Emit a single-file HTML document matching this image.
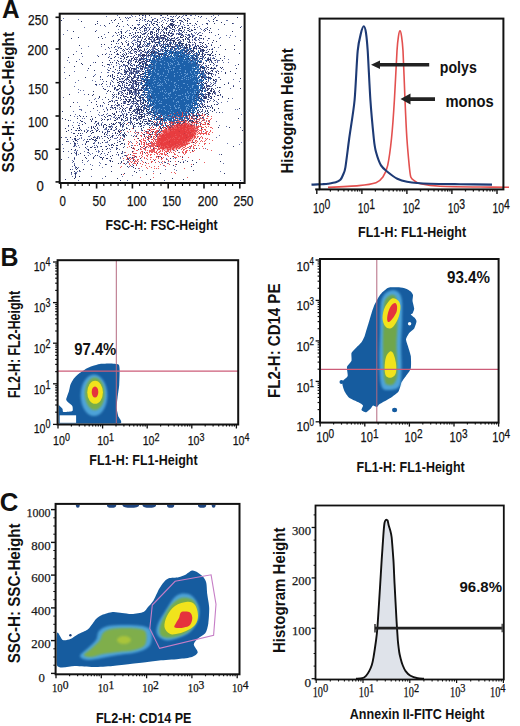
<!DOCTYPE html><html><head><meta charset="utf-8"><style>html,body{margin:0;padding:0;background:#fff;overflow:hidden;}svg{display:block;}</style></head><body><svg width="520" height="726" viewBox="0 0 520 726"><defs><filter id="bl" x="-10%" y="-10%" width="120%" height="120%"><feGaussianBlur stdDeviation="0.6"/></filter><filter id="bl2" x="-20%" y="-20%" width="140%" height="140%"><feGaussianBlur stdDeviation="1.2"/></filter><filter id="bl05" x="0" y="0" width="100%" height="100%"><feGaussianBlur stdDeviation="0.45"/></filter><clipPath id="cpBL"><rect x="58.6" y="261.2" width="178.6" height="162.3"/></clipPath><clipPath id="cpBR"><rect x="321" y="260" width="176.6" height="161.6"/></clipPath><clipPath id="cpCL"><rect x="56.6" y="504.9" width="181.9" height="168.4"/></clipPath><filter id="bl3" x="-30%" y="-30%" width="160%" height="160%"><feGaussianBlur stdDeviation="2.5"/></filter></defs><rect width="520" height="726" fill="#fff"/><text x="2" y="18.3" font-size="25.5" font-weight="bold" font-family='"Liberation Sans", sans-serif' fill="#111" textLength="17.6" lengthAdjust="spacingAndGlyphs">A</text><text x="0.5" y="266" font-size="25.5" font-weight="bold" font-family='"Liberation Sans", sans-serif' fill="#111" textLength="18.0" lengthAdjust="spacingAndGlyphs">B</text><text x="-0.3" y="511.3" font-size="26" font-weight="bold" font-family='"Liberation Sans", sans-serif' fill="#111" textLength="18.6" lengthAdjust="spacingAndGlyphs">C</text><g><g filter="url(#bl05)"><path d="M114 124h1v1h-1zM163 88h1v1h-1zM174 133h1v1h-1zM165 102h1v1h-1zM207 88h1v1h-1zM162 84h1v1h-1zM113 41h1v1h-1zM122 138h1v1h-1zM143 148h1v1h-1zM153 52h1v1h-1zM134 118h1v1h-1zM192 125h1v1h-1zM138 84h1v1h-1zM216 65h1v1h-1zM118 32h1v1h-1zM199 91h1v1h-1zM96 84h1v1h-1zM183 57h1v1h-1zM154 71h1v1h-1zM208 92h1v1h-1zM137 62h1v1h-1zM213 63h1v1h-1zM126 99h1v1h-1zM118 82h1v1h-1zM176 71h1v1h-1zM185 69h1v1h-1zM193 164h1v1h-1zM175 43h1v1h-1zM186 45h1v1h-1zM146 28h1v1h-1zM134 69h1v1h-1zM198 83h1v1h-1zM115 133h1v1h-1zM115 109h1v1h-1zM192 67h1v1h-1zM125 116h1v1h-1zM153 110h1v1h-1zM135 89h1v1h-1zM161 72h1v1h-1zM141 58h1v1h-1zM183 64h1v1h-1zM220 67h1v1h-1zM180 28h1v1h-1zM203 46h1v1h-1zM159 67h1v1h-1zM179 32h1v1h-1zM159 109h1v1h-1zM140 32h1v1h-1zM190 120h1v1h-1zM165 109h1v1h-1zM75 177h1v1h-1zM136 165h1v1h-1zM196 56h1v1h-1zM118 89h1v1h-1zM120 133h1v1h-1zM138 71h1v1h-1zM203 82h1v1h-1zM122 119h1v1h-1zM173 34h1v1h-1zM158 53h1v1h-1zM208 123h1v1h-1zM142 66h1v1h-1zM95 31h1v1h-1zM135 49h1v1h-1zM138 41h1v1h-1zM182 79h1v1h-1zM181 102h1v1h-1zM143 41h1v1h-1zM196 121h1v1h-1zM91 127h1v1h-1zM146 62h1v1h-1zM118 98h1v1h-1zM141 109h1v1h-1zM97 138h1v1h-1zM178 56h1v1h-1zM170 77h1v1h-1zM168 65h1v1h-1zM164 90h1v1h-1zM128 63h1v1h-1zM165 54h1v1h-1zM200 68h1v1h-1zM138 108h1v1h-1zM177 18h1v1h-1zM175 66h1v1h-1zM171 62h1v1h-1zM152 90h1v1h-1zM94 140h1v1h-1zM190 76h1v1h-1zM214 93h1v1h-1zM170 112h1v1h-1zM145 162h1v1h-1zM159 59h1v1h-1zM209 124h1v1h-1zM206 60h1v1h-1zM123 35h1v1h-1zM119 85h1v1h-1zM204 77h1v1h-1zM206 81h1v1h-1zM75 174h1v1h-1zM133 68h1v1h-1zM151 41h1v1h-1zM115 123h1v1h-1zM142 71h1v1h-1zM194 48h1v1h-1zM152 72h1v1h-1zM165 96h1v1h-1zM117 152h1v1h-1zM191 48h1v1h-1zM148 20h1v1h-1zM206 97h1v1h-1zM203 88h1v1h-1zM133 127h1v1h-1zM88 149h1v1h-1zM109 140h1v1h-1zM173 106h1v1h-1zM179 79h1v1h-1zM128 61h1v1h-1zM168 45h1v1h-1zM157 86h1v1h-1zM135 27h1v1h-1zM182 157h1v1h-1zM96 101h1v1h-1zM121 35h1v1h-1zM224 56h1v1h-1zM152 51h1v1h-1zM150 70h1v1h-1zM106 125h1v1h-1zM133 125h1v1h-1zM174 78h1v1h-1zM160 121h1v1h-1zM91 126h1v1h-1zM178 85h1v1h-1zM140 42h1v1h-1zM183 112h1v1h-1zM196 72h1v1h-1zM158 119h1v1h-1zM187 28h1v1h-1zM134 111h1v1h-1zM158 103h1v1h-1zM123 49h1v1h-1zM144 142h1v1h-1zM137 84h1v1h-1zM107 116h1v1h-1zM97 137h1v1h-1zM130 114h1v1h-1zM183 54h1v1h-1zM134 28h1v1h-1zM166 106h1v1h-1zM147 76h1v1h-1zM211 91h1v1h-1zM158 28h1v1h-1zM172 94h1v1h-1zM131 82h1v1h-1zM107 119h1v1h-1zM197 83h1v1h-1zM165 137h1v1h-1zM98 56h1v1h-1zM116 149h1v1h-1zM131 86h1v1h-1zM170 97h1v1h-1zM163 134h1v1h-1zM185 100h1v1h-1zM137 57h1v1h-1zM184 133h1v1h-1zM178 17h1v1h-1zM186 92h1v1h-1zM154 123h1v1h-1zM175 83h1v1h-1zM127 83h1v1h-1zM202 74h1v1h-1zM189 114h1v1h-1zM182 71h1v1h-1zM173 42h1v1h-1zM197 100h1v1h-1zM184 27h1v1h-1zM139 63h1v1h-1zM199 62h1v1h-1zM154 60h1v1h-1zM165 49h1v1h-1zM234 49h1v1h-1zM126 117h1v1h-1zM111 145h1v1h-1zM183 122h1v1h-1zM214 96h1v1h-1zM132 68h1v1h-1zM214 80h1v1h-1zM134 58h1v1h-1zM101 124h1v1h-1zM216 20h1v1h-1zM189 109h1v1h-1zM155 46h1v1h-1zM79 115h1v1h-1zM166 61h1v1h-1zM119 79h1v1h-1zM119 134h1v1h-1zM194 94h1v1h-1zM162 27h1v1h-1zM216 41h1v1h-1zM199 138h1v1h-1zM161 47h1v1h-1zM116 51h1v1h-1zM199 47h1v1h-1zM168 108h1v1h-1zM203 42h1v1h-1zM201 82h1v1h-1zM180 103h1v1h-1zM192 74h1v1h-1zM157 33h1v1h-1zM148 120h1v1h-1zM168 18h1v1h-1zM164 92h1v1h-1zM133 128h1v1h-1zM183 49h1v1h-1zM146 65h1v1h-1zM147 23h1v1h-1zM158 54h1v1h-1zM144 108h1v1h-1zM216 72h1v1h-1zM151 31h1v1h-1zM85 144h1v1h-1zM148 43h1v1h-1zM118 154h1v1h-1zM128 62h1v1h-1zM140 19h1v1h-1zM152 53h1v1h-1zM132 87h1v1h-1zM107 148h1v1h-1zM154 27h1v1h-1zM120 144h1v1h-1zM129 73h1v1h-1zM116 100h1v1h-1zM184 90h1v1h-1zM106 158h1v1h-1zM163 73h1v1h-1zM125 108h1v1h-1zM150 87h1v1h-1zM167 37h1v1h-1zM146 88h1v1h-1zM169 78h1v1h-1zM191 122h1v1h-1zM151 119h1v1h-1zM164 36h1v1h-1zM80 135h1v1h-1zM111 166h1v1h-1zM111 44h1v1h-1zM169 142h1v1h-1zM97 21h1v1h-1zM192 57h1v1h-1zM76 154h1v1h-1zM151 63h1v1h-1zM104 111h1v1h-1zM104 119h1v1h-1zM146 80h1v1h-1zM134 68h1v1h-1zM167 51h1v1h-1zM134 55h1v1h-1zM192 107h1v1h-1zM131 108h1v1h-1zM124 103h1v1h-1zM185 90h1v1h-1zM195 43h1v1h-1zM135 80h1v1h-1zM173 75h1v1h-1zM170 87h1v1h-1zM138 90h1v1h-1zM92 130h1v1h-1zM146 82h1v1h-1zM172 96h1v1h-1zM137 28h1v1h-1zM129 35h1v1h-1zM133 29h1v1h-1zM192 91h1v1h-1zM115 115h1v1h-1zM158 30h1v1h-1zM150 90h1v1h-1zM176 63h1v1h-1zM128 159h1v1h-1zM144 105h1v1h-1zM85 77h1v1h-1zM153 29h1v1h-1zM125 110h1v1h-1zM111 20h1v1h-1zM156 34h1v1h-1zM188 59h1v1h-1zM119 88h1v1h-1zM117 102h1v1h-1zM115 69h1v1h-1zM156 31h1v1h-1zM146 54h1v1h-1zM192 86h1v1h-1zM142 105h1v1h-1zM167 79h1v1h-1zM186 85h1v1h-1zM128 90h1v1h-1zM143 59h1v1h-1zM174 61h1v1h-1zM96 124h1v1h-1zM90 147h1v1h-1zM160 96h1v1h-1zM166 105h1v1h-1zM147 21h1v1h-1zM127 77h1v1h-1zM186 47h1v1h-1zM108 90h1v1h-1zM193 121h1v1h-1zM156 57h1v1h-1zM185 62h1v1h-1zM125 120h1v1h-1zM210 77h1v1h-1zM173 73h1v1h-1zM178 79h1v1h-1zM124 58h1v1h-1zM206 94h1v1h-1zM181 54h1v1h-1zM98 37h1v1h-1zM147 72h1v1h-1zM206 87h1v1h-1zM172 38h1v1h-1zM201 111h1v1h-1zM149 25h1v1h-1zM174 27h1v1h-1zM200 66h1v1h-1zM166 80h1v1h-1zM158 108h1v1h-1zM191 60h1v1h-1zM191 33h1v1h-1zM239 108h1v1h-1zM167 57h1v1h-1zM170 130h1v1h-1zM135 97h1v1h-1zM121 87h1v1h-1zM86 142h1v1h-1zM156 30h1v1h-1zM118 131h1v1h-1zM132 25h1v1h-1zM159 71h1v1h-1zM160 126h1v1h-1zM179 58h1v1h-1zM197 92h1v1h-1zM208 93h1v1h-1zM121 99h1v1h-1zM142 63h1v1h-1zM207 23h1v1h-1zM88 141h1v1h-1zM162 30h1v1h-1zM74 66h1v1h-1zM184 83h1v1h-1zM149 59h1v1h-1zM91 102h1v1h-1zM192 37h1v1h-1zM134 139h1v1h-1zM166 107h1v1h-1zM212 93h1v1h-1zM191 125h1v1h-1zM178 113h1v1h-1zM158 60h1v1h-1zM159 138h1v1h-1zM154 51h1v1h-1zM162 101h1v1h-1zM182 106h1v1h-1zM131 63h1v1h-1zM73 31h1v1h-1zM199 105h1v1h-1zM105 97h1v1h-1zM164 53h1v1h-1zM208 65h1v1h-1zM187 23h1v1h-1zM178 65h1v1h-1zM128 43h1v1h-1zM165 64h1v1h-1zM139 96h1v1h-1zM148 38h1v1h-1zM177 67h1v1h-1zM187 161h1v1h-1zM127 157h1v1h-1zM202 54h1v1h-1zM214 68h1v1h-1zM139 73h1v1h-1zM157 61h1v1h-1zM142 90h1v1h-1zM169 38h1v1h-1zM176 78h1v1h-1zM202 91h1v1h-1zM131 92h1v1h-1zM174 58h1v1h-1zM166 44h1v1h-1zM171 52h1v1h-1zM148 80h1v1h-1zM86 132h1v1h-1zM137 109h1v1h-1zM180 75h1v1h-1zM211 90h1v1h-1zM124 54h1v1h-1zM162 91h1v1h-1zM142 130h1v1h-1zM160 78h1v1h-1zM188 50h1v1h-1zM211 78h1v1h-1zM177 93h1v1h-1zM169 70h1v1h-1zM162 86h1v1h-1zM111 128h1v1h-1zM145 63h1v1h-1zM114 57h1v1h-1zM130 27h1v1h-1zM110 137h1v1h-1zM142 116h1v1h-1zM210 98h1v1h-1zM147 80h1v1h-1zM171 38h1v1h-1zM176 92h1v1h-1zM154 124h1v1h-1zM183 58h1v1h-1zM148 82h1v1h-1zM179 64h1v1h-1zM127 97h1v1h-1zM136 65h1v1h-1zM177 44h1v1h-1zM141 40h1v1h-1zM104 134h1v1h-1zM144 94h1v1h-1zM183 111h1v1h-1zM147 70h1v1h-1zM185 92h1v1h-1zM105 117h1v1h-1zM169 122h1v1h-1zM116 126h1v1h-1zM183 40h1v1h-1zM93 127h1v1h-1zM202 67h1v1h-1zM189 85h1v1h-1zM187 120h1v1h-1zM161 15h1v1h-1zM213 92h1v1h-1zM174 55h1v1h-1zM149 41h1v1h-1zM202 45h1v1h-1zM120 46h1v1h-1zM79 128h1v1h-1zM193 142h1v1h-1zM146 110h1v1h-1zM145 64h1v1h-1zM130 81h1v1h-1zM124 72h1v1h-1zM202 88h1v1h-1zM140 36h1v1h-1zM201 90h1v1h-1zM174 126h1v1h-1zM144 143h1v1h-1zM142 61h1v1h-1zM162 56h1v1h-1zM169 152h1v1h-1zM136 136h1v1h-1zM189 106h1v1h-1zM149 55h1v1h-1zM196 58h1v1h-1zM180 79h1v1h-1zM159 62h1v1h-1zM180 60h1v1h-1zM149 134h1v1h-1zM165 114h1v1h-1zM61 20h1v1h-1zM188 55h1v1h-1zM198 33h1v1h-1zM189 79h1v1h-1zM131 73h1v1h-1zM157 63h1v1h-1zM147 74h1v1h-1zM160 89h1v1h-1zM71 153h1v1h-1zM185 83h1v1h-1zM217 95h1v1h-1zM168 75h1v1h-1zM131 72h1v1h-1zM170 102h1v1h-1zM176 97h1v1h-1zM180 90h1v1h-1zM137 111h1v1h-1zM162 105h1v1h-1zM77 135h1v1h-1zM162 53h1v1h-1zM97 146h1v1h-1zM176 94h1v1h-1zM169 46h1v1h-1zM121 32h1v1h-1zM153 63h1v1h-1zM165 53h1v1h-1zM156 116h1v1h-1zM93 91h1v1h-1zM165 58h1v1h-1zM75 140h1v1h-1zM208 77h1v1h-1zM228 98h1v1h-1zM117 148h1v1h-1zM142 121h1v1h-1zM202 77h1v1h-1zM140 121h1v1h-1zM204 87h1v1h-1zM182 83h1v1h-1zM186 51h1v1h-1zM200 56h1v1h-1zM140 41h1v1h-1zM174 88h1v1h-1zM121 119h1v1h-1zM209 88h1v1h-1zM177 96h1v1h-1zM144 134h1v1h-1zM117 118h1v1h-1zM128 85h1v1h-1zM110 62h1v1h-1zM187 47h1v1h-1zM155 104h1v1h-1zM178 51h1v1h-1zM75 139h1v1h-1zM171 23h1v1h-1zM115 32h1v1h-1zM155 37h1v1h-1zM196 67h1v1h-1zM207 106h1v1h-1zM127 158h1v1h-1zM141 55h1v1h-1zM212 55h1v1h-1zM102 83h1v1h-1zM150 103h1v1h-1zM144 115h1v1h-1zM192 99h1v1h-1zM184 80h1v1h-1zM161 116h1v1h-1zM170 24h1v1h-1zM95 121h1v1h-1zM195 55h1v1h-1zM171 24h1v1h-1zM94 128h1v1h-1zM220 94h1v1h-1zM167 109h1v1h-1zM138 72h1v1h-1zM181 30h1v1h-1zM133 60h1v1h-1zM130 120h1v1h-1zM208 78h1v1h-1zM134 77h1v1h-1zM207 111h1v1h-1zM172 109h1v1h-1zM133 126h1v1h-1zM150 54h1v1h-1zM134 65h1v1h-1zM188 34h1v1h-1zM90 119h1v1h-1zM100 76h1v1h-1zM168 69h1v1h-1zM209 92h1v1h-1zM167 112h1v1h-1zM153 148h1v1h-1zM149 141h1v1h-1zM157 39h1v1h-1zM135 156h1v1h-1zM199 42h1v1h-1zM107 154h1v1h-1zM168 117h1v1h-1zM138 107h1v1h-1zM186 32h1v1h-1zM162 24h1v1h-1zM170 78h1v1h-1zM205 57h1v1h-1zM87 131h1v1h-1zM66 141h1v1h-1zM114 47h1v1h-1zM161 64h1v1h-1zM188 82h1v1h-1zM143 102h1v1h-1zM101 157h1v1h-1zM163 91h1v1h-1zM141 90h1v1h-1zM114 113h1v1h-1zM125 99h1v1h-1zM137 112h1v1h-1zM172 83h1v1h-1zM152 24h1v1h-1zM121 82h1v1h-1zM186 106h1v1h-1zM188 39h1v1h-1zM148 55h1v1h-1zM163 41h1v1h-1zM213 79h1v1h-1zM177 85h1v1h-1zM151 88h1v1h-1zM202 106h1v1h-1zM186 66h1v1h-1zM157 134h1v1h-1zM137 88h1v1h-1zM171 46h1v1h-1zM217 87h1v1h-1zM177 139h1v1h-1zM91 138h1v1h-1zM109 60h1v1h-1zM202 117h1v1h-1zM134 49h1v1h-1zM152 32h1v1h-1zM182 37h1v1h-1zM123 81h1v1h-1zM163 87h1v1h-1zM157 82h1v1h-1zM158 42h1v1h-1zM133 78h1v1h-1zM105 54h1v1h-1zM200 90h1v1h-1zM135 81h1v1h-1zM125 36h1v1h-1zM157 29h1v1h-1zM131 94h1v1h-1zM180 81h1v1h-1zM129 69h1v1h-1zM191 77h1v1h-1zM99 97h1v1h-1zM166 39h1v1h-1zM163 69h1v1h-1zM95 24h1v1h-1zM154 46h1v1h-1zM201 16h1v1h-1zM177 53h1v1h-1zM133 88h1v1h-1zM151 112h1v1h-1zM74 158h1v1h-1zM234 45h1v1h-1zM159 84h1v1h-1zM138 138h1v1h-1zM155 90h1v1h-1zM142 151h1v1h-1zM200 48h1v1h-1zM76 153h1v1h-1zM143 55h1v1h-1zM73 161h1v1h-1zM215 79h1v1h-1zM178 115h1v1h-1zM150 39h1v1h-1zM171 19h1v1h-1zM121 130h1v1h-1zM207 86h1v1h-1zM118 104h1v1h-1zM139 37h1v1h-1zM122 151h1v1h-1zM189 95h1v1h-1zM176 111h1v1h-1zM178 62h1v1h-1zM152 68h1v1h-1zM163 37h1v1h-1zM194 115h1v1h-1zM124 129h1v1h-1zM215 81h1v1h-1zM144 69h1v1h-1zM218 71h1v1h-1zM169 143h1v1h-1zM173 98h1v1h-1zM118 122h1v1h-1zM121 48h1v1h-1zM133 73h1v1h-1zM177 65h1v1h-1zM143 100h1v1h-1zM146 59h1v1h-1zM225 73h1v1h-1zM125 66h1v1h-1zM170 53h1v1h-1zM159 55h1v1h-1zM195 60h1v1h-1zM151 103h1v1h-1zM156 94h1v1h-1zM210 90h1v1h-1zM153 104h1v1h-1zM240 40h1v1h-1zM184 19h1v1h-1zM197 63h1v1h-1zM86 141h1v1h-1zM185 58h1v1h-1zM190 96h1v1h-1zM181 52h1v1h-1zM188 66h1v1h-1zM110 161h1v1h-1zM188 77h1v1h-1zM152 123h1v1h-1zM181 92h1v1h-1zM125 96h1v1h-1zM144 39h1v1h-1zM120 122h1v1h-1zM169 42h1v1h-1zM124 135h1v1h-1zM218 95h1v1h-1zM164 77h1v1h-1zM122 143h1v1h-1zM205 54h1v1h-1zM141 68h1v1h-1zM211 89h1v1h-1zM176 64h1v1h-1zM123 64h1v1h-1zM201 83h1v1h-1zM181 101h1v1h-1zM174 100h1v1h-1zM173 24h1v1h-1zM158 117h1v1h-1zM134 36h1v1h-1zM166 30h1v1h-1zM158 71h1v1h-1zM195 29h1v1h-1zM170 45h1v1h-1zM159 104h1v1h-1zM166 41h1v1h-1zM145 24h1v1h-1zM178 68h1v1h-1zM154 107h1v1h-1zM168 90h1v1h-1zM170 43h1v1h-1zM183 134h1v1h-1zM144 116h1v1h-1zM117 178h1v1h-1zM191 69h1v1h-1zM135 69h1v1h-1zM120 125h1v1h-1zM75 173h1v1h-1zM180 42h1v1h-1zM203 100h1v1h-1zM144 136h1v1h-1zM150 134h1v1h-1zM131 97h1v1h-1zM165 86h1v1h-1zM102 159h1v1h-1zM151 37h1v1h-1zM143 79h1v1h-1zM219 112h1v1h-1zM113 40h1v1h-1zM225 49h1v1h-1zM184 53h1v1h-1zM208 96h1v1h-1zM166 103h1v1h-1zM174 91h1v1h-1zM154 55h1v1h-1zM170 50h1v1h-1zM119 68h1v1h-1zM117 133h1v1h-1zM156 78h1v1h-1zM166 46h1v1h-1zM155 74h1v1h-1zM208 51h1v1h-1zM148 102h1v1h-1zM153 127h1v1h-1zM153 122h1v1h-1zM157 55h1v1h-1zM104 116h1v1h-1zM149 123h1v1h-1zM192 51h1v1h-1zM125 32h1v1h-1zM215 17h1v1h-1zM116 122h1v1h-1zM148 81h1v1h-1zM191 70h1v1h-1zM122 43h1v1h-1zM196 75h1v1h-1zM131 74h1v1h-1zM166 36h1v1h-1zM133 82h1v1h-1zM125 71h1v1h-1zM197 88h1v1h-1zM201 97h1v1h-1zM179 43h1v1h-1zM132 49h1v1h-1zM157 100h1v1h-1zM121 88h1v1h-1zM133 34h1v1h-1zM107 64h1v1h-1zM150 33h1v1h-1zM104 44h1v1h-1zM219 87h1v1h-1zM148 65h1v1h-1zM173 100h1v1h-1zM203 56h1v1h-1zM161 55h1v1h-1zM108 152h1v1h-1zM188 30h1v1h-1zM154 32h1v1h-1zM110 75h1v1h-1zM215 60h1v1h-1zM163 96h1v1h-1zM165 46h1v1h-1zM140 126h1v1h-1zM157 88h1v1h-1zM126 83h1v1h-1zM195 88h1v1h-1zM149 113h1v1h-1zM177 27h1v1h-1zM208 54h1v1h-1zM182 53h1v1h-1zM189 31h1v1h-1zM218 127h1v1h-1zM85 147h1v1h-1zM130 96h1v1h-1zM209 86h1v1h-1zM177 76h1v1h-1zM174 41h1v1h-1zM153 78h1v1h-1zM125 134h1v1h-1zM110 126h1v1h-1zM189 72h1v1h-1zM164 112h1v1h-1zM174 129h1v1h-1zM175 81h1v1h-1zM191 101h1v1h-1zM149 15h1v1h-1zM167 56h1v1h-1zM202 43h1v1h-1zM182 120h1v1h-1zM140 109h1v1h-1zM118 92h1v1h-1zM191 50h1v1h-1zM118 93h1v1h-1zM121 120h1v1h-1zM164 86h1v1h-1zM169 65h1v1h-1zM145 101h1v1h-1zM119 83h1v1h-1zM205 106h1v1h-1zM114 72h1v1h-1zM131 77h1v1h-1zM151 131h1v1h-1zM157 113h1v1h-1zM162 61h1v1h-1zM159 117h1v1h-1zM172 26h1v1h-1zM170 79h1v1h-1zM182 84h1v1h-1zM167 104h1v1h-1zM175 89h1v1h-1zM135 28h1v1h-1zM127 92h1v1h-1zM206 108h1v1h-1zM139 106h1v1h-1zM120 108h1v1h-1zM162 70h1v1h-1zM140 43h1v1h-1zM118 130h1v1h-1zM120 37h1v1h-1zM114 20h1v1h-1zM143 73h1v1h-1zM151 87h1v1h-1zM117 54h1v1h-1zM209 77h1v1h-1zM102 65h1v1h-1zM180 64h1v1h-1zM140 123h1v1h-1zM170 127h1v1h-1zM166 100h1v1h-1zM166 126h1v1h-1zM183 36h1v1h-1zM176 79h1v1h-1zM212 52h1v1h-1zM139 110h1v1h-1zM154 90h1v1h-1zM204 97h1v1h-1zM146 67h1v1h-1zM151 95h1v1h-1zM172 31h1v1h-1zM131 48h1v1h-1zM210 64h1v1h-1zM188 52h1v1h-1zM116 62h1v1h-1zM141 27h1v1h-1zM114 89h1v1h-1zM131 147h1v1h-1zM173 66h1v1h-1zM102 62h1v1h-1zM156 79h1v1h-1zM213 21h1v1h-1zM154 59h1v1h-1zM179 20h1v1h-1zM153 117h1v1h-1zM137 123h1v1h-1zM176 73h1v1h-1zM137 67h1v1h-1zM173 99h1v1h-1zM196 123h1v1h-1zM161 118h1v1h-1zM186 77h1v1h-1zM197 93h1v1h-1zM147 115h1v1h-1zM132 43h1v1h-1zM139 47h1v1h-1zM142 106h1v1h-1zM160 81h1v1h-1zM201 73h1v1h-1zM156 105h1v1h-1zM65 128h1v1h-1zM154 39h1v1h-1zM149 105h1v1h-1zM122 21h1v1h-1zM188 119h1v1h-1zM220 79h1v1h-1zM185 97h1v1h-1zM124 144h1v1h-1zM142 56h1v1h-1zM149 87h1v1h-1zM143 111h1v1h-1zM134 89h1v1h-1zM138 110h1v1h-1zM132 157h1v1h-1zM184 70h1v1h-1zM123 95h1v1h-1zM169 26h1v1h-1zM189 105h1v1h-1zM196 46h1v1h-1zM161 130h1v1h-1zM126 135h1v1h-1zM142 55h1v1h-1zM191 116h1v1h-1zM242 130h1v1h-1zM158 124h1v1h-1zM108 99h1v1h-1zM143 64h1v1h-1zM190 115h1v1h-1zM82 160h1v1h-1zM112 144h1v1h-1zM127 24h1v1h-1zM116 111h1v1h-1zM183 114h1v1h-1zM140 47h1v1h-1zM174 40h1v1h-1zM135 92h1v1h-1zM193 114h1v1h-1zM139 98h1v1h-1zM167 60h1v1h-1zM177 78h1v1h-1zM142 83h1v1h-1zM205 71h1v1h-1zM181 124h1v1h-1zM132 46h1v1h-1zM119 131h1v1h-1zM206 77h1v1h-1zM178 60h1v1h-1zM125 17h1v1h-1zM155 71h1v1h-1zM140 28h1v1h-1zM137 46h1v1h-1zM147 95h1v1h-1zM159 29h1v1h-1zM93 143h1v1h-1zM131 162h1v1h-1zM155 81h1v1h-1zM148 73h1v1h-1zM113 145h1v1h-1zM154 23h1v1h-1zM130 117h1v1h-1zM158 65h1v1h-1zM189 81h1v1h-1zM122 83h1v1h-1zM196 97h1v1h-1zM153 56h1v1h-1zM188 109h1v1h-1zM163 58h1v1h-1zM169 80h1v1h-1zM181 91h1v1h-1zM202 53h1v1h-1zM187 53h1v1h-1zM183 120h1v1h-1zM138 100h1v1h-1zM136 172h1v1h-1zM93 157h1v1h-1zM183 31h1v1h-1zM141 106h1v1h-1zM194 59h1v1h-1zM163 105h1v1h-1zM175 96h1v1h-1zM143 91h1v1h-1zM172 49h1v1h-1zM148 137h1v1h-1zM156 112h1v1h-1zM81 130h1v1h-1zM116 43h1v1h-1zM154 66h1v1h-1zM181 43h1v1h-1zM148 143h1v1h-1zM164 87h1v1h-1zM140 68h1v1h-1zM165 39h1v1h-1zM201 76h1v1h-1zM151 51h1v1h-1zM185 59h1v1h-1zM141 104h1v1h-1zM140 124h1v1h-1zM130 154h1v1h-1zM117 25h1v1h-1zM138 54h1v1h-1zM139 75h1v1h-1zM157 108h1v1h-1zM171 100h1v1h-1zM154 62h1v1h-1zM130 110h1v1h-1zM144 113h1v1h-1zM144 50h1v1h-1zM199 71h1v1h-1zM93 94h1v1h-1zM173 165h1v1h-1zM201 38h1v1h-1zM167 46h1v1h-1zM155 42h1v1h-1zM117 75h1v1h-1zM157 42h1v1h-1zM112 135h1v1h-1zM193 72h1v1h-1zM159 43h1v1h-1zM145 52h1v1h-1zM112 136h1v1h-1zM176 74h1v1h-1zM188 79h1v1h-1zM184 131h1v1h-1zM172 89h1v1h-1zM79 127h1v1h-1zM148 138h1v1h-1zM115 56h1v1h-1zM164 75h1v1h-1zM134 27h1v1h-1zM189 63h1v1h-1zM214 91h1v1h-1zM149 37h1v1h-1zM196 52h1v1h-1zM81 53h1v1h-1zM183 105h1v1h-1zM171 129h1v1h-1zM152 139h1v1h-1zM193 86h1v1h-1zM149 72h1v1h-1zM183 94h1v1h-1zM170 56h1v1h-1zM133 57h1v1h-1zM111 129h1v1h-1zM135 168h1v1h-1zM188 100h1v1h-1zM196 71h1v1h-1zM240 78h1v1h-1zM146 111h1v1h-1zM136 49h1v1h-1zM142 58h1v1h-1zM76 140h1v1h-1zM145 38h1v1h-1zM132 113h1v1h-1zM177 75h1v1h-1zM166 108h1v1h-1zM208 43h1v1h-1zM173 47h1v1h-1zM107 109h1v1h-1zM137 78h1v1h-1zM95 149h1v1h-1zM139 62h1v1h-1zM208 58h1v1h-1zM187 109h1v1h-1zM157 75h1v1h-1zM126 54h1v1h-1zM104 140h1v1h-1zM68 120h1v1h-1zM120 137h1v1h-1zM172 25h1v1h-1zM147 137h1v1h-1zM117 82h1v1h-1zM135 98h1v1h-1zM160 62h1v1h-1zM94 147h1v1h-1zM137 41h1v1h-1zM197 74h1v1h-1zM189 74h1v1h-1zM187 117h1v1h-1zM203 107h1v1h-1zM83 116h1v1h-1zM189 69h1v1h-1zM150 84h1v1h-1zM174 70h1v1h-1zM105 124h1v1h-1zM146 101h1v1h-1zM103 157h1v1h-1zM185 107h1v1h-1zM200 46h1v1h-1zM192 89h1v1h-1zM189 37h1v1h-1zM120 58h1v1h-1zM179 45h1v1h-1zM108 138h1v1h-1zM212 85h1v1h-1zM186 15h1v1h-1zM73 141h1v1h-1zM181 37h1v1h-1zM185 126h1v1h-1zM190 82h1v1h-1zM169 94h1v1h-1zM174 50h1v1h-1zM191 30h1v1h-1zM202 47h1v1h-1zM62 111h1v1h-1zM145 55h1v1h-1zM218 34h1v1h-1zM205 98h1v1h-1zM136 102h1v1h-1zM208 85h1v1h-1zM180 20h1v1h-1zM198 54h1v1h-1zM73 127h1v1h-1zM146 106h1v1h-1zM165 38h1v1h-1zM162 37h1v1h-1zM176 85h1v1h-1zM154 89h1v1h-1zM185 60h1v1h-1zM96 140h1v1h-1zM167 28h1v1h-1zM188 65h1v1h-1zM166 78h1v1h-1zM134 76h1v1h-1zM163 81h1v1h-1zM142 54h1v1h-1zM108 47h1v1h-1zM144 77h1v1h-1zM152 88h1v1h-1zM152 58h1v1h-1zM139 140h1v1h-1zM184 65h1v1h-1zM164 104h1v1h-1zM214 110h1v1h-1zM191 166h1v1h-1zM193 66h1v1h-1zM139 144h1v1h-1zM159 51h1v1h-1zM170 110h1v1h-1zM133 117h1v1h-1zM214 100h1v1h-1zM74 171h1v1h-1zM187 95h1v1h-1zM159 94h1v1h-1zM115 127h1v1h-1zM77 118h1v1h-1zM213 89h1v1h-1zM151 127h1v1h-1zM161 74h1v1h-1zM118 163h1v1h-1zM131 58h1v1h-1zM188 58h1v1h-1zM131 122h1v1h-1zM206 47h1v1h-1zM158 110h1v1h-1zM121 33h1v1h-1zM175 49h1v1h-1zM152 132h1v1h-1zM167 90h1v1h-1zM192 62h1v1h-1zM155 73h1v1h-1zM165 69h1v1h-1zM193 109h1v1h-1zM128 51h1v1h-1zM210 93h1v1h-1zM198 100h1v1h-1zM137 75h1v1h-1zM177 101h1v1h-1zM185 85h1v1h-1zM144 33h1v1h-1zM162 135h1v1h-1zM124 136h1v1h-1zM146 64h1v1h-1zM159 40h1v1h-1zM203 63h1v1h-1zM142 26h1v1h-1zM177 80h1v1h-1zM121 36h1v1h-1zM193 85h1v1h-1zM177 55h1v1h-1zM173 128h1v1h-1zM123 76h1v1h-1zM91 147h1v1h-1zM172 47h1v1h-1zM142 73h1v1h-1zM199 75h1v1h-1zM163 94h1v1h-1zM159 39h1v1h-1zM174 89h1v1h-1zM180 119h1v1h-1zM192 160h1v1h-1zM111 105h1v1h-1zM183 115h1v1h-1zM174 80h1v1h-1zM105 89h1v1h-1zM94 70h1v1h-1zM170 106h1v1h-1zM160 173h1v1h-1zM176 61h1v1h-1zM203 94h1v1h-1zM112 62h1v1h-1zM211 88h1v1h-1zM202 49h1v1h-1zM154 48h1v1h-1zM122 85h1v1h-1zM203 51h1v1h-1zM66 131h1v1h-1zM148 54h1v1h-1zM189 58h1v1h-1zM129 129h1v1h-1zM194 68h1v1h-1zM162 79h1v1h-1zM167 15h1v1h-1zM164 83h1v1h-1zM130 64h1v1h-1zM109 126h1v1h-1zM136 81h1v1h-1zM193 47h1v1h-1zM168 61h1v1h-1zM199 52h1v1h-1zM130 118h1v1h-1zM175 84h1v1h-1zM174 104h1v1h-1zM165 88h1v1h-1zM207 67h1v1h-1zM151 136h1v1h-1zM145 27h1v1h-1zM201 46h1v1h-1zM146 58h1v1h-1zM129 68h1v1h-1zM127 66h1v1h-1zM188 28h1v1h-1zM95 117h1v1h-1zM204 68h1v1h-1zM133 136h1v1h-1zM116 96h1v1h-1zM163 79h1v1h-1zM178 87h1v1h-1zM200 35h1v1h-1zM110 91h1v1h-1zM118 40h1v1h-1zM153 23h1v1h-1zM183 93h1v1h-1zM161 108h1v1h-1zM192 106h1v1h-1zM140 158h1v1h-1zM164 28h1v1h-1zM168 86h1v1h-1zM213 91h1v1h-1zM124 163h1v1h-1zM144 55h1v1h-1zM144 54h1v1h-1zM176 113h1v1h-1zM211 105h1v1h-1zM153 68h1v1h-1zM167 115h1v1h-1zM93 139h1v1h-1zM228 83h1v1h-1zM157 102h1v1h-1zM161 83h1v1h-1zM159 74h1v1h-1zM163 71h1v1h-1zM131 53h1v1h-1zM159 123h1v1h-1zM163 64h1v1h-1zM192 140h1v1h-1zM117 35h1v1h-1zM204 98h1v1h-1zM137 96h1v1h-1zM138 75h1v1h-1zM143 99h1v1h-1zM154 56h1v1h-1zM207 77h1v1h-1zM124 173h1v1h-1zM169 101h1v1h-1zM215 68h1v1h-1zM187 107h1v1h-1zM196 113h1v1h-1zM183 55h1v1h-1zM162 97h1v1h-1zM126 71h1v1h-1zM174 56h1v1h-1zM171 105h1v1h-1zM210 96h1v1h-1zM76 167h1v1h-1zM139 90h1v1h-1zM179 44h1v1h-1zM131 50h1v1h-1zM165 70h1v1h-1zM157 77h1v1h-1zM74 145h1v1h-1zM172 104h1v1h-1zM178 78h1v1h-1zM73 54h1v1h-1zM152 41h1v1h-1zM126 57h1v1h-1zM121 124h1v1h-1zM143 61h1v1h-1zM158 82h1v1h-1zM138 94h1v1h-1zM173 25h1v1h-1zM180 62h1v1h-1zM141 110h1v1h-1zM167 153h1v1h-1zM143 134h1v1h-1zM118 117h1v1h-1zM186 73h1v1h-1zM192 92h1v1h-1zM109 23h1v1h-1zM128 68h1v1h-1zM174 37h1v1h-1zM74 138h1v1h-1zM189 89h1v1h-1zM212 71h1v1h-1zM113 78h1v1h-1zM126 53h1v1h-1zM131 91h1v1h-1zM163 43h1v1h-1zM205 83h1v1h-1zM135 57h1v1h-1zM167 142h1v1h-1zM181 76h1v1h-1zM176 102h1v1h-1zM70 169h1v1h-1zM122 54h1v1h-1zM171 84h1v1h-1zM183 142h1v1h-1zM204 86h1v1h-1zM177 126h1v1h-1zM111 123h1v1h-1zM193 49h1v1h-1zM121 103h1v1h-1zM146 131h1v1h-1zM91 133h1v1h-1zM204 47h1v1h-1zM166 93h1v1h-1zM147 109h1v1h-1zM187 106h1v1h-1zM133 71h1v1h-1zM184 93h1v1h-1zM143 74h1v1h-1zM117 60h1v1h-1zM149 120h1v1h-1zM200 70h1v1h-1zM90 131h1v1h-1zM112 161h1v1h-1zM102 79h1v1h-1zM127 119h1v1h-1zM156 124h1v1h-1zM159 63h1v1h-1zM104 25h1v1h-1zM199 94h1v1h-1zM232 23h1v1h-1zM118 23h1v1h-1zM101 36h1v1h-1zM181 69h1v1h-1zM133 99h1v1h-1zM146 121h1v1h-1zM149 66h1v1h-1zM113 124h1v1h-1zM168 98h1v1h-1zM142 153h1v1h-1zM176 62h1v1h-1zM154 160h1v1h-1zM205 72h1v1h-1zM131 65h1v1h-1zM196 148h1v1h-1zM93 108h1v1h-1zM123 61h1v1h-1zM182 44h1v1h-1zM161 54h1v1h-1zM102 142h1v1h-1zM114 88h1v1h-1zM185 68h1v1h-1zM141 117h1v1h-1zM203 96h1v1h-1zM164 118h1v1h-1zM101 146h1v1h-1zM204 96h1v1h-1zM115 107h1v1h-1zM117 80h1v1h-1zM153 84h1v1h-1zM210 107h1v1h-1zM220 58h1v1h-1zM178 103h1v1h-1zM158 55h1v1h-1zM212 51h1v1h-1zM136 95h1v1h-1zM171 35h1v1h-1zM119 39h1v1h-1zM144 26h1v1h-1zM161 91h1v1h-1zM182 34h1v1h-1zM147 113h1v1h-1zM92 95h1v1h-1zM204 91h1v1h-1zM170 158h1v1h-1zM173 16h1v1h-1zM75 143h1v1h-1zM199 82h1v1h-1zM124 123h1v1h-1zM158 75h1v1h-1zM144 100h1v1h-1zM174 102h1v1h-1zM195 23h1v1h-1zM221 22h1v1h-1zM122 94h1v1h-1zM209 55h1v1h-1zM97 130h1v1h-1zM186 69h1v1h-1zM104 136h1v1h-1zM174 65h1v1h-1zM188 25h1v1h-1zM169 32h1v1h-1zM123 108h1v1h-1zM186 98h1v1h-1zM157 119h1v1h-1zM167 44h1v1h-1zM93 132h1v1h-1zM123 56h1v1h-1zM172 19h1v1h-1zM173 21h1v1h-1zM155 86h1v1h-1zM79 130h1v1h-1zM198 65h1v1h-1zM192 121h1v1h-1zM186 75h1v1h-1zM187 20h1v1h-1zM186 93h1v1h-1zM130 90h1v1h-1zM76 152h1v1h-1zM134 75h1v1h-1zM135 51h1v1h-1zM197 87h1v1h-1zM140 65h1v1h-1zM130 93h1v1h-1zM181 45h1v1h-1zM136 66h1v1h-1zM183 59h1v1h-1zM150 80h1v1h-1zM185 51h1v1h-1zM179 28h1v1h-1zM200 67h1v1h-1zM212 42h1v1h-1zM93 76h1v1h-1zM185 116h1v1h-1zM122 110h1v1h-1zM138 149h1v1h-1zM133 167h1v1h-1zM173 156h1v1h-1zM188 95h1v1h-1zM164 101h1v1h-1zM143 107h1v1h-1zM184 48h1v1h-1zM139 45h1v1h-1zM150 179h1v1h-1zM119 141h1v1h-1zM158 58h1v1h-1zM117 103h1v1h-1zM127 49h1v1h-1zM156 136h1v1h-1zM198 46h1v1h-1zM156 89h1v1h-1zM198 87h1v1h-1zM200 51h1v1h-1zM156 80h1v1h-1zM202 109h1v1h-1zM119 17h1v1h-1zM159 146h1v1h-1zM179 42h1v1h-1zM135 88h1v1h-1zM198 55h1v1h-1zM110 51h1v1h-1zM180 30h1v1h-1zM130 33h1v1h-1zM170 20h1v1h-1zM162 121h1v1h-1zM195 56h1v1h-1zM163 75h1v1h-1zM202 71h1v1h-1zM120 180h1v1h-1zM142 87h1v1h-1zM74 143h1v1h-1zM124 46h1v1h-1zM135 83h1v1h-1zM168 106h1v1h-1zM132 103h1v1h-1zM184 124h1v1h-1zM167 68h1v1h-1zM81 121h1v1h-1zM189 86h1v1h-1zM145 102h1v1h-1zM178 98h1v1h-1zM146 92h1v1h-1zM191 72h1v1h-1zM141 114h1v1h-1zM181 112h1v1h-1zM185 79h1v1h-1zM93 158h1v1h-1zM210 73h1v1h-1zM160 92h1v1h-1zM176 116h1v1h-1zM157 37h1v1h-1zM182 81h1v1h-1zM217 104h1v1h-1zM170 115h1v1h-1zM189 82h1v1h-1zM183 43h1v1h-1zM189 40h1v1h-1zM150 79h1v1h-1zM164 64h1v1h-1zM169 109h1v1h-1zM184 50h1v1h-1zM157 83h1v1h-1zM220 45h1v1h-1zM115 19h1v1h-1zM211 61h1v1h-1zM133 101h1v1h-1zM164 54h1v1h-1zM116 112h1v1h-1zM131 90h1v1h-1zM86 116h1v1h-1zM192 36h1v1h-1zM213 40h1v1h-1zM78 130h1v1h-1zM127 101h1v1h-1zM121 61h1v1h-1zM154 81h1v1h-1zM163 42h1v1h-1zM175 77h1v1h-1zM221 68h1v1h-1zM166 128h1v1h-1zM185 135h1v1h-1zM159 69h1v1h-1zM151 34h1v1h-1zM141 87h1v1h-1zM109 124h1v1h-1zM96 104h1v1h-1zM202 55h1v1h-1zM71 129h1v1h-1zM190 102h1v1h-1zM184 112h1v1h-1zM174 53h1v1h-1zM129 70h1v1h-1zM143 51h1v1h-1zM144 36h1v1h-1zM206 61h1v1h-1zM68 57h1v1h-1zM156 35h1v1h-1zM133 98h1v1h-1zM165 106h1v1h-1zM195 100h1v1h-1zM100 105h1v1h-1zM167 88h1v1h-1zM171 78h1v1h-1zM133 115h1v1h-1zM203 49h1v1h-1zM164 95h1v1h-1zM69 75h1v1h-1zM167 49h1v1h-1zM175 56h1v1h-1zM182 98h1v1h-1zM157 124h1v1h-1zM230 71h1v1h-1zM132 151h1v1h-1zM114 114h1v1h-1zM172 52h1v1h-1zM112 75h1v1h-1zM128 77h1v1h-1zM156 71h1v1h-1zM83 169h1v1h-1zM147 97h1v1h-1zM164 81h1v1h-1zM165 105h1v1h-1zM191 71h1v1h-1zM140 101h1v1h-1zM133 100h1v1h-1zM71 172h1v1h-1zM203 71h1v1h-1zM141 80h1v1h-1zM124 38h1v1h-1zM141 111h1v1h-1zM80 153h1v1h-1zM75 136h1v1h-1zM232 31h1v1h-1zM95 62h1v1h-1zM132 101h1v1h-1zM200 58h1v1h-1zM179 39h1v1h-1zM133 44h1v1h-1zM182 73h1v1h-1zM201 86h1v1h-1zM131 68h1v1h-1zM158 48h1v1h-1zM114 120h1v1h-1zM159 107h1v1h-1zM111 41h1v1h-1zM210 28h1v1h-1zM101 136h1v1h-1zM207 54h1v1h-1zM198 98h1v1h-1zM146 81h1v1h-1zM132 80h1v1h-1zM158 109h1v1h-1zM164 115h1v1h-1zM150 69h1v1h-1zM185 82h1v1h-1zM124 80h1v1h-1zM189 46h1v1h-1zM187 76h1v1h-1zM195 75h1v1h-1zM180 106h1v1h-1zM180 101h1v1h-1zM150 81h1v1h-1zM171 25h1v1h-1zM183 89h1v1h-1zM164 106h1v1h-1zM178 76h1v1h-1zM189 47h1v1h-1zM218 73h1v1h-1zM126 128h1v1h-1zM185 39h1v1h-1zM150 114h1v1h-1zM206 79h1v1h-1zM154 70h1v1h-1zM174 105h1v1h-1zM179 59h1v1h-1zM156 82h1v1h-1zM158 80h1v1h-1zM162 119h1v1h-1zM180 46h1v1h-1zM170 49h1v1h-1zM166 65h1v1h-1zM198 92h1v1h-1zM126 85h1v1h-1zM182 28h1v1h-1zM202 113h1v1h-1zM204 106h1v1h-1zM197 75h1v1h-1zM158 83h1v1h-1zM173 111h1v1h-1zM170 116h1v1h-1zM68 130h1v1h-1zM205 97h1v1h-1zM157 117h1v1h-1zM151 97h1v1h-1zM196 118h1v1h-1zM198 82h1v1h-1zM138 91h1v1h-1zM211 73h1v1h-1zM80 120h1v1h-1zM146 97h1v1h-1zM185 36h1v1h-1zM194 71h1v1h-1zM138 77h1v1h-1zM189 56h1v1h-1zM178 106h1v1h-1zM166 73h1v1h-1zM207 101h1v1h-1zM195 83h1v1h-1zM198 103h1v1h-1zM108 64h1v1h-1zM174 95h1v1h-1zM211 98h1v1h-1zM81 21h1v1h-1zM168 32h1v1h-1zM123 90h1v1h-1zM103 127h1v1h-1zM159 58h1v1h-1zM163 89h1v1h-1zM163 84h1v1h-1zM123 135h1v1h-1zM183 79h1v1h-1zM194 105h1v1h-1zM107 137h1v1h-1zM186 109h1v1h-1zM205 114h1v1h-1zM175 69h1v1h-1zM214 104h1v1h-1zM141 47h1v1h-1zM136 89h1v1h-1zM122 109h1v1h-1zM180 122h1v1h-1zM132 78h1v1h-1zM190 36h1v1h-1zM176 120h1v1h-1zM120 97h1v1h-1zM77 168h1v1h-1zM160 59h1v1h-1zM206 66h1v1h-1zM113 123h1v1h-1zM171 80h1v1h-1zM65 119h1v1h-1zM162 127h1v1h-1zM155 70h1v1h-1zM196 63h1v1h-1zM96 131h1v1h-1zM140 98h1v1h-1zM143 57h1v1h-1zM160 41h1v1h-1zM137 80h1v1h-1zM157 24h1v1h-1zM221 154h1v1h-1zM172 40h1v1h-1zM178 80h1v1h-1zM210 60h1v1h-1zM174 31h1v1h-1zM160 58h1v1h-1zM156 74h1v1h-1zM136 123h1v1h-1zM156 37h1v1h-1zM199 77h1v1h-1zM198 16h1v1h-1zM158 50h1v1h-1zM91 128h1v1h-1zM153 25h1v1h-1zM154 110h1v1h-1zM128 56h1v1h-1zM145 19h1v1h-1zM155 97h1v1h-1zM130 108h1v1h-1zM161 86h1v1h-1zM168 59h1v1h-1zM154 84h1v1h-1zM212 70h1v1h-1zM219 90h1v1h-1zM153 129h1v1h-1zM178 122h1v1h-1zM137 101h1v1h-1zM156 97h1v1h-1zM201 115h1v1h-1zM128 102h1v1h-1zM132 98h1v1h-1zM161 53h1v1h-1zM177 94h1v1h-1zM138 48h1v1h-1zM91 116h1v1h-1zM212 76h1v1h-1zM209 49h1v1h-1zM173 51h1v1h-1zM165 48h1v1h-1zM71 38h1v1h-1zM113 66h1v1h-1zM136 72h1v1h-1zM121 174h1v1h-1zM154 115h1v1h-1zM139 112h1v1h-1zM214 23h1v1h-1zM179 112h1v1h-1zM125 118h1v1h-1zM130 97h1v1h-1zM196 94h1v1h-1zM130 46h1v1h-1zM138 132h1v1h-1zM161 37h1v1h-1zM152 42h1v1h-1zM162 26h1v1h-1zM168 58h1v1h-1zM111 58h1v1h-1zM174 79h1v1h-1zM172 62h1v1h-1zM161 157h1v1h-1zM194 101h1v1h-1zM200 88h1v1h-1zM131 35h1v1h-1zM168 93h1v1h-1zM123 140h1v1h-1zM133 89h1v1h-1zM115 46h1v1h-1zM138 122h1v1h-1zM224 84h1v1h-1zM143 25h1v1h-1zM95 126h1v1h-1zM196 102h1v1h-1zM152 102h1v1h-1zM156 98h1v1h-1zM184 47h1v1h-1zM102 151h1v1h-1zM169 111h1v1h-1zM193 105h1v1h-1zM167 65h1v1h-1zM114 78h1v1h-1zM178 71h1v1h-1zM128 79h1v1h-1zM142 51h1v1h-1zM152 134h1v1h-1zM152 60h1v1h-1zM187 118h1v1h-1zM108 57h1v1h-1zM80 133h1v1h-1zM187 21h1v1h-1zM177 86h1v1h-1zM114 94h1v1h-1zM150 52h1v1h-1zM162 77h1v1h-1zM196 24h1v1h-1zM135 62h1v1h-1zM67 139h1v1h-1zM173 65h1v1h-1zM186 137h1v1h-1zM163 111h1v1h-1zM181 120h1v1h-1zM121 65h1v1h-1zM144 84h1v1h-1zM152 80h1v1h-1zM166 69h1v1h-1zM177 22h1v1h-1zM110 68h1v1h-1zM88 152h1v1h-1zM140 146h1v1h-1zM108 104h1v1h-1zM130 123h1v1h-1zM209 32h1v1h-1zM139 64h1v1h-1zM137 103h1v1h-1zM120 115h1v1h-1zM101 44h1v1h-1zM185 48h1v1h-1zM172 46h1v1h-1zM149 43h1v1h-1zM145 108h1v1h-1zM175 42h1v1h-1zM141 125h1v1h-1zM131 114h1v1h-1zM82 124h1v1h-1zM195 45h1v1h-1zM108 32h1v1h-1zM183 61h1v1h-1zM74 178h1v1h-1zM212 107h1v1h-1zM196 114h1v1h-1zM110 115h1v1h-1zM158 156h1v1h-1zM175 117h1v1h-1zM210 68h1v1h-1zM189 78h1v1h-1zM119 117h1v1h-1zM140 100h1v1h-1zM127 62h1v1h-1zM181 99h1v1h-1zM196 83h1v1h-1zM177 125h1v1h-1zM192 105h1v1h-1zM163 29h1v1h-1zM163 90h1v1h-1zM166 33h1v1h-1zM170 23h1v1h-1zM101 84h1v1h-1zM178 49h1v1h-1zM156 49h1v1h-1zM185 38h1v1h-1zM153 58h1v1h-1zM143 127h1v1h-1zM205 44h1v1h-1zM197 34h1v1h-1zM205 30h1v1h-1zM166 111h1v1h-1zM75 176h1v1h-1zM147 64h1v1h-1zM172 53h1v1h-1zM160 124h1v1h-1zM141 74h1v1h-1zM195 72h1v1h-1zM165 117h1v1h-1zM123 134h1v1h-1zM239 53h1v1h-1zM240 88h1v1h-1zM159 108h1v1h-1zM145 119h1v1h-1zM135 82h1v1h-1zM135 32h1v1h-1zM141 107h1v1h-1zM204 69h1v1h-1zM168 25h1v1h-1zM145 121h1v1h-1zM190 132h1v1h-1zM131 59h1v1h-1zM184 101h1v1h-1zM190 65h1v1h-1zM181 50h1v1h-1zM162 100h1v1h-1zM117 89h1v1h-1zM154 38h1v1h-1zM117 142h1v1h-1zM124 90h1v1h-1zM120 52h1v1h-1zM182 43h1v1h-1zM143 85h1v1h-1zM95 139h1v1h-1zM184 85h1v1h-1zM161 45h1v1h-1zM153 131h1v1h-1zM192 122h1v1h-1zM156 91h1v1h-1zM102 149h1v1h-1zM143 94h1v1h-1zM154 40h1v1h-1zM192 117h1v1h-1zM108 75h1v1h-1zM149 69h1v1h-1zM157 36h1v1h-1zM211 68h1v1h-1zM138 83h1v1h-1zM161 25h1v1h-1zM154 52h1v1h-1zM159 27h1v1h-1zM194 108h1v1h-1zM123 96h1v1h-1zM199 85h1v1h-1zM111 158h1v1h-1zM173 109h1v1h-1zM171 33h1v1h-1zM183 107h1v1h-1zM164 32h1v1h-1zM106 149h1v1h-1zM160 128h1v1h-1zM128 75h1v1h-1zM211 32h1v1h-1zM207 27h1v1h-1zM162 65h1v1h-1zM202 120h1v1h-1zM135 118h1v1h-1zM193 103h1v1h-1zM149 130h1v1h-1zM85 157h1v1h-1zM143 63h1v1h-1zM153 75h1v1h-1zM153 88h1v1h-1zM136 20h1v1h-1zM88 68h1v1h-1zM179 53h1v1h-1zM102 54h1v1h-1zM200 80h1v1h-1zM224 173h1v1h-1zM114 143h1v1h-1zM137 119h1v1h-1zM140 116h1v1h-1zM168 87h1v1h-1zM187 86h1v1h-1zM139 59h1v1h-1zM180 48h1v1h-1zM148 36h1v1h-1zM174 93h1v1h-1zM116 26h1v1h-1zM208 73h1v1h-1zM202 84h1v1h-1zM204 55h1v1h-1zM194 27h1v1h-1zM200 42h1v1h-1zM150 96h1v1h-1zM189 71h1v1h-1zM182 21h1v1h-1zM168 74h1v1h-1zM117 86h1v1h-1zM182 54h1v1h-1zM136 107h1v1h-1zM110 156h1v1h-1zM80 116h1v1h-1zM143 71h1v1h-1zM163 38h1v1h-1zM136 84h1v1h-1zM190 104h1v1h-1zM117 77h1v1h-1zM133 86h1v1h-1zM129 93h1v1h-1zM150 83h1v1h-1zM130 99h1v1h-1zM160 54h1v1h-1zM194 80h1v1h-1zM74 165h1v1h-1zM75 138h1v1h-1zM196 122h1v1h-1zM187 64h1v1h-1zM135 59h1v1h-1zM137 100h1v1h-1zM156 104h1v1h-1zM177 117h1v1h-1zM152 98h1v1h-1zM211 70h1v1h-1zM150 64h1v1h-1zM201 65h1v1h-1zM222 67h1v1h-1zM166 75h1v1h-1zM180 162h1v1h-1zM128 104h1v1h-1zM182 27h1v1h-1zM174 77h1v1h-1zM149 99h1v1h-1zM78 133h1v1h-1zM197 112h1v1h-1zM123 111h1v1h-1zM194 47h1v1h-1zM182 68h1v1h-1zM132 94h1v1h-1zM166 85h1v1h-1zM123 55h1v1h-1zM151 123h1v1h-1zM130 56h1v1h-1zM214 58h1v1h-1zM178 111h1v1h-1zM145 33h1v1h-1zM160 70h1v1h-1zM145 15h1v1h-1zM184 105h1v1h-1zM150 128h1v1h-1zM176 38h1v1h-1zM123 117h1v1h-1zM145 100h1v1h-1zM97 155h1v1h-1zM97 128h1v1h-1zM163 35h1v1h-1zM126 96h1v1h-1zM142 64h1v1h-1zM117 145h1v1h-1zM143 119h1v1h-1zM180 84h1v1h-1zM201 81h1v1h-1zM68 125h1v1h-1zM178 42h1v1h-1zM159 61h1v1h-1zM210 54h1v1h-1zM154 91h1v1h-1zM131 47h1v1h-1zM155 115h1v1h-1zM196 48h1v1h-1zM136 86h1v1h-1zM103 125h1v1h-1zM176 118h1v1h-1zM235 73h1v1h-1zM157 20h1v1h-1zM102 158h1v1h-1zM131 79h1v1h-1zM167 26h1v1h-1zM194 42h1v1h-1zM162 46h1v1h-1zM208 112h1v1h-1zM175 25h1v1h-1zM178 124h1v1h-1zM123 130h1v1h-1zM184 64h1v1h-1zM119 132h1v1h-1zM208 114h1v1h-1zM169 141h1v1h-1zM73 133h1v1h-1zM212 108h1v1h-1zM143 110h1v1h-1zM134 74h1v1h-1zM200 50h1v1h-1zM171 114h1v1h-1zM198 97h1v1h-1zM172 23h1v1h-1zM182 114h1v1h-1zM126 72h1v1h-1zM199 53h1v1h-1zM201 77h1v1h-1zM147 88h1v1h-1zM100 157h1v1h-1zM193 170h1v1h-1zM194 99h1v1h-1zM188 121h1v1h-1zM166 66h1v1h-1zM141 83h1v1h-1zM208 99h1v1h-1zM143 54h1v1h-1zM193 54h1v1h-1zM157 56h1v1h-1zM136 109h1v1h-1zM156 45h1v1h-1zM192 136h1v1h-1zM121 161h1v1h-1zM183 82h1v1h-1zM204 104h1v1h-1zM194 29h1v1h-1zM70 137h1v1h-1zM169 84h1v1h-1zM150 34h1v1h-1zM123 99h1v1h-1zM211 45h1v1h-1zM188 122h1v1h-1zM104 133h1v1h-1zM184 122h1v1h-1zM193 48h1v1h-1zM161 41h1v1h-1zM112 107h1v1h-1zM126 65h1v1h-1zM165 35h1v1h-1zM166 110h1v1h-1zM142 15h1v1h-1zM193 68h1v1h-1zM179 72h1v1h-1zM187 63h1v1h-1zM196 162h1v1h-1zM141 59h1v1h-1zM195 71h1v1h-1zM139 44h1v1h-1zM165 52h1v1h-1zM192 120h1v1h-1zM200 106h1v1h-1zM152 121h1v1h-1zM143 116h1v1h-1zM141 115h1v1h-1zM129 92h1v1h-1zM177 47h1v1h-1zM149 84h1v1h-1zM176 76h1v1h-1zM172 35h1v1h-1zM92 119h1v1h-1zM153 95h1v1h-1zM191 74h1v1h-1zM171 92h1v1h-1zM178 107h1v1h-1zM185 44h1v1h-1zM168 52h1v1h-1zM137 160h1v1h-1zM171 104h1v1h-1zM169 35h1v1h-1zM144 80h1v1h-1zM168 34h1v1h-1zM125 74h1v1h-1zM129 100h1v1h-1zM131 85h1v1h-1zM165 104h1v1h-1zM194 122h1v1h-1zM115 118h1v1h-1zM164 47h1v1h-1zM192 94h1v1h-1zM146 79h1v1h-1zM123 115h1v1h-1zM116 128h1v1h-1zM176 57h1v1h-1zM173 29h1v1h-1zM153 115h1v1h-1zM191 108h1v1h-1zM183 39h1v1h-1zM122 92h1v1h-1zM137 47h1v1h-1zM187 104h1v1h-1zM150 105h1v1h-1zM185 88h1v1h-1zM162 99h1v1h-1zM161 120h1v1h-1zM125 90h1v1h-1zM161 38h1v1h-1zM176 164h1v1h-1zM202 52h1v1h-1zM170 86h1v1h-1zM152 91h1v1h-1zM211 67h1v1h-1zM180 36h1v1h-1zM153 138h1v1h-1zM184 62h1v1h-1zM175 86h1v1h-1zM152 62h1v1h-1zM198 39h1v1h-1zM128 44h1v1h-1zM163 72h1v1h-1zM153 109h1v1h-1zM183 83h1v1h-1zM143 66h1v1h-1zM148 118h1v1h-1zM209 59h1v1h-1zM89 139h1v1h-1zM194 110h1v1h-1zM201 67h1v1h-1zM156 39h1v1h-1zM175 72h1v1h-1zM84 131h1v1h-1zM170 161h1v1h-1zM150 111h1v1h-1zM209 30h1v1h-1zM144 104h1v1h-1zM134 124h1v1h-1zM142 76h1v1h-1zM155 89h1v1h-1zM135 61h1v1h-1zM212 49h1v1h-1zM135 96h1v1h-1zM164 44h1v1h-1zM122 44h1v1h-1zM157 52h1v1h-1zM238 118h1v1h-1zM139 60h1v1h-1zM143 103h1v1h-1zM186 97h1v1h-1zM152 20h1v1h-1zM197 21h1v1h-1zM179 119h1v1h-1zM121 115h1v1h-1zM146 174h1v1h-1zM166 146h1v1h-1zM213 19h1v1h-1zM137 110h1v1h-1zM175 137h1v1h-1zM197 82h1v1h-1zM173 77h1v1h-1zM147 43h1v1h-1zM176 91h1v1h-1zM166 32h1v1h-1zM144 85h1v1h-1zM147 59h1v1h-1zM197 45h1v1h-1zM152 64h1v1h-1zM158 97h1v1h-1zM147 103h1v1h-1zM139 66h1v1h-1zM86 158h1v1h-1zM99 96h1v1h-1zM168 112h1v1h-1zM61 137h1v1h-1zM153 97h1v1h-1zM97 23h1v1h-1zM131 96h1v1h-1zM174 97h1v1h-1zM149 83h1v1h-1zM200 74h1v1h-1zM167 114h1v1h-1zM207 113h1v1h-1zM133 81h1v1h-1zM135 33h1v1h-1zM114 52h1v1h-1zM182 32h1v1h-1zM172 123h1v1h-1zM148 33h1v1h-1zM75 149h1v1h-1zM120 86h1v1h-1zM170 33h1v1h-1zM176 65h1v1h-1zM172 73h1v1h-1zM186 101h1v1h-1zM77 128h1v1h-1zM174 94h1v1h-1zM195 107h1v1h-1zM160 36h1v1h-1zM128 141h1v1h-1zM125 101h1v1h-1zM192 118h1v1h-1zM201 80h1v1h-1zM168 46h1v1h-1zM62 118h1v1h-1zM166 57h1v1h-1zM139 109h1v1h-1zM178 66h1v1h-1zM164 33h1v1h-1zM186 118h1v1h-1zM191 100h1v1h-1zM113 97h1v1h-1zM170 40h1v1h-1zM165 50h1v1h-1zM127 104h1v1h-1zM125 87h1v1h-1zM162 54h1v1h-1zM190 109h1v1h-1zM124 57h1v1h-1zM153 69h1v1h-1zM237 17h1v1h-1zM185 63h1v1h-1zM115 132h1v1h-1zM126 115h1v1h-1zM190 77h1v1h-1zM189 120h1v1h-1zM105 164h1v1h-1zM171 118h1v1h-1zM81 63h1v1h-1zM174 108h1v1h-1zM128 67h1v1h-1zM166 79h1v1h-1zM159 70h1v1h-1zM201 128h1v1h-1zM118 94h1v1h-1zM106 127h1v1h-1zM136 61h1v1h-1zM142 97h1v1h-1zM90 65h1v1h-1zM170 60h1v1h-1zM129 101h1v1h-1zM70 106h1v1h-1zM170 57h1v1h-1zM123 147h1v1h-1zM196 103h1v1h-1zM112 77h1v1h-1zM225 72h1v1h-1zM164 35h1v1h-1zM144 79h1v1h-1zM144 123h1v1h-1zM178 67h1v1h-1zM156 24h1v1h-1zM70 115h1v1h-1zM126 114h1v1h-1zM108 129h1v1h-1zM183 78h1v1h-1zM211 74h1v1h-1zM197 110h1v1h-1zM167 84h1v1h-1zM103 88h1v1h-1zM166 97h1v1h-1zM61 159h1v1h-1zM148 97h1v1h-1zM193 67h1v1h-1zM113 95h1v1h-1zM98 123h1v1h-1zM171 146h1v1h-1zM200 94h1v1h-1zM93 137h1v1h-1zM201 95h1v1h-1zM178 73h1v1h-1zM208 38h1v1h-1zM112 81h1v1h-1zM119 70h1v1h-1zM143 87h1v1h-1zM129 99h1v1h-1zM118 85h1v1h-1zM126 59h1v1h-1zM121 95h1v1h-1zM132 58h1v1h-1zM175 123h1v1h-1zM140 114h1v1h-1zM193 81h1v1h-1zM110 76h1v1h-1zM95 155h1v1h-1zM141 118h1v1h-1zM156 21h1v1h-1zM118 73h1v1h-1zM96 121h1v1h-1zM171 102h1v1h-1zM169 90h1v1h-1zM121 56h1v1h-1zM74 133h1v1h-1zM147 77h1v1h-1zM194 76h1v1h-1zM119 81h1v1h-1zM170 75h1v1h-1zM166 50h1v1h-1zM132 123h1v1h-1zM186 100h1v1h-1zM157 146h1v1h-1zM157 38h1v1h-1zM76 169h1v1h-1zM78 37h1v1h-1zM192 30h1v1h-1zM151 71h1v1h-1zM182 67h1v1h-1zM135 112h1v1h-1zM120 124h1v1h-1zM102 119h1v1h-1zM233 146h1v1h-1zM138 95h1v1h-1zM107 91h1v1h-1zM190 23h1v1h-1zM189 41h1v1h-1zM131 69h1v1h-1zM182 69h1v1h-1zM147 61h1v1h-1zM157 110h1v1h-1zM142 34h1v1h-1zM206 85h1v1h-1zM69 94h1v1h-1zM193 82h1v1h-1zM201 35h1v1h-1zM124 50h1v1h-1zM175 46h1v1h-1zM174 48h1v1h-1zM146 45h1v1h-1zM79 45h1v1h-1zM171 109h1v1h-1zM149 65h1v1h-1zM124 74h1v1h-1zM150 65h1v1h-1zM192 87h1v1h-1zM127 71h1v1h-1zM82 121h1v1h-1zM138 37h1v1h-1zM123 105h1v1h-1zM162 111h1v1h-1zM85 123h1v1h-1zM151 79h1v1h-1zM172 113h1v1h-1zM214 47h1v1h-1zM185 20h1v1h-1zM165 162h1v1h-1zM179 84h1v1h-1zM161 94h1v1h-1zM157 115h1v1h-1zM152 107h1v1h-1zM152 36h1v1h-1zM203 38h1v1h-1zM177 123h1v1h-1zM197 116h1v1h-1zM109 101h1v1h-1zM149 109h1v1h-1zM181 79h1v1h-1zM207 92h1v1h-1zM166 99h1v1h-1zM189 35h1v1h-1zM169 100h1v1h-1zM204 50h1v1h-1zM175 52h1v1h-1zM144 93h1v1h-1zM145 67h1v1h-1zM167 78h1v1h-1zM128 112h1v1h-1zM208 72h1v1h-1zM172 29h1v1h-1zM147 123h1v1h-1zM147 111h1v1h-1zM142 68h1v1h-1zM195 98h1v1h-1zM193 92h1v1h-1zM214 109h1v1h-1zM109 131h1v1h-1zM202 76h1v1h-1zM199 48h1v1h-1zM130 76h1v1h-1zM194 51h1v1h-1zM136 36h1v1h-1zM177 58h1v1h-1zM163 76h1v1h-1zM179 81h1v1h-1zM148 61h1v1h-1zM192 150h1v1h-1zM198 76h1v1h-1zM153 53h1v1h-1zM126 124h1v1h-1zM163 82h1v1h-1zM153 46h1v1h-1zM127 94h1v1h-1zM169 56h1v1h-1zM151 56h1v1h-1zM164 48h1v1h-1zM97 106h1v1h-1zM206 83h1v1h-1zM149 29h1v1h-1zM161 65h1v1h-1zM122 126h1v1h-1zM178 57h1v1h-1zM145 80h1v1h-1zM180 72h1v1h-1zM176 88h1v1h-1zM114 130h1v1h-1zM193 93h1v1h-1zM152 86h1v1h-1zM139 29h1v1h-1zM96 125h1v1h-1zM142 110h1v1h-1zM165 77h1v1h-1zM185 140h1v1h-1zM112 94h1v1h-1zM193 87h1v1h-1zM154 63h1v1h-1zM189 110h1v1h-1zM188 70h1v1h-1zM180 99h1v1h-1zM187 56h1v1h-1zM186 115h1v1h-1zM183 179h1v1h-1zM139 24h1v1h-1zM180 58h1v1h-1zM149 127h1v1h-1zM145 70h1v1h-1zM142 122h1v1h-1zM154 87h1v1h-1zM236 68h1v1h-1zM187 101h1v1h-1zM166 28h1v1h-1zM106 146h1v1h-1zM171 98h1v1h-1zM117 53h1v1h-1zM88 94h1v1h-1zM73 102h1v1h-1zM187 18h1v1h-1zM152 33h1v1h-1zM205 111h1v1h-1zM178 91h1v1h-1zM200 124h1v1h-1zM132 93h1v1h-1zM205 91h1v1h-1zM117 137h1v1h-1zM161 119h1v1h-1zM150 92h1v1h-1zM125 93h1v1h-1zM192 68h1v1h-1zM146 40h1v1h-1zM168 64h1v1h-1zM200 101h1v1h-1zM177 52h1v1h-1zM190 63h1v1h-1zM125 79h1v1h-1zM179 103h1v1h-1zM111 171h1v1h-1zM156 103h1v1h-1zM146 86h1v1h-1zM238 64h1v1h-1zM191 79h1v1h-1zM208 59h1v1h-1zM187 59h1v1h-1zM195 118h1v1h-1zM210 59h1v1h-1zM139 113h1v1h-1zM133 159h1v1h-1zM143 101h1v1h-1zM184 95h1v1h-1zM147 89h1v1h-1zM138 92h1v1h-1zM133 148h1v1h-1zM192 93h1v1h-1zM181 103h1v1h-1zM185 61h1v1h-1zM163 45h1v1h-1zM165 57h1v1h-1zM96 138h1v1h-1zM203 77h1v1h-1zM160 127h1v1h-1zM186 94h1v1h-1zM193 115h1v1h-1zM208 67h1v1h-1zM142 112h1v1h-1zM204 67h1v1h-1zM145 84h1v1h-1zM158 131h1v1h-1zM127 56h1v1h-1zM156 42h1v1h-1zM169 118h1v1h-1zM116 145h1v1h-1zM182 57h1v1h-1zM191 103h1v1h-1zM170 48h1v1h-1zM146 72h1v1h-1zM132 83h1v1h-1zM136 85h1v1h-1zM201 107h1v1h-1zM113 114h1v1h-1zM169 106h1v1h-1zM149 38h1v1h-1zM110 84h1v1h-1zM149 49h1v1h-1zM137 35h1v1h-1zM159 85h1v1h-1zM140 35h1v1h-1zM138 116h1v1h-1zM179 131h1v1h-1zM172 103h1v1h-1zM115 120h1v1h-1zM195 81h1v1h-1zM194 39h1v1h-1zM111 54h1v1h-1zM109 115h1v1h-1zM171 77h1v1h-1zM164 62h1v1h-1zM145 90h1v1h-1zM140 44h1v1h-1zM183 103h1v1h-1zM195 97h1v1h-1zM177 150h1v1h-1zM185 87h1v1h-1zM148 52h1v1h-1zM186 37h1v1h-1zM165 60h1v1h-1zM140 63h1v1h-1zM141 128h1v1h-1zM145 66h1v1h-1zM215 54h1v1h-1zM203 50h1v1h-1zM199 111h1v1h-1zM110 101h1v1h-1zM190 42h1v1h-1zM167 40h1v1h-1zM168 79h1v1h-1zM178 34h1v1h-1zM117 50h1v1h-1zM141 89h1v1h-1zM145 95h1v1h-1zM169 66h1v1h-1zM169 63h1v1h-1zM109 145h1v1h-1zM124 70h1v1h-1zM147 85h1v1h-1zM181 90h1v1h-1zM187 92h1v1h-1zM190 84h1v1h-1zM146 77h1v1h-1zM139 50h1v1h-1zM148 112h1v1h-1zM177 40h1v1h-1zM117 105h1v1h-1zM136 71h1v1h-1zM149 82h1v1h-1zM153 143h1v1h-1zM174 57h1v1h-1zM161 78h1v1h-1zM161 105h1v1h-1zM170 107h1v1h-1zM138 61h1v1h-1zM141 116h1v1h-1zM106 81h1v1h-1zM92 132h1v1h-1zM208 89h1v1h-1zM112 147h1v1h-1zM173 63h1v1h-1zM163 46h1v1h-1zM105 132h1v1h-1zM181 118h1v1h-1zM190 79h1v1h-1zM98 142h1v1h-1zM151 80h1v1h-1zM193 50h1v1h-1zM188 108h1v1h-1zM125 155h1v1h-1zM162 93h1v1h-1zM175 143h1v1h-1zM103 126h1v1h-1zM203 68h1v1h-1zM142 46h1v1h-1zM201 98h1v1h-1zM129 91h1v1h-1zM144 49h1v1h-1zM121 143h1v1h-1zM199 98h1v1h-1zM182 86h1v1h-1zM149 60h1v1h-1zM140 37h1v1h-1zM180 37h1v1h-1zM164 59h1v1h-1zM198 114h1v1h-1zM139 123h1v1h-1zM160 57h1v1h-1zM164 82h1v1h-1zM136 52h1v1h-1zM88 150h1v1h-1zM144 28h1v1h-1zM157 74h1v1h-1zM171 69h1v1h-1zM187 38h1v1h-1zM180 115h1v1h-1zM137 93h1v1h-1zM183 91h1v1h-1zM164 19h1v1h-1zM151 53h1v1h-1zM133 160h1v1h-1zM173 40h1v1h-1zM197 78h1v1h-1zM140 80h1v1h-1zM134 59h1v1h-1zM139 117h1v1h-1zM92 139h1v1h-1zM186 86h1v1h-1zM141 94h1v1h-1zM121 162h1v1h-1zM178 102h1v1h-1zM180 53h1v1h-1zM196 89h1v1h-1zM159 73h1v1h-1zM87 139h1v1h-1zM156 101h1v1h-1zM121 153h1v1h-1zM114 76h1v1h-1zM157 19h1v1h-1zM130 67h1v1h-1zM180 85h1v1h-1zM128 18h1v1h-1zM192 59h1v1h-1zM164 27h1v1h-1zM128 101h1v1h-1zM168 70h1v1h-1zM120 81h1v1h-1zM174 26h1v1h-1zM167 97h1v1h-1zM196 64h1v1h-1zM128 122h1v1h-1zM99 131h1v1h-1zM183 162h1v1h-1zM142 69h1v1h-1zM102 132h1v1h-1zM192 56h1v1h-1zM145 147h1v1h-1zM153 37h1v1h-1zM139 15h1v1h-1zM122 62h1v1h-1zM191 52h1v1h-1zM196 124h1v1h-1zM143 97h1v1h-1zM207 29h1v1h-1zM186 46h1v1h-1zM136 54h1v1h-1zM137 106h1v1h-1zM138 32h1v1h-1zM196 95h1v1h-1zM148 46h1v1h-1zM104 124h1v1h-1zM189 94h1v1h-1zM164 103h1v1h-1zM141 57h1v1h-1zM181 63h1v1h-1zM142 114h1v1h-1zM103 102h1v1h-1zM151 94h1v1h-1zM63 151h1v1h-1zM124 101h1v1h-1zM147 100h1v1h-1zM170 44h1v1h-1zM112 155h1v1h-1zM140 76h1v1h-1zM193 79h1v1h-1zM206 96h1v1h-1zM180 23h1v1h-1zM143 146h1v1h-1zM191 55h1v1h-1zM129 60h1v1h-1zM133 165h1v1h-1zM71 149h1v1h-1zM162 57h1v1h-1zM160 107h1v1h-1zM209 93h1v1h-1zM148 72h1v1h-1zM185 47h1v1h-1zM177 89h1v1h-1zM199 115h1v1h-1zM210 55h1v1h-1zM181 88h1v1h-1zM191 118h1v1h-1zM171 58h1v1h-1zM187 103h1v1h-1zM189 45h1v1h-1zM148 86h1v1h-1zM204 29h1v1h-1zM173 86h1v1h-1zM133 119h1v1h-1zM177 88h1v1h-1zM141 66h1v1h-1zM186 78h1v1h-1zM103 114h1v1h-1zM212 111h1v1h-1zM159 98h1v1h-1zM127 166h1v1h-1zM130 51h1v1h-1zM118 115h1v1h-1zM136 120h1v1h-1zM194 93h1v1h-1zM112 101h1v1h-1zM135 103h1v1h-1zM179 123h1v1h-1zM202 50h1v1h-1zM136 30h1v1h-1zM170 96h1v1h-1zM168 40h1v1h-1zM202 59h1v1h-1zM102 38h1v1h-1zM207 110h1v1h-1zM148 50h1v1h-1zM130 82h1v1h-1zM79 170h1v1h-1zM146 61h1v1h-1zM191 92h1v1h-1zM165 95h1v1h-1zM82 64h1v1h-1zM152 19h1v1h-1zM126 100h1v1h-1zM165 93h1v1h-1zM112 74h1v1h-1zM229 127h1v1h-1zM167 67h1v1h-1zM160 114h1v1h-1zM140 103h1v1h-1zM118 54h1v1h-1zM131 38h1v1h-1zM168 77h1v1h-1zM118 61h1v1h-1zM192 61h1v1h-1zM174 59h1v1h-1zM159 54h1v1h-1zM177 54h1v1h-1zM166 88h1v1h-1zM123 124h1v1h-1zM183 90h1v1h-1zM121 38h1v1h-1zM138 86h1v1h-1zM79 176h1v1h-1zM165 47h1v1h-1zM140 118h1v1h-1zM186 44h1v1h-1zM76 130h1v1h-1zM161 81h1v1h-1zM143 44h1v1h-1zM108 70h1v1h-1zM91 121h1v1h-1zM121 31h1v1h-1zM163 148h1v1h-1zM146 108h1v1h-1zM142 103h1v1h-1zM160 33h1v1h-1zM146 123h1v1h-1zM200 115h1v1h-1zM125 61h1v1h-1zM157 44h1v1h-1zM187 126h1v1h-1zM222 60h1v1h-1zM140 59h1v1h-1zM167 100h1v1h-1zM185 67h1v1h-1zM148 109h1v1h-1zM198 95h1v1h-1zM164 109h1v1h-1zM160 46h1v1h-1zM140 60h1v1h-1zM169 112h1v1h-1zM138 56h1v1h-1zM177 95h1v1h-1zM208 74h1v1h-1zM166 63h1v1h-1zM95 84h1v1h-1zM172 178h1v1h-1zM203 79h1v1h-1zM156 114h1v1h-1zM110 160h1v1h-1zM206 23h1v1h-1zM170 39h1v1h-1zM174 62h1v1h-1zM165 78h1v1h-1zM208 60h1v1h-1zM159 80h1v1h-1zM195 104h1v1h-1zM206 52h1v1h-1zM127 78h1v1h-1zM153 103h1v1h-1zM140 74h1v1h-1zM154 113h1v1h-1zM159 122h1v1h-1zM159 56h1v1h-1zM131 88h1v1h-1zM220 161h1v1h-1zM160 35h1v1h-1zM188 42h1v1h-1zM149 121h1v1h-1zM133 110h1v1h-1zM181 114h1v1h-1zM193 78h1v1h-1zM196 60h1v1h-1zM145 60h1v1h-1zM207 90h1v1h-1zM169 27h1v1h-1zM158 56h1v1h-1zM177 83h1v1h-1zM181 77h1v1h-1zM224 24h1v1h-1zM147 65h1v1h-1zM213 80h1v1h-1zM201 58h1v1h-1zM161 35h1v1h-1zM199 59h1v1h-1zM143 81h1v1h-1zM181 35h1v1h-1zM163 55h1v1h-1zM123 82h1v1h-1zM134 109h1v1h-1zM142 85h1v1h-1zM106 134h1v1h-1zM121 69h1v1h-1zM126 42h1v1h-1zM196 80h1v1h-1zM151 162h1v1h-1zM183 123h1v1h-1zM219 54h1v1h-1zM169 85h1v1h-1zM178 43h1v1h-1zM147 51h1v1h-1zM219 92h1v1h-1zM156 125h1v1h-1zM166 23h1v1h-1zM181 56h1v1h-1zM192 78h1v1h-1zM157 96h1v1h-1zM153 74h1v1h-1zM144 152h1v1h-1zM172 91h1v1h-1zM119 26h1v1h-1zM135 105h1v1h-1zM176 70h1v1h-1zM207 102h1v1h-1zM193 74h1v1h-1zM184 66h1v1h-1zM124 133h1v1h-1zM65 179h1v1h-1zM192 58h1v1h-1zM191 84h1v1h-1zM84 155h1v1h-1zM218 108h1v1h-1zM191 61h1v1h-1zM165 147h1v1h-1zM200 62h1v1h-1zM166 29h1v1h-1zM172 97h1v1h-1zM121 42h1v1h-1zM209 73h1v1h-1zM198 61h1v1h-1zM211 53h1v1h-1zM218 99h1v1h-1zM127 87h1v1h-1zM142 37h1v1h-1zM182 82h1v1h-1zM170 85h1v1h-1zM182 74h1v1h-1zM129 108h1v1h-1zM135 91h1v1h-1zM144 30h1v1h-1zM107 131h1v1h-1zM140 62h1v1h-1zM157 46h1v1h-1zM240 27h1v1h-1zM183 98h1v1h-1zM196 108h1v1h-1zM161 73h1v1h-1zM101 153h1v1h-1zM138 109h1v1h-1zM164 84h1v1h-1zM138 46h1v1h-1zM180 95h1v1h-1zM160 143h1v1h-1zM172 102h1v1h-1zM178 161h1v1h-1zM190 78h1v1h-1zM154 34h1v1h-1zM172 21h1v1h-1zM179 34h1v1h-1zM165 40h1v1h-1zM122 78h1v1h-1zM162 40h1v1h-1zM183 113h1v1h-1zM206 72h1v1h-1zM208 69h1v1h-1zM196 37h1v1h-1zM110 109h1v1h-1zM140 90h1v1h-1zM172 149h1v1h-1zM233 86h1v1h-1zM139 93h1v1h-1zM208 94h1v1h-1zM154 104h1v1h-1zM115 87h1v1h-1zM180 118h1v1h-1zM78 125h1v1h-1zM173 41h1v1h-1zM170 90h1v1h-1zM211 97h1v1h-1zM112 113h1v1h-1zM139 20h1v1h-1zM151 54h1v1h-1zM172 27h1v1h-1zM184 71h1v1h-1zM162 50h1v1h-1zM181 96h1v1h-1zM151 52h1v1h-1zM165 65h1v1h-1zM185 77h1v1h-1zM121 106h1v1h-1zM174 84h1v1h-1zM189 51h1v1h-1zM141 50h1v1h-1zM202 104h1v1h-1zM158 61h1v1h-1zM140 97h1v1h-1zM134 71h1v1h-1zM172 70h1v1h-1zM134 171h1v1h-1zM137 163h1v1h-1zM172 65h1v1h-1zM152 63h1v1h-1zM222 96h1v1h-1zM144 90h1v1h-1zM120 76h1v1h-1zM179 67h1v1h-1zM144 81h1v1h-1zM139 114h1v1h-1zM171 115h1v1h-1zM178 108h1v1h-1zM175 79h1v1h-1zM141 84h1v1h-1zM129 109h1v1h-1zM144 61h1v1h-1zM185 120h1v1h-1zM208 95h1v1h-1zM135 90h1v1h-1zM181 65h1v1h-1zM124 86h1v1h-1zM131 106h1v1h-1zM191 85h1v1h-1zM161 128h1v1h-1zM108 119h1v1h-1zM114 107h1v1h-1zM169 52h1v1h-1zM156 44h1v1h-1zM207 59h1v1h-1zM105 176h1v1h-1zM173 117h1v1h-1zM156 84h1v1h-1zM182 103h1v1h-1zM189 44h1v1h-1zM76 61h1v1h-1zM164 116h1v1h-1zM163 66h1v1h-1zM138 80h1v1h-1zM129 84h1v1h-1zM135 37h1v1h-1zM181 86h1v1h-1zM148 74h1v1h-1zM101 120h1v1h-1zM151 105h1v1h-1zM157 22h1v1h-1zM196 116h1v1h-1zM151 22h1v1h-1zM153 112h1v1h-1zM107 158h1v1h-1zM169 69h1v1h-1zM150 32h1v1h-1zM187 55h1v1h-1zM202 68h1v1h-1zM162 78h1v1h-1zM138 49h1v1h-1zM193 58h1v1h-1zM179 97h1v1h-1zM129 80h1v1h-1zM194 107h1v1h-1zM155 61h1v1h-1zM91 169h1v1h-1zM179 16h1v1h-1zM213 84h1v1h-1z" fill="#2a3468"/><path d="M175 111h1v1h-1zM174 99h1v1h-1zM160 45h1v1h-1zM202 70h1v1h-1zM165 56h1v1h-1zM124 65h1v1h-1zM230 35h1v1h-1zM152 94h1v1h-1zM124 77h1v1h-1zM148 100h1v1h-1zM160 87h1v1h-1zM151 124h1v1h-1zM158 39h1v1h-1zM153 86h1v1h-1zM170 46h1v1h-1zM151 45h1v1h-1zM127 79h1v1h-1zM151 77h1v1h-1zM141 129h1v1h-1zM137 24h1v1h-1zM157 101h1v1h-1zM141 65h1v1h-1zM124 102h1v1h-1zM150 27h1v1h-1zM159 88h1v1h-1zM120 73h1v1h-1zM140 102h1v1h-1zM216 71h1v1h-1zM175 103h1v1h-1zM188 129h1v1h-1zM148 84h1v1h-1zM138 64h1v1h-1zM155 122h1v1h-1zM172 106h1v1h-1zM176 54h1v1h-1zM122 90h1v1h-1zM167 89h1v1h-1zM156 93h1v1h-1zM212 73h1v1h-1zM178 31h1v1h-1zM151 121h1v1h-1zM168 102h1v1h-1zM169 60h1v1h-1zM193 97h1v1h-1zM140 55h1v1h-1zM175 101h1v1h-1zM175 100h1v1h-1zM164 94h1v1h-1zM213 65h1v1h-1zM168 56h1v1h-1zM165 120h1v1h-1zM136 77h1v1h-1zM121 92h1v1h-1zM156 36h1v1h-1zM188 37h1v1h-1zM204 31h1v1h-1zM175 48h1v1h-1zM119 66h1v1h-1zM177 124h1v1h-1zM161 100h1v1h-1zM122 113h1v1h-1zM181 31h1v1h-1zM164 113h1v1h-1zM189 36h1v1h-1zM84 118h1v1h-1zM121 93h1v1h-1zM149 107h1v1h-1zM137 132h1v1h-1zM197 79h1v1h-1zM195 33h1v1h-1zM158 70h1v1h-1zM181 17h1v1h-1zM180 45h1v1h-1zM136 93h1v1h-1zM178 33h1v1h-1zM203 75h1v1h-1zM178 25h1v1h-1zM139 111h1v1h-1zM155 55h1v1h-1zM161 102h1v1h-1zM112 108h1v1h-1zM195 38h1v1h-1zM201 60h1v1h-1zM185 45h1v1h-1zM132 106h1v1h-1zM182 102h1v1h-1zM184 29h1v1h-1zM146 63h1v1h-1zM123 93h1v1h-1zM211 60h1v1h-1zM122 56h1v1h-1zM118 29h1v1h-1zM135 117h1v1h-1zM150 47h1v1h-1zM142 98h1v1h-1zM162 20h1v1h-1zM118 135h1v1h-1zM135 93h1v1h-1zM198 105h1v1h-1zM188 74h1v1h-1zM189 39h1v1h-1zM148 76h1v1h-1zM155 54h1v1h-1zM135 53h1v1h-1zM144 68h1v1h-1zM123 101h1v1h-1zM131 102h1v1h-1zM151 60h1v1h-1zM190 94h1v1h-1zM157 50h1v1h-1zM181 51h1v1h-1zM197 98h1v1h-1zM98 98h1v1h-1zM196 98h1v1h-1zM186 96h1v1h-1zM87 130h1v1h-1zM158 74h1v1h-1zM135 75h1v1h-1zM123 120h1v1h-1zM128 45h1v1h-1zM186 95h1v1h-1zM189 108h1v1h-1zM134 94h1v1h-1zM175 87h1v1h-1zM193 94h1v1h-1zM182 77h1v1h-1zM138 51h1v1h-1zM156 92h1v1h-1zM102 122h1v1h-1zM192 45h1v1h-1zM63 148h1v1h-1zM201 66h1v1h-1zM203 97h1v1h-1zM163 56h1v1h-1zM200 109h1v1h-1zM153 149h1v1h-1zM190 103h1v1h-1zM169 124h1v1h-1zM137 72h1v1h-1zM172 76h1v1h-1zM184 86h1v1h-1zM141 132h1v1h-1zM133 85h1v1h-1zM105 37h1v1h-1zM155 124h1v1h-1zM113 67h1v1h-1zM183 45h1v1h-1zM133 103h1v1h-1zM209 78h1v1h-1zM167 76h1v1h-1zM133 76h1v1h-1zM147 86h1v1h-1zM187 88h1v1h-1zM165 80h1v1h-1zM160 15h1v1h-1zM85 112h1v1h-1zM183 50h1v1h-1zM168 57h1v1h-1zM179 41h1v1h-1zM132 53h1v1h-1zM124 64h1v1h-1zM111 80h1v1h-1zM194 54h1v1h-1zM184 111h1v1h-1zM192 77h1v1h-1zM164 122h1v1h-1zM184 84h1v1h-1zM196 88h1v1h-1zM151 73h1v1h-1zM155 66h1v1h-1zM76 173h1v1h-1zM99 151h1v1h-1zM142 92h1v1h-1zM213 99h1v1h-1zM191 15h1v1h-1zM171 39h1v1h-1zM155 65h1v1h-1zM135 40h1v1h-1zM164 61h1v1h-1zM183 161h1v1h-1zM197 96h1v1h-1zM163 99h1v1h-1zM99 138h1v1h-1zM196 78h1v1h-1zM200 17h1v1h-1zM158 125h1v1h-1zM123 103h1v1h-1zM128 125h1v1h-1zM117 108h1v1h-1zM153 59h1v1h-1zM187 45h1v1h-1zM170 83h1v1h-1zM81 48h1v1h-1zM189 27h1v1h-1zM122 152h1v1h-1zM175 109h1v1h-1zM166 52h1v1h-1zM176 75h1v1h-1zM205 107h1v1h-1zM185 160h1v1h-1zM178 61h1v1h-1zM108 126h1v1h-1zM182 56h1v1h-1zM152 73h1v1h-1zM205 96h1v1h-1zM200 71h1v1h-1zM179 71h1v1h-1zM171 97h1v1h-1zM120 98h1v1h-1zM197 57h1v1h-1zM114 101h1v1h-1zM171 75h1v1h-1zM175 63h1v1h-1zM184 32h1v1h-1zM153 98h1v1h-1zM193 90h1v1h-1zM134 70h1v1h-1zM151 17h1v1h-1zM158 31h1v1h-1zM160 113h1v1h-1zM174 92h1v1h-1zM185 52h1v1h-1zM65 78h1v1h-1zM118 39h1v1h-1zM200 89h1v1h-1zM97 123h1v1h-1zM170 98h1v1h-1zM146 56h1v1h-1zM195 105h1v1h-1zM191 98h1v1h-1zM154 45h1v1h-1zM108 72h1v1h-1zM156 61h1v1h-1zM150 99h1v1h-1zM144 96h1v1h-1zM186 43h1v1h-1zM157 112h1v1h-1zM175 166h1v1h-1zM181 55h1v1h-1zM76 146h1v1h-1zM167 55h1v1h-1zM209 85h1v1h-1zM119 91h1v1h-1zM169 97h1v1h-1zM89 100h1v1h-1zM170 111h1v1h-1zM194 78h1v1h-1zM181 21h1v1h-1zM166 82h1v1h-1zM128 97h1v1h-1zM79 138h1v1h-1zM163 131h1v1h-1zM166 77h1v1h-1zM138 82h1v1h-1zM106 16h1v1h-1zM195 77h1v1h-1zM154 88h1v1h-1zM178 100h1v1h-1zM169 72h1v1h-1zM217 102h1v1h-1zM158 101h1v1h-1zM155 96h1v1h-1zM157 93h1v1h-1zM116 65h1v1h-1zM130 92h1v1h-1zM158 94h1v1h-1zM176 108h1v1h-1zM176 101h1v1h-1zM120 123h1v1h-1zM171 42h1v1h-1zM110 139h1v1h-1zM145 94h1v1h-1zM153 71h1v1h-1zM151 21h1v1h-1zM136 99h1v1h-1zM181 82h1v1h-1zM194 96h1v1h-1zM116 33h1v1h-1zM216 51h1v1h-1zM164 71h1v1h-1zM213 55h1v1h-1zM178 72h1v1h-1zM126 80h1v1h-1zM166 89h1v1h-1zM155 98h1v1h-1zM128 69h1v1h-1zM187 54h1v1h-1zM170 136h1v1h-1zM150 95h1v1h-1zM184 88h1v1h-1zM176 125h1v1h-1zM217 65h1v1h-1zM194 106h1v1h-1zM166 129h1v1h-1zM133 91h1v1h-1zM90 111h1v1h-1zM141 136h1v1h-1zM193 52h1v1h-1zM119 129h1v1h-1zM182 91h1v1h-1zM188 89h1v1h-1zM112 86h1v1h-1zM133 118h1v1h-1zM67 30h1v1h-1zM152 59h1v1h-1zM194 90h1v1h-1zM189 99h1v1h-1zM182 85h1v1h-1zM104 153h1v1h-1zM162 60h1v1h-1zM125 111h1v1h-1zM129 49h1v1h-1zM150 31h1v1h-1zM128 53h1v1h-1zM137 90h1v1h-1zM135 95h1v1h-1zM167 107h1v1h-1zM177 37h1v1h-1zM126 82h1v1h-1zM175 144h1v1h-1zM125 52h1v1h-1zM212 88h1v1h-1zM152 110h1v1h-1zM165 55h1v1h-1zM138 24h1v1h-1zM146 52h1v1h-1zM138 113h1v1h-1zM104 129h1v1h-1zM165 81h1v1h-1zM116 138h1v1h-1zM175 158h1v1h-1zM154 100h1v1h-1zM175 120h1v1h-1zM199 90h1v1h-1zM171 21h1v1h-1zM177 105h1v1h-1zM146 142h1v1h-1zM177 51h1v1h-1zM133 95h1v1h-1zM118 84h1v1h-1zM167 58h1v1h-1zM163 34h1v1h-1zM185 91h1v1h-1zM150 85h1v1h-1zM148 69h1v1h-1zM130 141h1v1h-1zM132 66h1v1h-1zM107 110h1v1h-1zM184 25h1v1h-1zM67 60h1v1h-1zM145 30h1v1h-1zM194 58h1v1h-1zM148 67h1v1h-1zM175 59h1v1h-1zM153 124h1v1h-1zM146 105h1v1h-1zM144 19h1v1h-1zM145 79h1v1h-1zM167 95h1v1h-1zM127 90h1v1h-1zM192 112h1v1h-1zM136 104h1v1h-1zM191 130h1v1h-1zM136 111h1v1h-1zM148 57h1v1h-1zM176 58h1v1h-1zM172 122h1v1h-1zM207 46h1v1h-1zM169 79h1v1h-1zM101 46h1v1h-1zM177 48h1v1h-1zM100 143h1v1h-1zM152 97h1v1h-1zM193 129h1v1h-1zM200 28h1v1h-1zM193 69h1v1h-1zM124 109h1v1h-1zM197 64h1v1h-1zM143 67h1v1h-1zM128 64h1v1h-1zM78 89h1v1h-1zM159 37h1v1h-1zM232 98h1v1h-1zM206 121h1v1h-1zM99 137h1v1h-1zM121 105h1v1h-1zM164 93h1v1h-1zM171 90h1v1h-1zM124 84h1v1h-1zM136 94h1v1h-1zM137 77h1v1h-1zM160 37h1v1h-1zM140 54h1v1h-1zM198 81h1v1h-1zM127 30h1v1h-1zM201 84h1v1h-1zM95 137h1v1h-1zM177 69h1v1h-1zM124 71h1v1h-1zM153 45h1v1h-1zM175 45h1v1h-1zM171 32h1v1h-1zM136 79h1v1h-1zM205 88h1v1h-1zM94 143h1v1h-1zM145 74h1v1h-1zM193 71h1v1h-1zM179 51h1v1h-1zM151 78h1v1h-1zM196 93h1v1h-1zM207 115h1v1h-1zM73 111h1v1h-1zM168 96h1v1h-1zM149 81h1v1h-1zM202 103h1v1h-1zM241 26h1v1h-1zM100 146h1v1h-1zM185 34h1v1h-1zM176 72h1v1h-1zM128 88h1v1h-1zM122 114h1v1h-1zM169 89h1v1h-1zM191 73h1v1h-1zM152 79h1v1h-1zM197 65h1v1h-1zM139 85h1v1h-1zM211 96h1v1h-1zM71 173h1v1h-1zM148 66h1v1h-1zM176 124h1v1h-1zM137 20h1v1h-1zM142 62h1v1h-1zM129 104h1v1h-1zM168 26h1v1h-1zM95 98h1v1h-1zM125 55h1v1h-1zM195 40h1v1h-1zM208 81h1v1h-1zM165 76h1v1h-1zM98 114h1v1h-1zM185 54h1v1h-1zM183 41h1v1h-1zM159 121h1v1h-1zM160 99h1v1h-1zM177 119h1v1h-1zM216 137h1v1h-1zM132 37h1v1h-1zM190 59h1v1h-1zM186 62h1v1h-1zM130 121h1v1h-1zM140 112h1v1h-1zM125 98h1v1h-1zM138 65h1v1h-1zM173 87h1v1h-1zM200 98h1v1h-1zM155 57h1v1h-1zM178 39h1v1h-1zM164 88h1v1h-1zM141 123h1v1h-1zM170 80h1v1h-1zM180 40h1v1h-1zM172 99h1v1h-1zM176 83h1v1h-1zM166 71h1v1h-1zM144 75h1v1h-1zM171 43h1v1h-1zM196 59h1v1h-1zM135 101h1v1h-1zM164 162h1v1h-1zM109 127h1v1h-1zM69 62h1v1h-1zM126 120h1v1h-1zM63 18h1v1h-1zM207 58h1v1h-1zM199 64h1v1h-1zM157 87h1v1h-1zM217 61h1v1h-1zM158 51h1v1h-1zM180 41h1v1h-1zM178 92h1v1h-1zM171 83h1v1h-1zM191 91h1v1h-1zM144 91h1v1h-1zM217 70h1v1h-1zM137 70h1v1h-1zM178 89h1v1h-1zM196 32h1v1h-1zM135 68h1v1h-1zM160 71h1v1h-1zM90 154h1v1h-1zM176 98h1v1h-1zM205 77h1v1h-1zM137 65h1v1h-1zM177 50h1v1h-1zM174 90h1v1h-1zM174 38h1v1h-1zM155 91h1v1h-1zM92 165h1v1h-1zM147 94h1v1h-1zM159 89h1v1h-1zM162 81h1v1h-1zM191 87h1v1h-1zM180 56h1v1h-1zM89 136h1v1h-1zM130 91h1v1h-1zM144 41h1v1h-1zM121 91h1v1h-1zM207 105h1v1h-1zM171 79h1v1h-1zM193 65h1v1h-1zM157 84h1v1h-1zM185 74h1v1h-1zM160 80h1v1h-1zM98 129h1v1h-1zM168 161h1v1h-1zM188 81h1v1h-1zM142 102h1v1h-1zM155 78h1v1h-1zM216 121h1v1h-1zM134 40h1v1h-1zM184 51h1v1h-1zM145 51h1v1h-1zM190 89h1v1h-1zM202 78h1v1h-1zM121 111h1v1h-1zM168 100h1v1h-1zM132 72h1v1h-1zM95 129h1v1h-1zM129 110h1v1h-1zM159 75h1v1h-1zM160 38h1v1h-1zM139 97h1v1h-1zM184 79h1v1h-1zM144 89h1v1h-1zM209 62h1v1h-1zM190 125h1v1h-1zM178 83h1v1h-1zM148 140h1v1h-1zM145 73h1v1h-1zM144 121h1v1h-1zM165 132h1v1h-1zM186 108h1v1h-1zM90 139h1v1h-1zM150 101h1v1h-1zM191 67h1v1h-1zM191 57h1v1h-1zM140 67h1v1h-1zM140 71h1v1h-1zM175 57h1v1h-1zM125 72h1v1h-1zM147 124h1v1h-1zM181 34h1v1h-1zM101 125h1v1h-1zM127 74h1v1h-1zM150 56h1v1h-1zM222 97h1v1h-1zM160 91h1v1h-1zM204 102h1v1h-1zM179 69h1v1h-1zM156 108h1v1h-1zM196 85h1v1h-1zM191 82h1v1h-1zM204 88h1v1h-1zM141 88h1v1h-1zM198 52h1v1h-1zM127 123h1v1h-1zM153 100h1v1h-1zM200 64h1v1h-1zM215 85h1v1h-1zM201 100h1v1h-1zM139 51h1v1h-1zM168 76h1v1h-1zM136 112h1v1h-1zM112 85h1v1h-1zM112 126h1v1h-1zM128 89h1v1h-1zM201 54h1v1h-1zM167 127h1v1h-1zM215 93h1v1h-1zM179 152h1v1h-1zM199 119h1v1h-1zM152 133h1v1h-1zM174 101h1v1h-1zM153 96h1v1h-1zM116 105h1v1h-1zM124 87h1v1h-1zM188 110h1v1h-1zM161 92h1v1h-1zM166 159h1v1h-1zM197 127h1v1h-1zM177 100h1v1h-1zM127 117h1v1h-1zM169 51h1v1h-1zM163 54h1v1h-1zM176 51h1v1h-1zM190 105h1v1h-1zM152 125h1v1h-1zM163 98h1v1h-1zM206 113h1v1h-1zM180 77h1v1h-1zM177 102h1v1h-1zM124 69h1v1h-1zM172 84h1v1h-1zM173 69h1v1h-1zM176 34h1v1h-1zM168 120h1v1h-1zM164 107h1v1h-1zM160 94h1v1h-1zM169 77h1v1h-1zM186 58h1v1h-1zM125 103h1v1h-1zM154 21h1v1h-1zM155 72h1v1h-1zM172 118h1v1h-1zM112 96h1v1h-1zM190 133h1v1h-1zM167 41h1v1h-1zM117 46h1v1h-1zM145 76h1v1h-1zM126 107h1v1h-1zM123 59h1v1h-1zM194 38h1v1h-1zM190 73h1v1h-1zM179 121h1v1h-1zM192 76h1v1h-1zM178 40h1v1h-1zM181 58h1v1h-1zM209 101h1v1h-1zM122 176h1v1h-1zM157 53h1v1h-1zM78 145h1v1h-1zM215 71h1v1h-1zM125 68h1v1h-1zM149 93h1v1h-1zM189 118h1v1h-1zM127 57h1v1h-1zM163 32h1v1h-1zM199 35h1v1h-1zM172 77h1v1h-1zM123 160h1v1h-1zM151 40h1v1h-1zM159 118h1v1h-1zM141 39h1v1h-1zM153 171h1v1h-1zM170 25h1v1h-1zM183 85h1v1h-1zM169 24h1v1h-1zM121 37h1v1h-1zM181 84h1v1h-1zM190 55h1v1h-1zM205 52h1v1h-1zM167 93h1v1h-1zM149 71h1v1h-1zM208 88h1v1h-1zM155 109h1v1h-1zM165 20h1v1h-1zM183 92h1v1h-1zM208 108h1v1h-1zM155 56h1v1h-1zM166 114h1v1h-1zM184 49h1v1h-1zM123 37h1v1h-1zM198 45h1v1h-1zM122 74h1v1h-1zM157 45h1v1h-1zM187 35h1v1h-1zM194 87h1v1h-1zM167 99h1v1h-1zM130 115h1v1h-1zM137 82h1v1h-1zM189 77h1v1h-1zM137 44h1v1h-1zM78 92h1v1h-1zM132 79h1v1h-1zM192 55h1v1h-1zM84 122h1v1h-1zM187 25h1v1h-1zM192 82h1v1h-1zM200 82h1v1h-1zM173 123h1v1h-1zM213 74h1v1h-1zM136 90h1v1h-1zM142 45h1v1h-1zM129 85h1v1h-1zM184 30h1v1h-1zM135 109h1v1h-1zM201 56h1v1h-1zM156 122h1v1h-1zM131 121h1v1h-1zM127 114h1v1h-1zM204 129h1v1h-1zM143 113h1v1h-1zM157 105h1v1h-1zM171 101h1v1h-1zM171 73h1v1h-1zM180 33h1v1h-1zM94 123h1v1h-1zM154 80h1v1h-1zM183 87h1v1h-1zM171 64h1v1h-1zM207 99h1v1h-1zM155 18h1v1h-1zM144 117h1v1h-1zM204 70h1v1h-1zM199 122h1v1h-1zM195 65h1v1h-1zM160 50h1v1h-1zM187 100h1v1h-1zM165 61h1v1h-1zM72 166h1v1h-1zM120 66h1v1h-1zM117 15h1v1h-1zM142 94h1v1h-1zM75 144h1v1h-1zM217 62h1v1h-1zM102 106h1v1h-1zM82 144h1v1h-1zM91 130h1v1h-1zM180 59h1v1h-1zM185 86h1v1h-1zM190 60h1v1h-1zM150 21h1v1h-1zM203 53h1v1h-1zM179 25h1v1h-1zM146 30h1v1h-1zM107 133h1v1h-1zM137 59h1v1h-1zM171 55h1v1h-1zM193 73h1v1h-1zM175 50h1v1h-1zM212 68h1v1h-1zM127 20h1v1h-1zM146 109h1v1h-1zM147 68h1v1h-1zM174 169h1v1h-1zM145 124h1v1h-1zM150 59h1v1h-1zM147 106h1v1h-1zM203 70h1v1h-1zM151 69h1v1h-1zM97 147h1v1h-1zM193 35h1v1h-1zM88 155h1v1h-1zM144 20h1v1h-1zM185 75h1v1h-1zM144 62h1v1h-1zM109 86h1v1h-1zM142 17h1v1h-1zM173 50h1v1h-1zM112 76h1v1h-1zM77 171h1v1h-1zM169 102h1v1h-1zM196 69h1v1h-1zM205 82h1v1h-1zM202 72h1v1h-1zM154 112h1v1h-1zM194 53h1v1h-1zM195 59h1v1h-1zM175 75h1v1h-1zM121 118h1v1h-1zM182 111h1v1h-1zM141 97h1v1h-1zM200 81h1v1h-1zM110 58h1v1h-1zM161 111h1v1h-1zM136 59h1v1h-1zM192 40h1v1h-1zM175 44h1v1h-1zM194 66h1v1h-1zM199 96h1v1h-1zM158 92h1v1h-1zM189 104h1v1h-1zM154 79h1v1h-1zM203 57h1v1h-1zM200 38h1v1h-1zM174 21h1v1h-1zM189 121h1v1h-1zM82 56h1v1h-1zM193 95h1v1h-1zM131 60h1v1h-1zM161 44h1v1h-1zM209 95h1v1h-1zM191 63h1v1h-1zM148 91h1v1h-1zM215 62h1v1h-1zM153 47h1v1h-1zM155 43h1v1h-1zM192 39h1v1h-1zM176 46h1v1h-1zM124 96h1v1h-1zM138 78h1v1h-1zM204 73h1v1h-1zM169 31h1v1h-1zM108 67h1v1h-1zM165 17h1v1h-1zM139 89h1v1h-1zM184 54h1v1h-1zM147 122h1v1h-1zM183 104h1v1h-1zM155 48h1v1h-1zM145 41h1v1h-1zM130 122h1v1h-1zM205 65h1v1h-1zM169 119h1v1h-1zM194 65h1v1h-1zM210 57h1v1h-1zM111 47h1v1h-1zM148 93h1v1h-1zM161 107h1v1h-1zM131 28h1v1h-1zM177 90h1v1h-1zM163 107h1v1h-1zM139 46h1v1h-1zM135 72h1v1h-1zM193 62h1v1h-1zM145 87h1v1h-1zM117 140h1v1h-1zM189 87h1v1h-1zM186 54h1v1h-1zM112 98h1v1h-1zM186 87h1v1h-1zM161 50h1v1h-1zM182 109h1v1h-1zM186 70h1v1h-1zM137 71h1v1h-1zM167 80h1v1h-1zM197 59h1v1h-1zM175 60h1v1h-1zM149 129h1v1h-1zM116 89h1v1h-1zM142 59h1v1h-1zM171 93h1v1h-1zM153 55h1v1h-1zM164 76h1v1h-1zM127 89h1v1h-1zM92 80h1v1h-1zM163 57h1v1h-1zM109 48h1v1h-1zM192 25h1v1h-1zM159 112h1v1h-1zM165 82h1v1h-1zM155 99h1v1h-1zM169 88h1v1h-1zM147 102h1v1h-1zM192 60h1v1h-1zM142 20h1v1h-1zM150 118h1v1h-1zM173 61h1v1h-1zM102 115h1v1h-1zM186 90h1v1h-1zM88 127h1v1h-1zM190 15h1v1h-1zM152 37h1v1h-1zM163 78h1v1h-1zM195 64h1v1h-1zM197 122h1v1h-1zM159 96h1v1h-1zM176 30h1v1h-1zM77 116h1v1h-1zM197 60h1v1h-1zM176 107h1v1h-1zM123 88h1v1h-1zM87 161h1v1h-1zM189 34h1v1h-1zM150 106h1v1h-1zM156 81h1v1h-1zM119 47h1v1h-1zM122 134h1v1h-1zM179 91h1v1h-1zM163 86h1v1h-1zM189 65h1v1h-1zM172 48h1v1h-1zM135 71h1v1h-1zM162 106h1v1h-1zM161 79h1v1h-1zM144 73h1v1h-1zM172 107h1v1h-1zM117 100h1v1h-1zM140 89h1v1h-1zM170 19h1v1h-1zM176 25h1v1h-1zM153 72h1v1h-1zM161 96h1v1h-1zM150 76h1v1h-1zM119 118h1v1h-1zM80 90h1v1h-1zM157 130h1v1h-1zM197 73h1v1h-1zM220 87h1v1h-1zM176 129h1v1h-1zM148 39h1v1h-1zM180 70h1v1h-1zM117 90h1v1h-1zM130 72h1v1h-1zM157 70h1v1h-1zM202 56h1v1h-1zM146 37h1v1h-1zM235 65h1v1h-1zM136 51h1v1h-1zM188 84h1v1h-1zM130 119h1v1h-1zM136 67h1v1h-1zM126 73h1v1h-1zM205 67h1v1h-1zM169 50h1v1h-1zM138 117h1v1h-1zM125 67h1v1h-1zM205 90h1v1h-1zM196 49h1v1h-1zM74 146h1v1h-1zM178 144h1v1h-1zM145 46h1v1h-1zM205 36h1v1h-1zM190 50h1v1h-1zM127 65h1v1h-1zM134 101h1v1h-1zM176 44h1v1h-1zM105 136h1v1h-1zM146 32h1v1h-1zM164 180h1v1h-1zM181 87h1v1h-1zM170 71h1v1h-1zM131 56h1v1h-1zM133 40h1v1h-1zM182 66h1v1h-1zM188 98h1v1h-1zM190 86h1v1h-1zM154 75h1v1h-1zM130 73h1v1h-1zM171 67h1v1h-1zM109 135h1v1h-1zM148 135h1v1h-1zM153 19h1v1h-1zM75 167h1v1h-1zM142 117h1v1h-1zM122 81h1v1h-1zM114 87h1v1h-1zM192 83h1v1h-1zM194 25h1v1h-1zM140 96h1v1h-1zM182 94h1v1h-1zM240 180h1v1h-1zM136 68h1v1h-1zM171 63h1v1h-1zM92 153h1v1h-1zM128 48h1v1h-1zM194 97h1v1h-1zM192 53h1v1h-1zM161 143h1v1h-1zM171 87h1v1h-1zM160 79h1v1h-1zM116 90h1v1h-1zM124 121h1v1h-1zM128 158h1v1h-1zM131 15h1v1h-1zM190 93h1v1h-1zM144 72h1v1h-1zM146 46h1v1h-1zM185 50h1v1h-1zM110 127h1v1h-1zM195 92h1v1h-1zM187 127h1v1h-1zM168 118h1v1h-1zM177 81h1v1h-1zM153 105h1v1h-1zM133 69h1v1h-1zM148 89h1v1h-1zM189 70h1v1h-1zM215 94h1v1h-1zM75 166h1v1h-1zM196 130h1v1h-1zM164 99h1v1h-1zM143 34h1v1h-1zM185 72h1v1h-1zM135 115h1v1h-1zM141 61h1v1h-1zM84 139h1v1h-1zM192 95h1v1h-1zM179 102h1v1h-1zM185 71h1v1h-1zM200 122h1v1h-1zM138 39h1v1h-1zM164 85h1v1h-1zM129 59h1v1h-1zM174 110h1v1h-1zM176 53h1v1h-1zM132 41h1v1h-1zM223 163h1v1h-1zM100 163h1v1h-1zM161 97h1v1h-1zM156 120h1v1h-1zM159 41h1v1h-1zM139 170h1v1h-1zM176 89h1v1h-1zM183 106h1v1h-1zM121 60h1v1h-1zM201 29h1v1h-1zM219 135h1v1h-1zM165 94h1v1h-1zM70 120h1v1h-1zM134 92h1v1h-1zM77 141h1v1h-1zM203 74h1v1h-1zM158 91h1v1h-1zM233 85h1v1h-1zM187 79h1v1h-1zM189 19h1v1h-1zM78 180h1v1h-1zM99 112h1v1h-1zM134 135h1v1h-1zM159 38h1v1h-1zM143 78h1v1h-1zM170 27h1v1h-1zM202 110h1v1h-1zM179 135h1v1h-1zM140 120h1v1h-1zM193 83h1v1h-1zM133 92h1v1h-1zM197 70h1v1h-1zM199 40h1v1h-1zM146 133h1v1h-1zM154 18h1v1h-1zM177 73h1v1h-1zM122 135h1v1h-1zM241 114h1v1h-1zM162 96h1v1h-1zM141 70h1v1h-1zM208 57h1v1h-1zM119 64h1v1h-1zM188 115h1v1h-1zM197 67h1v1h-1zM194 124h1v1h-1zM97 127h1v1h-1zM169 86h1v1h-1zM72 139h1v1h-1zM94 99h1v1h-1zM152 47h1v1h-1zM140 99h1v1h-1zM159 129h1v1h-1zM172 72h1v1h-1zM157 132h1v1h-1zM167 73h1v1h-1zM191 64h1v1h-1zM200 112h1v1h-1zM120 163h1v1h-1zM175 116h1v1h-1zM196 120h1v1h-1zM213 58h1v1h-1zM142 86h1v1h-1zM194 98h1v1h-1zM172 144h1v1h-1zM110 149h1v1h-1zM206 50h1v1h-1zM189 52h1v1h-1zM197 117h1v1h-1zM146 90h1v1h-1zM122 153h1v1h-1zM214 90h1v1h-1zM87 70h1v1h-1zM148 56h1v1h-1zM214 83h1v1h-1zM172 56h1v1h-1zM175 108h1v1h-1zM153 40h1v1h-1zM219 77h1v1h-1zM68 126h1v1h-1zM117 73h1v1h-1zM150 86h1v1h-1zM131 61h1v1h-1zM161 84h1v1h-1zM148 85h1v1h-1zM118 63h1v1h-1zM77 122h1v1h-1zM171 126h1v1h-1zM158 62h1v1h-1zM111 64h1v1h-1zM174 86h1v1h-1zM144 125h1v1h-1zM99 84h1v1h-1zM190 128h1v1h-1zM206 46h1v1h-1zM143 105h1v1h-1zM185 78h1v1h-1zM136 69h1v1h-1zM129 77h1v1h-1zM215 35h1v1h-1zM166 42h1v1h-1zM80 129h1v1h-1zM107 130h1v1h-1zM82 118h1v1h-1zM174 24h1v1h-1zM130 60h1v1h-1zM194 91h1v1h-1zM204 101h1v1h-1zM95 74h1v1h-1zM152 81h1v1h-1zM149 97h1v1h-1zM133 45h1v1h-1zM188 38h1v1h-1zM171 59h1v1h-1zM189 148h1v1h-1zM169 96h1v1h-1zM167 77h1v1h-1zM154 53h1v1h-1zM134 81h1v1h-1zM184 94h1v1h-1zM161 77h1v1h-1zM192 116h1v1h-1zM204 74h1v1h-1zM101 118h1v1h-1zM122 123h1v1h-1zM119 78h1v1h-1zM115 100h1v1h-1zM154 67h1v1h-1zM163 63h1v1h-1zM145 17h1v1h-1zM121 78h1v1h-1zM213 15h1v1h-1zM170 74h1v1h-1zM239 81h1v1h-1zM167 81h1v1h-1zM154 35h1v1h-1zM203 62h1v1h-1zM78 80h1v1h-1zM122 87h1v1h-1zM154 101h1v1h-1zM198 119h1v1h-1zM125 41h1v1h-1zM163 70h1v1h-1zM114 105h1v1h-1zM119 72h1v1h-1zM114 117h1v1h-1zM171 121h1v1h-1zM150 143h1v1h-1zM216 59h1v1h-1zM169 54h1v1h-1zM187 51h1v1h-1zM189 49h1v1h-1zM162 94h1v1h-1zM175 106h1v1h-1zM135 16h1v1h-1zM208 86h1v1h-1zM190 45h1v1h-1zM226 126h1v1h-1zM207 60h1v1h-1zM149 44h1v1h-1zM180 92h1v1h-1zM190 81h1v1h-1zM157 78h1v1h-1zM172 117h1v1h-1zM146 49h1v1h-1zM197 71h1v1h-1zM182 118h1v1h-1zM114 138h1v1h-1zM130 157h1v1h-1zM177 112h1v1h-1zM148 83h1v1h-1zM181 70h1v1h-1zM184 73h1v1h-1zM117 119h1v1h-1zM135 48h1v1h-1zM209 106h1v1h-1zM98 151h1v1h-1zM174 47h1v1h-1zM193 80h1v1h-1zM175 51h1v1h-1zM158 38h1v1h-1zM194 79h1v1h-1zM194 35h1v1h-1zM189 42h1v1h-1zM125 48h1v1h-1zM195 48h1v1h-1zM115 88h1v1h-1zM129 94h1v1h-1zM129 82h1v1h-1zM161 106h1v1h-1zM134 48h1v1h-1zM129 160h1v1h-1zM151 39h1v1h-1zM159 130h1v1h-1zM129 75h1v1h-1zM145 72h1v1h-1zM152 35h1v1h-1zM189 83h1v1h-1zM187 81h1v1h-1zM136 119h1v1h-1zM169 92h1v1h-1zM241 142h1v1h-1zM166 115h1v1h-1zM233 79h1v1h-1zM142 77h1v1h-1zM197 77h1v1h-1zM207 82h1v1h-1zM162 76h1v1h-1zM147 34h1v1h-1zM156 135h1v1h-1zM129 90h1v1h-1zM72 176h1v1h-1zM128 167h1v1h-1zM137 38h1v1h-1zM163 104h1v1h-1zM186 53h1v1h-1zM166 68h1v1h-1zM116 94h1v1h-1zM77 150h1v1h-1zM129 72h1v1h-1zM104 34h1v1h-1zM113 135h1v1h-1zM136 82h1v1h-1zM154 42h1v1h-1zM130 62h1v1h-1zM167 163h1v1h-1zM163 95h1v1h-1zM187 41h1v1h-1zM187 62h1v1h-1zM201 71h1v1h-1zM121 81h1v1h-1zM218 103h1v1h-1zM196 86h1v1h-1zM210 100h1v1h-1zM193 99h1v1h-1zM98 150h1v1h-1zM186 56h1v1h-1zM134 126h1v1h-1zM159 44h1v1h-1zM151 81h1v1h-1zM178 88h1v1h-1zM220 37h1v1h-1zM123 125h1v1h-1zM141 130h1v1h-1zM188 94h1v1h-1zM153 64h1v1h-1zM208 20h1v1h-1zM196 109h1v1h-1zM145 131h1v1h-1zM173 158h1v1h-1zM190 147h1v1h-1zM138 104h1v1h-1zM182 26h1v1h-1zM218 60h1v1h-1zM111 107h1v1h-1zM126 69h1v1h-1zM151 100h1v1h-1zM211 86h1v1h-1zM167 113h1v1h-1zM156 51h1v1h-1zM206 84h1v1h-1zM184 103h1v1h-1zM173 62h1v1h-1zM190 87h1v1h-1zM169 43h1v1h-1zM129 33h1v1h-1zM211 16h1v1h-1zM133 56h1v1h-1zM146 55h1v1h-1zM157 80h1v1h-1zM96 85h1v1h-1zM113 117h1v1h-1zM136 100h1v1h-1zM111 136h1v1h-1zM113 130h1v1h-1zM202 57h1v1h-1zM125 65h1v1h-1zM207 24h1v1h-1zM173 91h1v1h-1zM150 68h1v1h-1zM146 119h1v1h-1zM134 91h1v1h-1zM148 121h1v1h-1zM147 99h1v1h-1zM141 102h1v1h-1zM139 41h1v1h-1zM153 87h1v1h-1zM135 42h1v1h-1zM218 47h1v1h-1zM211 44h1v1h-1zM187 115h1v1h-1zM184 127h1v1h-1zM189 113h1v1h-1zM123 136h1v1h-1zM162 35h1v1h-1zM144 42h1v1h-1zM111 125h1v1h-1zM198 96h1v1h-1zM176 95h1v1h-1zM166 55h1v1h-1zM155 83h1v1h-1zM180 34h1v1h-1zM112 22h1v1h-1zM165 51h1v1h-1zM120 31h1v1h-1zM185 27h1v1h-1zM152 112h1v1h-1zM143 98h1v1h-1zM195 76h1v1h-1zM207 40h1v1h-1zM100 106h1v1h-1zM199 58h1v1h-1zM75 82h1v1h-1zM138 70h1v1h-1zM82 162h1v1h-1zM109 54h1v1h-1zM186 49h1v1h-1zM184 81h1v1h-1zM155 69h1v1h-1zM143 60h1v1h-1zM175 74h1v1h-1zM153 76h1v1h-1zM135 86h1v1h-1zM197 69h1v1h-1zM235 36h1v1h-1zM193 125h1v1h-1zM124 113h1v1h-1zM155 132h1v1h-1zM193 51h1v1h-1zM158 116h1v1h-1zM183 70h1v1h-1zM168 37h1v1h-1zM173 80h1v1h-1zM150 66h1v1h-1zM203 66h1v1h-1zM190 114h1v1h-1zM194 57h1v1h-1zM183 24h1v1h-1zM130 124h1v1h-1zM139 71h1v1h-1zM113 108h1v1h-1zM189 76h1v1h-1zM140 78h1v1h-1zM160 68h1v1h-1zM181 110h1v1h-1zM203 95h1v1h-1zM74 164h1v1h-1zM119 34h1v1h-1zM152 114h1v1h-1zM143 46h1v1h-1zM197 111h1v1h-1zM216 104h1v1h-1zM102 99h1v1h-1zM192 35h1v1h-1zM104 89h1v1h-1zM122 129h1v1h-1zM120 48h1v1h-1zM114 60h1v1h-1zM204 112h1v1h-1zM148 105h1v1h-1zM202 87h1v1h-1zM171 28h1v1h-1zM161 21h1v1h-1zM152 87h1v1h-1zM144 114h1v1h-1zM144 82h1v1h-1zM157 67h1v1h-1zM125 164h1v1h-1zM151 55h1v1h-1zM82 133h1v1h-1zM165 146h1v1h-1zM110 107h1v1h-1zM170 105h1v1h-1zM177 84h1v1h-1zM132 73h1v1h-1zM88 160h1v1h-1zM100 77h1v1h-1zM179 101h1v1h-1zM178 29h1v1h-1zM121 29h1v1h-1zM161 58h1v1h-1zM165 74h1v1h-1zM189 54h1v1h-1zM152 38h1v1h-1zM137 113h1v1h-1zM147 67h1v1h-1zM192 50h1v1h-1zM116 119h1v1h-1zM152 116h1v1h-1zM148 92h1v1h-1zM195 93h1v1h-1zM74 150h1v1h-1zM169 75h1v1h-1zM201 49h1v1h-1zM120 100h1v1h-1zM166 94h1v1h-1zM169 73h1v1h-1zM155 112h1v1h-1zM135 113h1v1h-1zM196 47h1v1h-1zM161 89h1v1h-1zM160 104h1v1h-1zM165 43h1v1h-1zM144 86h1v1h-1zM164 110h1v1h-1zM168 44h1v1h-1zM147 46h1v1h-1zM171 47h1v1h-1zM176 82h1v1h-1zM205 63h1v1h-1zM135 99h1v1h-1zM191 51h1v1h-1zM179 113h1v1h-1zM102 138h1v1h-1zM94 136h1v1h-1zM114 96h1v1h-1zM196 62h1v1h-1zM130 84h1v1h-1zM207 85h1v1h-1zM184 121h1v1h-1zM165 45h1v1h-1zM101 115h1v1h-1zM169 82h1v1h-1zM218 15h1v1h-1zM201 62h1v1h-1zM116 148h1v1h-1zM201 104h1v1h-1zM130 17h1v1h-1zM158 112h1v1h-1zM150 67h1v1h-1zM158 118h1v1h-1zM142 81h1v1h-1zM157 122h1v1h-1zM143 120h1v1h-1zM156 28h1v1h-1zM139 100h1v1h-1zM223 69h1v1h-1zM175 99h1v1h-1zM182 76h1v1h-1zM187 39h1v1h-1zM105 49h1v1h-1zM173 110h1v1h-1zM116 129h1v1h-1zM179 86h1v1h-1zM180 110h1v1h-1zM90 135h1v1h-1zM186 116h1v1h-1zM201 72h1v1h-1zM167 125h1v1h-1zM187 87h1v1h-1zM227 143h1v1h-1zM193 122h1v1h-1zM135 35h1v1h-1zM135 110h1v1h-1zM122 79h1v1h-1zM155 125h1v1h-1zM126 87h1v1h-1zM170 76h1v1h-1zM180 96h1v1h-1zM144 29h1v1h-1zM181 72h1v1h-1zM176 109h1v1h-1zM164 72h1v1h-1zM134 97h1v1h-1zM159 45h1v1h-1zM106 53h1v1h-1zM158 86h1v1h-1zM95 140h1v1h-1zM149 45h1v1h-1zM208 76h1v1h-1zM207 52h1v1h-1zM180 109h1v1h-1zM203 98h1v1h-1zM169 53h1v1h-1zM123 122h1v1h-1zM89 153h1v1h-1zM166 121h1v1h-1zM129 166h1v1h-1zM127 180h1v1h-1zM84 130h1v1h-1zM210 82h1v1h-1zM132 81h1v1h-1zM206 28h1v1h-1zM138 55h1v1h-1zM192 97h1v1h-1zM204 54h1v1h-1zM127 44h1v1h-1zM211 49h1v1h-1zM174 75h1v1h-1zM166 158h1v1h-1zM159 81h1v1h-1zM192 84h1v1h-1zM210 84h1v1h-1zM187 70h1v1h-1zM160 63h1v1h-1zM169 40h1v1h-1zM178 114h1v1h-1zM199 81h1v1h-1zM152 67h1v1h-1zM160 69h1v1h-1zM191 107h1v1h-1zM200 69h1v1h-1zM75 172h1v1h-1zM85 143h1v1h-1zM133 50h1v1h-1zM145 92h1v1h-1zM150 120h1v1h-1zM145 21h1v1h-1zM166 27h1v1h-1zM215 83h1v1h-1zM132 86h1v1h-1zM98 124h1v1h-1zM154 57h1v1h-1zM124 146h1v1h-1zM123 26h1v1h-1zM172 63h1v1h-1zM181 121h1v1h-1zM184 97h1v1h-1zM179 70h1v1h-1zM199 114h1v1h-1zM96 30h1v1h-1zM173 108h1v1h-1zM203 39h1v1h-1zM169 76h1v1h-1zM148 70h1v1h-1zM111 144h1v1h-1zM174 44h1v1h-1zM146 24h1v1h-1zM131 135h1v1h-1zM188 53h1v1h-1zM180 108h1v1h-1zM202 85h1v1h-1zM204 76h1v1h-1zM195 37h1v1h-1zM188 101h1v1h-1zM158 111h1v1h-1zM199 83h1v1h-1zM169 95h1v1h-1zM193 44h1v1h-1zM180 61h1v1h-1zM81 138h1v1h-1zM63 97h1v1h-1zM171 51h1v1h-1zM155 111h1v1h-1zM146 42h1v1h-1zM146 53h1v1h-1zM149 53h1v1h-1zM155 49h1v1h-1zM202 105h1v1h-1zM165 44h1v1h-1zM152 50h1v1h-1zM147 45h1v1h-1zM120 141h1v1h-1zM174 29h1v1h-1zM175 53h1v1h-1zM120 138h1v1h-1zM182 46h1v1h-1zM140 30h1v1h-1zM165 59h1v1h-1zM208 79h1v1h-1zM185 96h1v1h-1zM68 151h1v1h-1zM137 39h1v1h-1zM131 70h1v1h-1zM233 23h1v1h-1zM133 84h1v1h-1zM119 111h1v1h-1zM181 100h1v1h-1zM172 116h1v1h-1zM75 175h1v1h-1zM215 74h1v1h-1zM171 36h1v1h-1zM131 166h1v1h-1zM141 126h1v1h-1zM132 124h1v1h-1zM131 87h1v1h-1zM222 112h1v1h-1zM118 105h1v1h-1zM203 105h1v1h-1zM136 42h1v1h-1zM194 60h1v1h-1zM206 76h1v1h-1zM95 147h1v1h-1zM177 38h1v1h-1zM81 109h1v1h-1zM148 124h1v1h-1zM132 158h1v1h-1zM174 111h1v1h-1zM195 74h1v1h-1zM146 60h1v1h-1zM195 58h1v1h-1zM144 148h1v1h-1zM104 103h1v1h-1zM193 75h1v1h-1zM217 20h1v1h-1zM157 94h1v1h-1zM216 81h1v1h-1zM173 113h1v1h-1zM130 52h1v1h-1zM172 74h1v1h-1zM94 145h1v1h-1zM118 43h1v1h-1zM216 79h1v1h-1zM136 58h1v1h-1zM120 130h1v1h-1zM173 59h1v1h-1zM116 147h1v1h-1zM127 93h1v1h-1zM151 49h1v1h-1zM81 137h1v1h-1zM170 70h1v1h-1zM127 120h1v1h-1zM151 106h1v1h-1zM84 164h1v1h-1zM142 27h1v1h-1zM187 96h1v1h-1zM183 18h1v1h-1zM163 17h1v1h-1zM170 61h1v1h-1zM165 29h1v1h-1zM155 27h1v1h-1zM99 115h1v1h-1zM177 106h1v1h-1zM165 111h1v1h-1zM151 90h1v1h-1zM106 93h1v1h-1zM185 117h1v1h-1zM180 71h1v1h-1zM171 66h1v1h-1zM154 108h1v1h-1zM198 66h1v1h-1zM202 64h1v1h-1zM205 74h1v1h-1zM116 154h1v1h-1zM143 108h1v1h-1zM162 44h1v1h-1zM152 55h1v1h-1zM211 62h1v1h-1zM194 86h1v1h-1zM140 52h1v1h-1zM114 85h1v1h-1zM154 61h1v1h-1zM140 66h1v1h-1zM196 74h1v1h-1zM182 93h1v1h-1zM106 114h1v1h-1zM119 139h1v1h-1zM135 106h1v1h-1zM167 39h1v1h-1zM193 56h1v1h-1zM138 93h1v1h-1zM102 105h1v1h-1zM168 35h1v1h-1zM180 55h1v1h-1zM187 30h1v1h-1zM178 45h1v1h-1zM191 78h1v1h-1zM178 95h1v1h-1zM147 104h1v1h-1zM177 56h1v1h-1zM196 115h1v1h-1zM148 30h1v1h-1zM142 31h1v1h-1zM172 20h1v1h-1zM182 16h1v1h-1zM180 47h1v1h-1zM115 104h1v1h-1zM138 101h1v1h-1zM198 110h1v1h-1zM159 162h1v1h-1zM136 73h1v1h-1zM145 97h1v1h-1zM145 44h1v1h-1zM216 80h1v1h-1zM132 88h1v1h-1zM134 98h1v1h-1zM188 44h1v1h-1zM147 82h1v1h-1zM192 72h1v1h-1zM169 107h1v1h-1zM205 123h1v1h-1zM154 111h1v1h-1zM186 61h1v1h-1zM133 77h1v1h-1zM154 92h1v1h-1zM70 143h1v1h-1zM153 113h1v1h-1zM228 82h1v1h-1zM183 77h1v1h-1zM81 135h1v1h-1zM166 117h1v1h-1zM220 95h1v1h-1zM203 117h1v1h-1zM175 64h1v1h-1zM120 91h1v1h-1zM140 104h1v1h-1zM180 82h1v1h-1zM136 83h1v1h-1zM189 68h1v1h-1zM119 123h1v1h-1zM185 98h1v1h-1zM124 85h1v1h-1zM149 94h1v1h-1zM161 85h1v1h-1zM141 112h1v1h-1zM220 171h1v1h-1zM162 47h1v1h-1zM206 18h1v1h-1zM129 112h1v1h-1zM174 121h1v1h-1zM121 89h1v1h-1zM136 135h1v1h-1zM221 102h1v1h-1zM66 137h1v1h-1zM134 90h1v1h-1zM147 53h1v1h-1zM187 80h1v1h-1zM92 146h1v1h-1zM153 79h1v1h-1zM188 71h1v1h-1zM161 109h1v1h-1zM176 84h1v1h-1zM130 88h1v1h-1zM124 143h1v1h-1zM124 137h1v1h-1zM132 65h1v1h-1zM130 65h1v1h-1zM186 99h1v1h-1zM181 71h1v1h-1zM180 87h1v1h-1zM171 106h1v1h-1zM158 69h1v1h-1zM134 93h1v1h-1zM77 139h1v1h-1zM144 43h1v1h-1zM205 76h1v1h-1zM186 88h1v1h-1zM163 59h1v1h-1zM151 93h1v1h-1zM159 53h1v1h-1zM164 68h1v1h-1zM119 93h1v1h-1zM162 92h1v1h-1zM120 55h1v1h-1zM141 69h1v1h-1zM100 25h1v1h-1zM138 168h1v1h-1zM203 131h1v1h-1zM129 88h1v1h-1zM93 62h1v1h-1zM76 172h1v1h-1zM131 112h1v1h-1zM77 102h1v1h-1zM164 38h1v1h-1zM141 100h1v1h-1zM141 52h1v1h-1zM209 21h1v1h-1zM158 73h1v1h-1zM207 73h1v1h-1zM183 69h1v1h-1zM147 56h1v1h-1zM193 76h1v1h-1zM172 44h1v1h-1zM120 157h1v1h-1zM164 56h1v1h-1zM200 103h1v1h-1zM142 99h1v1h-1zM131 101h1v1h-1zM81 110h1v1h-1zM119 67h1v1h-1zM106 128h1v1h-1zM161 125h1v1h-1zM160 103h1v1h-1zM148 107h1v1h-1zM194 84h1v1h-1zM212 62h1v1h-1zM209 54h1v1h-1zM158 34h1v1h-1zM96 130h1v1h-1zM228 59h1v1h-1zM156 65h1v1h-1zM156 33h1v1h-1zM181 94h1v1h-1zM148 96h1v1h-1zM203 118h1v1h-1zM136 60h1v1h-1zM148 119h1v1h-1zM135 94h1v1h-1zM77 143h1v1h-1zM199 32h1v1h-1zM162 74h1v1h-1zM175 107h1v1h-1zM163 39h1v1h-1zM125 89h1v1h-1zM101 72h1v1h-1zM183 15h1v1h-1zM126 113h1v1h-1zM141 33h1v1h-1zM153 48h1v1h-1zM161 93h1v1h-1zM145 28h1v1h-1zM213 101h1v1h-1zM202 95h1v1h-1zM163 101h1v1h-1zM159 115h1v1h-1zM171 94h1v1h-1zM177 68h1v1h-1zM186 67h1v1h-1zM136 91h1v1h-1zM131 78h1v1h-1zM75 145h1v1h-1zM165 28h1v1h-1zM158 36h1v1h-1zM135 133h1v1h-1zM187 68h1v1h-1zM121 73h1v1h-1zM138 60h1v1h-1zM140 77h1v1h-1zM148 44h1v1h-1zM171 112h1v1h-1zM190 91h1v1h-1zM207 49h1v1h-1zM137 79h1v1h-1zM141 81h1v1h-1zM145 16h1v1h-1zM189 101h1v1h-1zM172 67h1v1h-1zM193 88h1v1h-1zM210 58h1v1h-1zM174 30h1v1h-1zM156 87h1v1h-1zM143 15h1v1h-1zM80 171h1v1h-1zM162 73h1v1h-1zM142 170h1v1h-1zM187 123h1v1h-1zM144 92h1v1h-1zM141 76h1v1h-1zM165 103h1v1h-1zM145 32h1v1h-1zM147 107h1v1h-1zM170 81h1v1h-1zM79 106h1v1h-1zM195 78h1v1h-1zM176 49h1v1h-1zM147 27h1v1h-1zM181 98h1v1h-1zM180 116h1v1h-1zM158 52h1v1h-1zM180 69h1v1h-1zM143 125h1v1h-1zM173 96h1v1h-1zM114 116h1v1h-1zM191 62h1v1h-1zM166 84h1v1h-1zM210 79h1v1h-1zM189 90h1v1h-1zM166 113h1v1h-1zM205 47h1v1h-1zM189 60h1v1h-1zM239 144h1v1h-1zM191 93h1v1h-1zM135 131h1v1h-1zM175 16h1v1h-1zM160 73h1v1h-1zM135 73h1v1h-1zM133 36h1v1h-1zM187 85h1v1h-1zM155 106h1v1h-1zM219 154h1v1h-1zM158 87h1v1h-1zM174 49h1v1h-1zM101 123h1v1h-1zM155 21h1v1h-1zM179 30h1v1h-1zM98 152h1v1h-1zM200 86h1v1h-1zM203 76h1v1h-1zM166 74h1v1h-1zM110 118h1v1h-1zM182 35h1v1h-1zM184 110h1v1h-1zM153 107h1v1h-1zM212 48h1v1h-1zM197 113h1v1h-1zM199 101h1v1h-1zM105 142h1v1h-1zM182 89h1v1h-1zM135 130h1v1h-1zM123 53h1v1h-1zM161 70h1v1h-1zM161 67h1v1h-1zM157 123h1v1h-1zM152 104h1v1h-1zM133 87h1v1h-1zM162 64h1v1h-1zM182 64h1v1h-1zM95 122h1v1h-1zM167 126h1v1h-1zM157 72h1v1h-1zM211 75h1v1h-1zM200 96h1v1h-1zM140 49h1v1h-1zM161 123h1v1h-1zM184 100h1v1h-1zM147 78h1v1h-1zM156 110h1v1h-1zM175 88h1v1h-1zM172 61h1v1h-1zM74 159h1v1h-1zM167 103h1v1h-1zM173 54h1v1h-1zM171 40h1v1h-1zM171 81h1v1h-1zM99 125h1v1h-1zM172 34h1v1h-1zM158 26h1v1h-1zM183 53h1v1h-1zM172 66h1v1h-1zM129 30h1v1h-1zM155 139h1v1h-1zM152 48h1v1h-1zM129 89h1v1h-1zM154 69h1v1h-1zM182 116h1v1h-1zM221 71h1v1h-1zM71 174h1v1h-1zM159 87h1v1h-1zM182 51h1v1h-1zM131 118h1v1h-1zM171 50h1v1h-1zM145 39h1v1h-1zM194 18h1v1h-1zM94 75h1v1h-1zM138 85h1v1h-1zM189 97h1v1h-1zM126 94h1v1h-1zM173 46h1v1h-1zM203 84h1v1h-1zM196 68h1v1h-1zM118 155h1v1h-1zM197 54h1v1h-1zM86 129h1v1h-1zM109 70h1v1h-1zM150 71h1v1h-1zM190 121h1v1h-1zM165 79h1v1h-1zM181 125h1v1h-1zM155 88h1v1h-1zM73 122h1v1h-1zM200 118h1v1h-1zM169 58h1v1h-1zM73 146h1v1h-1zM119 122h1v1h-1zM154 68h1v1h-1zM217 60h1v1h-1zM168 20h1v1h-1zM190 72h1v1h-1zM132 85h1v1h-1zM158 115h1v1h-1zM84 27h1v1h-1zM186 50h1v1h-1zM146 70h1v1h-1zM187 98h1v1h-1zM161 162h1v1h-1zM138 45h1v1h-1zM188 63h1v1h-1zM144 119h1v1h-1zM166 59h1v1h-1zM162 17h1v1h-1zM198 84h1v1h-1zM64 72h1v1h-1zM129 52h1v1h-1zM133 102h1v1h-1zM186 71h1v1h-1zM140 83h1v1h-1zM118 72h1v1h-1zM185 94h1v1h-1zM161 48h1v1h-1zM110 83h1v1h-1zM72 169h1v1h-1zM100 154h1v1h-1zM127 107h1v1h-1zM183 22h1v1h-1zM150 37h1v1h-1zM150 55h1v1h-1zM133 64h1v1h-1zM195 67h1v1h-1zM119 105h1v1h-1zM168 85h1v1h-1zM167 111h1v1h-1zM179 74h1v1h-1zM153 51h1v1h-1zM168 91h1v1h-1zM149 51h1v1h-1zM109 64h1v1h-1zM126 79h1v1h-1zM74 144h1v1h-1zM156 106h1v1h-1zM97 110h1v1h-1zM129 74h1v1h-1zM115 129h1v1h-1zM162 80h1v1h-1zM138 25h1v1h-1zM98 136h1v1h-1zM116 97h1v1h-1zM150 82h1v1h-1zM202 94h1v1h-1zM214 92h1v1h-1zM165 99h1v1h-1zM194 119h1v1h-1zM143 56h1v1h-1zM151 23h1v1h-1zM137 73h1v1h-1zM120 126h1v1h-1zM110 151h1v1h-1zM136 118h1v1h-1zM170 30h1v1h-1zM229 37h1v1h-1zM105 26h1v1h-1zM75 153h1v1h-1zM145 107h1v1h-1zM166 76h1v1h-1zM165 127h1v1h-1zM84 94h1v1h-1zM158 93h1v1h-1zM109 148h1v1h-1zM201 78h1v1h-1zM215 75h1v1h-1zM153 91h1v1h-1zM193 111h1v1h-1zM136 108h1v1h-1zM112 137h1v1h-1zM128 81h1v1h-1zM189 93h1v1h-1zM198 77h1v1h-1zM142 38h1v1h-1zM224 58h1v1h-1zM150 112h1v1h-1zM163 49h1v1h-1zM176 33h1v1h-1zM202 83h1v1h-1zM76 155h1v1h-1zM166 86h1v1h-1zM137 114h1v1h-1zM116 54h1v1h-1zM199 26h1v1h-1zM205 110h1v1h-1zM178 105h1v1h-1zM160 51h1v1h-1zM105 129h1v1h-1zM130 53h1v1h-1zM136 92h1v1h-1zM173 22h1v1h-1zM149 80h1v1h-1zM180 112h1v1h-1zM158 41h1v1h-1zM162 69h1v1h-1zM173 82h1v1h-1zM153 49h1v1h-1zM124 97h1v1h-1zM181 44h1v1h-1zM134 103h1v1h-1zM199 65h1v1h-1zM153 93h1v1h-1zM172 33h1v1h-1zM128 41h1v1h-1zM136 57h1v1h-1zM107 120h1v1h-1zM143 109h1v1h-1zM179 55h1v1h-1zM207 89h1v1h-1zM187 49h1v1h-1zM75 130h1v1h-1zM170 117h1v1h-1zM178 30h1v1h-1zM223 62h1v1h-1zM134 80h1v1h-1zM74 157h1v1h-1zM160 18h1v1h-1zM145 104h1v1h-1zM132 92h1v1h-1zM170 100h1v1h-1zM136 116h1v1h-1zM185 104h1v1h-1zM157 95h1v1h-1zM145 88h1v1h-1zM127 161h1v1h-1zM74 139h1v1h-1zM94 156h1v1h-1zM182 119h1v1h-1zM210 110h1v1h-1zM163 22h1v1h-1zM86 148h1v1h-1zM213 69h1v1h-1zM175 39h1v1h-1zM117 41h1v1h-1zM71 132h1v1h-1zM173 68h1v1h-1zM197 27h1v1h-1zM154 76h1v1h-1zM189 116h1v1h-1zM130 103h1v1h-1zM204 78h1v1h-1zM206 86h1v1h-1zM108 131h1v1h-1zM172 78h1v1h-1zM154 125h1v1h-1zM138 126h1v1h-1zM211 106h1v1h-1zM128 132h1v1h-1zM186 60h1v1h-1zM134 51h1v1h-1zM143 65h1v1h-1zM183 47h1v1h-1zM144 34h1v1h-1zM113 35h1v1h-1zM153 81h1v1h-1zM163 125h1v1h-1zM135 77h1v1h-1zM178 112h1v1h-1zM112 133h1v1h-1zM161 60h1v1h-1zM153 90h1v1h-1zM191 65h1v1h-1zM155 51h1v1h-1zM198 88h1v1h-1zM195 73h1v1h-1zM199 100h1v1h-1zM133 37h1v1h-1zM146 78h1v1h-1zM147 144h1v1h-1zM194 63h1v1h-1zM142 18h1v1h-1zM134 39h1v1h-1zM168 47h1v1h-1zM148 113h1v1h-1zM141 79h1v1h-1zM216 101h1v1h-1zM160 88h1v1h-1zM78 19h1v1h-1zM107 76h1v1h-1zM139 119h1v1h-1zM74 163h1v1h-1zM181 41h1v1h-1zM140 107h1v1h-1zM176 55h1v1h-1zM136 70h1v1h-1zM135 84h1v1h-1zM154 47h1v1h-1zM144 52h1v1h-1zM164 73h1v1h-1zM125 73h1v1h-1zM187 61h1v1h-1zM185 15h1v1h-1zM215 88h1v1h-1zM195 84h1v1h-1zM184 89h1v1h-1zM148 123h1v1h-1zM97 136h1v1h-1zM178 118h1v1h-1zM171 48h1v1h-1zM113 82h1v1h-1zM134 52h1v1h-1zM119 109h1v1h-1zM200 32h1v1h-1zM135 74h1v1h-1zM151 134h1v1h-1zM127 17h1v1h-1zM107 142h1v1h-1zM179 29h1v1h-1zM237 109h1v1h-1zM96 151h1v1h-1zM177 57h1v1h-1zM139 58h1v1h-1zM138 105h1v1h-1zM169 30h1v1h-1zM121 112h1v1h-1zM146 144h1v1h-1zM219 38h1v1h-1zM192 44h1v1h-1zM193 36h1v1h-1zM198 71h1v1h-1zM146 96h1v1h-1zM181 33h1v1h-1zM91 120h1v1h-1zM195 89h1v1h-1zM144 31h1v1h-1zM148 68h1v1h-1zM116 49h1v1h-1zM93 126h1v1h-1zM173 112h1v1h-1zM206 73h1v1h-1zM164 108h1v1h-1zM214 67h1v1h-1zM171 103h1v1h-1zM134 161h1v1h-1zM128 162h1v1h-1zM190 71h1v1h-1zM128 99h1v1h-1zM159 101h1v1h-1zM203 124h1v1h-1zM183 100h1v1h-1zM129 17h1v1h-1zM152 49h1v1h-1zM147 112h1v1h-1zM83 140h1v1h-1zM126 127h1v1h-1zM90 164h1v1h-1zM184 126h1v1h-1zM192 114h1v1h-1zM181 49h1v1h-1zM74 173h1v1h-1zM177 59h1v1h-1zM65 137h1v1h-1zM131 71h1v1h-1zM102 86h1v1h-1zM165 110h1v1h-1zM209 72h1v1h-1zM188 69h1v1h-1zM189 80h1v1h-1zM184 63h1v1h-1zM149 24h1v1h-1zM179 115h1v1h-1zM210 91h1v1h-1zM201 50h1v1h-1zM163 165h1v1h-1zM126 49h1v1h-1zM156 133h1v1h-1zM179 120h1v1h-1zM151 137h1v1h-1zM102 178h1v1h-1zM165 84h1v1h-1zM199 76h1v1h-1zM196 125h1v1h-1zM163 62h1v1h-1zM190 88h1v1h-1zM172 82h1v1h-1zM124 152h1v1h-1zM216 112h1v1h-1zM213 82h1v1h-1zM167 117h1v1h-1zM191 95h1v1h-1zM165 90h1v1h-1zM127 118h1v1h-1zM198 113h1v1h-1zM160 43h1v1h-1zM201 51h1v1h-1zM87 149h1v1h-1zM206 90h1v1h-1zM195 39h1v1h-1zM75 168h1v1h-1zM160 106h1v1h-1zM150 43h1v1h-1zM131 142h1v1h-1zM137 43h1v1h-1zM123 116h1v1h-1zM99 156h1v1h-1zM138 88h1v1h-1zM157 103h1v1h-1zM175 119h1v1h-1zM151 108h1v1h-1zM190 31h1v1h-1zM162 39h1v1h-1zM200 84h1v1h-1zM185 55h1v1h-1zM196 40h1v1h-1zM150 146h1v1h-1zM153 61h1v1h-1zM194 85h1v1h-1zM175 73h1v1h-1zM184 78h1v1h-1zM177 63h1v1h-1zM111 116h1v1h-1zM117 70h1v1h-1zM166 81h1v1h-1zM150 57h1v1h-1zM168 48h1v1h-1zM163 31h1v1h-1zM155 110h1v1h-1zM192 34h1v1h-1zM160 53h1v1h-1zM175 95h1v1h-1zM134 64h1v1h-1zM182 105h1v1h-1zM147 60h1v1h-1zM169 44h1v1h-1zM123 126h1v1h-1zM107 72h1v1h-1zM107 69h1v1h-1zM151 89h1v1h-1zM192 42h1v1h-1zM200 76h1v1h-1zM146 68h1v1h-1zM149 115h1v1h-1zM166 64h1v1h-1zM88 130h1v1h-1zM142 95h1v1h-1zM155 79h1v1h-1zM88 46h1v1h-1zM140 53h1v1h-1zM213 68h1v1h-1zM181 119h1v1h-1zM188 67h1v1h-1zM131 80h1v1h-1zM176 87h1v1h-1zM108 102h1v1h-1zM175 94h1v1h-1zM135 126h1v1h-1zM186 68h1v1h-1zM149 86h1v1h-1zM106 164h1v1h-1zM197 105h1v1h-1zM198 69h1v1h-1zM176 15h1v1h-1zM167 66h1v1h-1zM126 88h1v1h-1zM195 15h1v1h-1zM172 108h1v1h-1zM163 51h1v1h-1zM164 41h1v1h-1zM173 53h1v1h-1zM139 124h1v1h-1zM126 40h1v1h-1zM143 76h1v1h-1zM67 141h1v1h-1zM165 100h1v1h-1zM107 132h1v1h-1zM170 62h1v1h-1zM139 116h1v1h-1zM170 88h1v1h-1zM190 51h1v1h-1zM172 101h1v1h-1zM132 166h1v1h-1zM161 29h1v1h-1zM196 79h1v1h-1zM113 92h1v1h-1zM161 31h1v1h-1zM72 160h1v1h-1zM134 122h1v1h-1zM209 38h1v1h-1zM145 89h1v1h-1zM148 27h1v1h-1zM167 18h1v1h-1zM126 163h1v1h-1zM184 107h1v1h-1zM152 115h1v1h-1zM188 49h1v1h-1zM193 59h1v1h-1zM185 81h1v1h-1zM138 36h1v1h-1zM180 102h1v1h-1zM125 76h1v1h-1zM179 61h1v1h-1zM112 105h1v1h-1zM201 42h1v1h-1zM180 139h1v1h-1zM107 141h1v1h-1zM152 100h1v1h-1zM206 69h1v1h-1zM199 106h1v1h-1zM114 102h1v1h-1zM186 135h1v1h-1zM133 43h1v1h-1zM122 84h1v1h-1zM132 175h1v1h-1zM133 104h1v1h-1zM197 97h1v1h-1zM181 89h1v1h-1zM139 27h1v1h-1zM130 70h1v1h-1zM164 96h1v1h-1zM98 143h1v1h-1zM155 119h1v1h-1zM199 54h1v1h-1zM137 89h1v1h-1zM201 93h1v1h-1zM87 141h1v1h-1zM188 57h1v1h-1zM134 157h1v1h-1zM193 116h1v1h-1zM155 80h1v1h-1zM157 85h1v1h-1zM162 58h1v1h-1zM198 48h1v1h-1zM140 82h1v1h-1zM170 108h1v1h-1zM191 86h1v1h-1zM218 29h1v1h-1zM156 53h1v1h-1zM169 87h1v1h-1zM183 86h1v1h-1zM176 106h1v1h-1zM175 114h1v1h-1zM137 40h1v1h-1zM151 36h1v1h-1zM105 146h1v1h-1zM132 145h1v1h-1zM206 65h1v1h-1zM68 157h1v1h-1zM145 114h1v1h-1zM151 91h1v1h-1zM155 162h1v1h-1zM140 75h1v1h-1zM156 60h1v1h-1zM176 42h1v1h-1zM129 76h1v1h-1zM183 141h1v1h-1zM126 18h1v1h-1zM215 56h1v1h-1zM219 125h1v1h-1zM153 102h1v1h-1zM163 112h1v1h-1zM178 82h1v1h-1zM173 95h1v1h-1zM227 101h1v1h-1zM186 110h1v1h-1zM174 63h1v1h-1zM147 55h1v1h-1zM190 75h1v1h-1zM206 98h1v1h-1zM190 92h1v1h-1zM179 125h1v1h-1zM173 116h1v1h-1zM195 111h1v1h-1zM182 87h1v1h-1zM188 72h1v1h-1zM204 58h1v1h-1zM159 92h1v1h-1zM170 36h1v1h-1zM201 92h1v1h-1zM83 90h1v1h-1zM143 80h1v1h-1zM174 67h1v1h-1zM79 147h1v1h-1zM162 38h1v1h-1zM160 84h1v1h-1zM189 29h1v1h-1zM133 83h1v1h-1zM159 65h1v1h-1zM113 71h1v1h-1zM112 36h1v1h-1zM187 116h1v1h-1zM157 25h1v1h-1zM121 74h1v1h-1zM111 147h1v1h-1zM162 87h1v1h-1zM123 139h1v1h-1zM157 35h1v1h-1zM211 83h1v1h-1zM151 46h1v1h-1zM207 71h1v1h-1zM188 35h1v1h-1zM143 33h1v1h-1zM154 50h1v1h-1zM107 113h1v1h-1zM157 92h1v1h-1zM166 112h1v1h-1zM179 76h1v1h-1zM147 79h1v1h-1zM155 114h1v1h-1zM180 111h1v1h-1zM199 61h1v1h-1zM127 37h1v1h-1zM128 71h1v1h-1zM153 39h1v1h-1zM197 103h1v1h-1zM207 94h1v1h-1zM185 101h1v1h-1zM160 67h1v1h-1zM179 57h1v1h-1zM123 114h1v1h-1zM102 131h1v1h-1zM171 70h1v1h-1zM94 142h1v1h-1zM147 35h1v1h-1zM183 52h1v1h-1zM78 167h1v1h-1zM186 76h1v1h-1zM205 148h1v1h-1zM180 86h1v1h-1zM124 91h1v1h-1zM128 25h1v1h-1zM122 125h1v1h-1zM84 151h1v1h-1zM182 78h1v1h-1zM203 80h1v1h-1zM154 117h1v1h-1zM105 155h1v1h-1zM138 97h1v1h-1zM144 56h1v1h-1zM152 142h1v1h-1zM180 76h1v1h-1zM175 62h1v1h-1zM172 90h1v1h-1zM120 61h1v1h-1zM79 171h1v1h-1zM191 97h1v1h-1zM215 82h1v1h-1zM119 107h1v1h-1zM120 135h1v1h-1zM139 55h1v1h-1zM134 87h1v1h-1zM189 64h1v1h-1zM167 34h1v1h-1zM198 115h1v1h-1zM74 71h1v1h-1zM186 34h1v1h-1zM175 54h1v1h-1zM201 103h1v1h-1zM208 106h1v1h-1zM179 46h1v1h-1zM103 81h1v1h-1zM74 152h1v1h-1zM87 152h1v1h-1zM198 94h1v1h-1zM164 117h1v1h-1zM202 90h1v1h-1zM97 55h1v1h-1zM142 67h1v1h-1zM213 57h1v1h-1zM174 107h1v1h-1zM161 145h1v1h-1zM80 109h1v1h-1zM132 32h1v1h-1zM202 33h1v1h-1zM94 137h1v1h-1zM164 91h1v1h-1zM116 117h1v1h-1zM115 138h1v1h-1zM87 105h1v1h-1zM76 151h1v1h-1zM186 103h1v1h-1zM194 55h1v1h-1zM139 22h1v1h-1zM198 68h1v1h-1zM178 46h1v1h-1zM72 125h1v1h-1zM106 84h1v1h-1zM120 158h1v1h-1zM134 83h1v1h-1zM210 86h1v1h-1zM104 66h1v1h-1zM133 72h1v1h-1zM183 68h1v1h-1zM147 93h1v1h-1zM141 62h1v1h-1zM181 26h1v1h-1zM172 105h1v1h-1zM155 82h1v1h-1zM112 71h1v1h-1zM187 110h1v1h-1zM134 115h1v1h-1zM167 102h1v1h-1zM148 59h1v1h-1zM78 139h1v1h-1zM209 94h1v1h-1zM132 111h1v1h-1zM214 18h1v1h-1zM172 88h1v1h-1zM178 26h1v1h-1zM156 77h1v1h-1zM206 45h1v1h-1zM155 92h1v1h-1zM138 106h1v1h-1zM116 63h1v1h-1zM187 119h1v1h-1zM172 98h1v1h-1zM198 73h1v1h-1zM170 67h1v1h-1zM153 28h1v1h-1zM144 106h1v1h-1zM161 49h1v1h-1zM201 101h1v1h-1zM173 84h1v1h-1zM139 70h1v1h-1zM151 98h1v1h-1zM188 80h1v1h-1zM131 105h1v1h-1zM144 58h1v1h-1zM130 165h1v1h-1zM139 80h1v1h-1zM200 73h1v1h-1zM78 154h1v1h-1zM169 114h1v1h-1zM127 45h1v1h-1zM155 60h1v1h-1zM181 73h1v1h-1zM175 76h1v1h-1zM191 102h1v1h-1zM168 55h1v1h-1zM112 100h1v1h-1zM160 102h1v1h-1zM190 67h1v1h-1zM150 104h1v1h-1zM205 95h1v1h-1zM123 65h1v1h-1zM120 19h1v1h-1zM202 51h1v1h-1zM122 156h1v1h-1zM160 132h1v1h-1zM158 96h1v1h-1zM140 69h1v1h-1zM205 94h1v1h-1zM169 134h1v1h-1zM74 86h1v1h-1zM156 113h1v1h-1zM152 95h1v1h-1zM197 55h1v1h-1zM152 103h1v1h-1zM214 60h1v1h-1zM154 116h1v1h-1zM99 165h1v1h-1zM174 106h1v1h-1zM147 31h1v1h-1zM177 120h1v1h-1zM177 33h1v1h-1zM181 20h1v1h-1zM200 49h1v1h-1zM180 98h1v1h-1zM195 44h1v1h-1zM79 123h1v1h-1zM170 28h1v1h-1zM181 74h1v1h-1zM155 67h1v1h-1zM75 150h1v1h-1zM113 79h1v1h-1zM174 103h1v1h-1zM157 114h1v1h-1zM168 39h1v1h-1zM174 54h1v1h-1zM140 95h1v1h-1zM199 38h1v1h-1zM173 38h1v1h-1zM148 88h1v1h-1zM136 115h1v1h-1zM137 120h1v1h-1zM163 44h1v1h-1zM194 32h1v1h-1zM138 87h1v1h-1zM204 94h1v1h-1zM153 106h1v1h-1zM76 51h1v1h-1zM154 44h1v1h-1zM230 88h1v1h-1zM203 30h1v1h-1zM110 82h1v1h-1zM183 48h1v1h-1zM171 60h1v1h-1zM111 106h1v1h-1zM168 105h1v1h-1zM149 95h1v1h-1zM190 70h1v1h-1zM179 96h1v1h-1zM183 66h1v1h-1zM141 95h1v1h-1zM214 64h1v1h-1zM137 50h1v1h-1zM137 108h1v1h-1zM202 24h1v1h-1zM72 162h1v1h-1zM173 150h1v1h-1zM116 135h1v1h-1zM146 36h1v1h-1zM144 48h1v1h-1zM216 66h1v1h-1zM200 100h1v1h-1zM136 103h1v1h-1zM175 20h1v1h-1zM135 76h1v1h-1zM74 142h1v1h-1zM92 118h1v1h-1zM173 58h1v1h-1zM121 58h1v1h-1zM190 58h1v1h-1zM196 104h1v1h-1zM136 113h1v1h-1zM74 116h1v1h-1zM144 63h1v1h-1zM156 90h1v1h-1zM182 65h1v1h-1zM168 89h1v1h-1zM164 55h1v1h-1zM199 37h1v1h-1zM135 44h1v1h-1zM124 82h1v1h-1zM209 61h1v1h-1zM185 99h1v1h-1zM151 84h1v1h-1zM200 60h1v1h-1zM162 71h1v1h-1zM158 29h1v1h-1zM162 115h1v1h-1zM147 44h1v1h-1zM120 95h1v1h-1zM126 31h1v1h-1zM157 107h1v1h-1zM240 127h1v1h-1zM122 107h1v1h-1zM107 135h1v1h-1zM106 108h1v1h-1zM132 16h1v1h-1zM179 87h1v1h-1zM212 58h1v1h-1zM159 22h1v1h-1zM205 28h1v1h-1zM164 52h1v1h-1zM146 115h1v1h-1zM109 65h1v1h-1zM120 79h1v1h-1zM123 51h1v1h-1zM154 73h1v1h-1zM168 33h1v1h-1zM137 32h1v1h-1zM139 118h1v1h-1zM107 86h1v1h-1zM143 88h1v1h-1zM148 51h1v1h-1zM191 145h1v1h-1zM98 122h1v1h-1zM198 109h1v1h-1zM118 48h1v1h-1zM185 57h1v1h-1zM112 124h1v1h-1zM184 46h1v1h-1zM170 122h1v1h-1zM178 86h1v1h-1zM218 91h1v1h-1zM111 126h1v1h-1zM172 24h1v1h-1zM166 62h1v1h-1zM189 66h1v1h-1zM131 107h1v1h-1zM137 104h1v1h-1zM197 68h1v1h-1zM178 94h1v1h-1zM235 109h1v1h-1zM219 60h1v1h-1zM183 65h1v1h-1zM106 107h1v1h-1zM162 107h1v1h-1zM133 111h1v1h-1zM150 88h1v1h-1zM88 136h1v1h-1zM155 52h1v1h-1zM164 37h1v1h-1zM96 145h1v1h-1zM182 97h1v1h-1zM157 91h1v1h-1zM149 42h1v1h-1zM169 110h1v1h-1zM166 48h1v1h-1zM179 49h1v1h-1zM144 109h1v1h-1zM174 46h1v1h-1zM110 129h1v1h-1zM95 141h1v1h-1zM160 93h1v1h-1zM126 155h1v1h-1zM184 115h1v1h-1zM144 67h1v1h-1zM115 49h1v1h-1zM134 110h1v1h-1zM152 83h1v1h-1zM105 128h1v1h-1zM139 18h1v1h-1zM140 58h1v1h-1zM149 112h1v1h-1zM64 67h1v1h-1zM185 80h1v1h-1zM158 43h1v1h-1zM186 63h1v1h-1zM139 82h1v1h-1zM163 102h1v1h-1zM140 84h1v1h-1zM162 72h1v1h-1zM124 155h1v1h-1zM183 73h1v1h-1zM131 145h1v1h-1zM210 71h1v1h-1zM191 29h1v1h-1zM188 83h1v1h-1zM192 115h1v1h-1zM181 105h1v1h-1zM164 100h1v1h-1zM138 133h1v1h-1zM146 25h1v1h-1zM109 56h1v1h-1zM187 140h1v1h-1zM204 83h1v1h-1zM137 45h1v1h-1zM149 21h1v1h-1zM192 98h1v1h-1zM110 119h1v1h-1zM95 81h1v1h-1zM189 111h1v1h-1zM103 109h1v1h-1zM188 114h1v1h-1zM155 101h1v1h-1zM175 28h1v1h-1zM171 16h1v1h-1zM122 127h1v1h-1zM138 67h1v1h-1zM203 85h1v1h-1zM133 70h1v1h-1zM189 53h1v1h-1zM205 93h1v1h-1zM158 37h1v1h-1zM183 35h1v1h-1zM129 63h1v1h-1zM187 48h1v1h-1zM62 144h1v1h-1zM122 66h1v1h-1zM125 102h1v1h-1zM180 24h1v1h-1zM194 46h1v1h-1zM118 57h1v1h-1zM111 100h1v1h-1zM173 19h1v1h-1zM170 41h1v1h-1zM144 59h1v1h-1zM209 120h1v1h-1zM143 58h1v1h-1zM123 102h1v1h-1zM126 78h1v1h-1zM183 63h1v1h-1zM115 108h1v1h-1zM139 54h1v1h-1zM200 44h1v1h-1zM152 117h1v1h-1zM198 57h1v1h-1zM226 35h1v1h-1zM150 60h1v1h-1zM195 53h1v1h-1zM198 90h1v1h-1zM183 99h1v1h-1zM116 79h1v1h-1zM170 16h1v1h-1zM197 53h1v1h-1zM204 100h1v1h-1zM195 61h1v1h-1zM117 106h1v1h-1zM167 87h1v1h-1zM151 101h1v1h-1zM154 118h1v1h-1zM191 104h1v1h-1zM197 86h1v1h-1zM180 67h1v1h-1zM152 29h1v1h-1zM167 101h1v1h-1zM120 85h1v1h-1zM179 33h1v1h-1zM176 52h1v1h-1zM226 20h1v1h-1zM124 132h1v1h-1zM140 50h1v1h-1zM155 95h1v1h-1zM118 97h1v1h-1zM128 60h1v1h-1zM202 89h1v1h-1zM208 97h1v1h-1zM199 68h1v1h-1zM170 55h1v1h-1zM176 170h1v1h-1zM182 70h1v1h-1zM108 144h1v1h-1zM190 95h1v1h-1zM79 59h1v1h-1zM158 68h1v1h-1zM132 105h1v1h-1zM164 98h1v1h-1zM118 77h1v1h-1zM173 33h1v1h-1zM125 70h1v1h-1zM175 70h1v1h-1zM156 67h1v1h-1zM153 60h1v1h-1zM149 101h1v1h-1zM106 129h1v1h-1zM79 125h1v1h-1zM140 46h1v1h-1zM199 104h1v1h-1zM190 46h1v1h-1zM170 51h1v1h-1zM170 64h1v1h-1zM206 68h1v1h-1zM122 50h1v1h-1zM127 76h1v1h-1zM160 90h1v1h-1zM152 76h1v1h-1zM144 45h1v1h-1zM139 42h1v1h-1zM175 58h1v1h-1zM159 57h1v1h-1zM175 80h1v1h-1zM164 114h1v1h-1zM186 48h1v1h-1zM188 18h1v1h-1zM154 103h1v1h-1zM155 40h1v1h-1zM130 106h1v1h-1zM129 47h1v1h-1zM147 117h1v1h-1zM192 111h1v1h-1zM106 142h1v1h-1zM158 95h1v1h-1zM171 111h1v1h-1zM154 99h1v1h-1zM68 141h1v1h-1zM171 71h1v1h-1zM149 28h1v1h-1zM130 71h1v1h-1zM102 167h1v1h-1zM202 111h1v1h-1zM152 31h1v1h-1zM130 100h1v1h-1zM146 29h1v1h-1zM130 107h1v1h-1zM147 105h1v1h-1zM127 128h1v1h-1zM139 143h1v1h-1zM172 17h1v1h-1zM191 99h1v1h-1zM162 90h1v1h-1zM127 70h1v1h-1zM179 68h1v1h-1zM130 87h1v1h-1zM145 105h1v1h-1zM141 53h1v1h-1zM179 48h1v1h-1zM63 34h1v1h-1zM130 61h1v1h-1zM99 162h1v1h-1zM165 36h1v1h-1zM163 93h1v1h-1zM173 103h1v1h-1zM119 149h1v1h-1zM227 20h1v1h-1zM153 57h1v1h-1zM190 53h1v1h-1zM120 116h1v1h-1zM158 84h1v1h-1zM189 23h1v1h-1zM178 37h1v1h-1zM166 91h1v1h-1zM123 78h1v1h-1zM189 62h1v1h-1zM183 71h1v1h-1zM218 77h1v1h-1zM132 164h1v1h-1zM131 116h1v1h-1zM109 160h1v1h-1zM182 47h1v1h-1zM167 43h1v1h-1zM169 120h1v1h-1zM119 104h1v1h-1zM75 114h1v1h-1zM171 65h1v1h-1zM205 70h1v1h-1zM209 97h1v1h-1zM133 80h1v1h-1zM185 105h1v1h-1zM163 83h1v1h-1zM152 52h1v1h-1zM142 74h1v1h-1zM127 162h1v1h-1zM150 125h1v1h-1zM162 75h1v1h-1zM79 109h1v1h-1zM182 45h1v1h-1zM151 32h1v1h-1zM156 151h1v1h-1zM174 98h1v1h-1zM186 79h1v1h-1zM151 116h1v1h-1zM131 42h1v1h-1zM191 34h1v1h-1zM165 169h1v1h-1zM148 131h1v1h-1zM176 56h1v1h-1zM139 92h1v1h-1zM189 92h1v1h-1zM118 47h1v1h-1zM161 88h1v1h-1zM147 48h1v1h-1zM180 22h1v1h-1zM138 118h1v1h-1zM160 32h1v1h-1zM129 122h1v1h-1zM182 39h1v1h-1zM192 104h1v1h-1zM184 74h1v1h-1zM151 114h1v1h-1zM158 32h1v1h-1zM121 132h1v1h-1zM87 146h1v1h-1zM146 74h1v1h-1zM91 176h1v1h-1zM187 60h1v1h-1zM140 108h1v1h-1zM127 88h1v1h-1zM180 114h1v1h-1zM160 49h1v1h-1zM112 127h1v1h-1zM149 39h1v1h-1zM192 113h1v1h-1zM185 103h1v1h-1zM194 127h1v1h-1zM153 41h1v1h-1zM212 94h1v1h-1zM167 21h1v1h-1zM157 73h1v1h-1zM194 92h1v1h-1zM203 120h1v1h-1zM141 160h1v1h-1zM175 129h1v1h-1zM132 84h1v1h-1zM108 115h1v1h-1zM215 92h1v1h-1zM154 41h1v1h-1zM196 126h1v1h-1zM146 113h1v1h-1zM100 79h1v1h-1zM228 62h1v1h-1z" fill="#6470a6"/></g><path d="M197.1,87.5C197.1,88.5 196.8,89.5 196.6,90.5C196.4,91.6 196.3,92.5 196,93.5C195.8,94.5 195.6,95.5 195.3,96.5C195.1,97.6 194.8,98.6 194.5,99.6C194.1,100.6 193.8,101.7 193.4,102.7C192.9,103.8 192.5,104.9 191.9,105.9C191.4,107 190.8,108.1 190.1,109.1C189.4,110.1 188.6,111.2 187.7,112.1C186.8,113.1 185.8,114 184.8,114.7C183.7,115.4 182.5,116.1 181.3,116.5C180.1,117 178.7,117.2 177.4,117.4C176.1,117.6 174.8,117.6 173.5,117.6C172.2,117.6 170.9,117.6 169.6,117.4C168.3,117.2 166.9,117 165.7,116.5C164.5,116.1 163.3,115.4 162.2,114.7C161.2,114 160.2,113.1 159.3,112.1C158.4,111.2 157.6,110.1 156.9,109.1C156.2,108.1 155.6,107 155.1,105.9C154.5,104.9 154.1,103.8 153.6,102.7C153.2,101.7 152.9,100.6 152.5,99.6C152.2,98.6 151.9,97.6 151.7,96.5C151.4,95.5 151.2,94.5 151,93.5C150.7,92.5 150.6,91.6 150.4,90.5C150.2,89.5 149.9,88.5 149.9,87.5C149.8,86.5 149.8,85.4 149.9,84.4C149.9,83.3 149.9,82.3 150,81.2C150.1,80.1 150.2,79 150.3,77.9C150.5,76.8 150.7,75.6 150.9,74.5C151.2,73.3 151.5,72.1 151.9,70.9C152.3,69.8 152.8,68.6 153.4,67.4C154.1,66.3 154.8,65.2 155.6,64.2C156.4,63.2 157.4,62.2 158.4,61.4C159.5,60.6 160.6,59.9 161.8,59.3C163,58.8 164.3,58.4 165.6,58.1C166.9,57.8 168.2,57.6 169.6,57.5C170.9,57.4 172.2,57.4 173.5,57.4C174.8,57.4 176.1,57.4 177.4,57.5C178.8,57.6 180.1,57.8 181.4,58.1C182.7,58.4 184,58.8 185.2,59.3C186.4,59.9 187.5,60.6 188.6,61.4C189.6,62.2 190.6,63.2 191.4,64.2C192.2,65.2 192.9,66.3 193.6,67.4C194.2,68.6 194.7,69.8 195.1,70.9C195.5,72.1 195.8,73.3 196.1,74.5C196.3,75.6 196.5,76.8 196.7,77.9C196.8,79 196.9,80.1 197,81.2C197.1,82.3 197.1,83.3 197.1,84.4C197.2,85.4 197.2,86.5 197.1,87.5Z" fill="#1f61aa" filter="url(#bl)"/><path d="M167 38h1v1h-1zM160 41h1v1h-1zM159 42h1v1h-1zM170 42h1v1h-1zM148 43h1v1h-1zM159 43h1v1h-1zM173 43h1v1h-1zM179 43h1v1h-1zM180 43h1v1h-1zM147 44h1v1h-1zM164 44h1v1h-1zM156 45h1v1h-1zM163 45h1v1h-1zM167 45h1v1h-1zM176 45h1v1h-1zM177 45h1v1h-1zM166 46h1v1h-1zM168 46h1v1h-1zM177 46h1v1h-1zM179 46h1v1h-1zM182 46h1v1h-1zM184 46h1v1h-1zM195 46h1v1h-1zM163 47h1v1h-1zM165 47h1v1h-1zM172 47h1v1h-1zM177 47h1v1h-1zM178 47h1v1h-1zM181 47h1v1h-1zM147 48h1v1h-1zM164 48h1v1h-1zM168 48h1v1h-1zM175 48h1v1h-1zM176 48h1v1h-1zM178 48h1v1h-1zM184 48h1v1h-1zM189 48h1v1h-1zM190 48h1v1h-1zM157 49h1v1h-1zM162 49h1v1h-1zM165 49h1v1h-1zM167 49h1v1h-1zM171 49h1v1h-1zM172 49h1v1h-1zM175 49h1v1h-1zM178 49h1v1h-1zM182 49h1v1h-1zM183 49h1v1h-1zM187 49h1v1h-1zM190 49h1v1h-1zM150 50h1v1h-1zM153 50h1v1h-1zM164 50h1v1h-1zM167 50h1v1h-1zM168 50h1v1h-1zM170 50h1v1h-1zM174 50h1v1h-1zM180 50h1v1h-1zM181 50h1v1h-1zM182 50h1v1h-1zM183 50h1v1h-1zM186 50h1v1h-1zM187 50h1v1h-1zM192 50h1v1h-1zM198 50h1v1h-1zM158 51h1v1h-1zM159 51h1v1h-1zM162 51h1v1h-1zM165 51h1v1h-1zM166 51h1v1h-1zM169 51h1v1h-1zM170 51h1v1h-1zM171 51h1v1h-1zM172 51h1v1h-1zM173 51h1v1h-1zM175 51h1v1h-1zM176 51h1v1h-1zM178 51h1v1h-1zM180 51h1v1h-1zM182 51h1v1h-1zM198 51h1v1h-1zM147 52h1v1h-1zM155 52h1v1h-1zM156 52h1v1h-1zM164 52h1v1h-1zM165 52h1v1h-1zM166 52h1v1h-1zM168 52h1v1h-1zM169 52h1v1h-1zM170 52h1v1h-1zM171 52h1v1h-1zM173 52h1v1h-1zM174 52h1v1h-1zM176 52h1v1h-1zM177 52h1v1h-1zM178 52h1v1h-1zM179 52h1v1h-1zM180 52h1v1h-1zM181 52h1v1h-1zM182 52h1v1h-1zM184 52h1v1h-1zM185 52h1v1h-1zM186 52h1v1h-1zM189 52h1v1h-1zM193 52h1v1h-1zM198 52h1v1h-1zM149 53h1v1h-1zM152 53h1v1h-1zM155 53h1v1h-1zM159 53h1v1h-1zM160 53h1v1h-1zM161 53h1v1h-1zM163 53h1v1h-1zM164 53h1v1h-1zM165 53h1v1h-1zM166 53h1v1h-1zM167 53h1v1h-1zM169 53h1v1h-1zM170 53h1v1h-1zM171 53h1v1h-1zM173 53h1v1h-1zM174 53h1v1h-1zM175 53h1v1h-1zM176 53h1v1h-1zM177 53h1v1h-1zM178 53h1v1h-1zM179 53h1v1h-1zM180 53h1v1h-1zM181 53h1v1h-1zM183 53h1v1h-1zM184 53h1v1h-1zM190 53h1v1h-1zM196 53h1v1h-1zM151 54h1v1h-1zM152 54h1v1h-1zM154 54h1v1h-1zM164 54h1v1h-1zM166 54h1v1h-1zM168 54h1v1h-1zM169 54h1v1h-1zM171 54h1v1h-1zM173 54h1v1h-1zM174 54h1v1h-1zM175 54h1v1h-1zM177 54h1v1h-1zM178 54h1v1h-1zM180 54h1v1h-1zM181 54h1v1h-1zM182 54h1v1h-1zM183 54h1v1h-1zM184 54h1v1h-1zM186 54h1v1h-1zM188 54h1v1h-1zM189 54h1v1h-1zM196 54h1v1h-1zM199 54h1v1h-1zM152 55h1v1h-1zM153 55h1v1h-1zM156 55h1v1h-1zM157 55h1v1h-1zM161 55h1v1h-1zM163 55h1v1h-1zM164 55h1v1h-1zM165 55h1v1h-1zM166 55h1v1h-1zM167 55h1v1h-1zM170 55h1v1h-1zM171 55h1v1h-1zM173 55h1v1h-1zM174 55h1v1h-1zM175 55h1v1h-1zM176 55h1v1h-1zM177 55h1v1h-1zM178 55h1v1h-1zM179 55h1v1h-1zM180 55h1v1h-1zM181 55h1v1h-1zM182 55h1v1h-1zM183 55h1v1h-1zM184 55h1v1h-1zM185 55h1v1h-1zM186 55h1v1h-1zM187 55h1v1h-1zM188 55h1v1h-1zM190 55h1v1h-1zM191 55h1v1h-1zM192 55h1v1h-1zM193 55h1v1h-1zM194 55h1v1h-1zM196 55h1v1h-1zM140 56h1v1h-1zM151 56h1v1h-1zM153 56h1v1h-1zM154 56h1v1h-1zM155 56h1v1h-1zM156 56h1v1h-1zM158 56h1v1h-1zM160 56h1v1h-1zM161 56h1v1h-1zM162 56h1v1h-1zM163 56h1v1h-1zM164 56h1v1h-1zM165 56h1v1h-1zM168 56h1v1h-1zM169 56h1v1h-1zM170 56h1v1h-1zM171 56h1v1h-1zM172 56h1v1h-1zM174 56h1v1h-1zM175 56h1v1h-1zM176 56h1v1h-1zM177 56h1v1h-1zM179 56h1v1h-1zM180 56h1v1h-1zM182 56h1v1h-1zM183 56h1v1h-1zM184 56h1v1h-1zM186 56h1v1h-1zM187 56h1v1h-1zM188 56h1v1h-1zM189 56h1v1h-1zM191 56h1v1h-1zM192 56h1v1h-1zM195 56h1v1h-1zM197 56h1v1h-1zM146 57h1v1h-1zM154 57h1v1h-1zM155 57h1v1h-1zM158 57h1v1h-1zM159 57h1v1h-1zM160 57h1v1h-1zM162 57h1v1h-1zM163 57h1v1h-1zM164 57h1v1h-1zM165 57h1v1h-1zM166 57h1v1h-1zM167 57h1v1h-1zM168 57h1v1h-1zM169 57h1v1h-1zM170 57h1v1h-1zM172 57h1v1h-1zM173 57h1v1h-1zM174 57h1v1h-1zM175 57h1v1h-1zM176 57h1v1h-1zM177 57h1v1h-1zM178 57h1v1h-1zM179 57h1v1h-1zM180 57h1v1h-1zM181 57h1v1h-1zM182 57h1v1h-1zM183 57h1v1h-1zM184 57h1v1h-1zM185 57h1v1h-1zM186 57h1v1h-1zM187 57h1v1h-1zM188 57h1v1h-1zM190 57h1v1h-1zM193 57h1v1h-1zM196 57h1v1h-1zM144 58h1v1h-1zM145 58h1v1h-1zM150 58h1v1h-1zM152 58h1v1h-1zM154 58h1v1h-1zM156 58h1v1h-1zM157 58h1v1h-1zM158 58h1v1h-1zM160 58h1v1h-1zM161 58h1v1h-1zM162 58h1v1h-1zM163 58h1v1h-1zM164 58h1v1h-1zM165 58h1v1h-1zM166 58h1v1h-1zM168 58h1v1h-1zM169 58h1v1h-1zM170 58h1v1h-1zM172 58h1v1h-1zM173 58h1v1h-1zM174 58h1v1h-1zM175 58h1v1h-1zM176 58h1v1h-1zM177 58h1v1h-1zM178 58h1v1h-1zM179 58h1v1h-1zM180 58h1v1h-1zM181 58h1v1h-1zM182 58h1v1h-1zM183 58h1v1h-1zM185 58h1v1h-1zM186 58h1v1h-1zM187 58h1v1h-1zM189 58h1v1h-1zM190 58h1v1h-1zM191 58h1v1h-1zM192 58h1v1h-1zM194 58h1v1h-1zM195 58h1v1h-1zM197 58h1v1h-1zM202 58h1v1h-1zM141 59h1v1h-1zM146 59h1v1h-1zM147 59h1v1h-1zM150 59h1v1h-1zM152 59h1v1h-1zM155 59h1v1h-1zM156 59h1v1h-1zM157 59h1v1h-1zM158 59h1v1h-1zM159 59h1v1h-1zM160 59h1v1h-1zM161 59h1v1h-1zM162 59h1v1h-1zM163 59h1v1h-1zM164 59h1v1h-1zM165 59h1v1h-1zM182 59h1v1h-1zM183 59h1v1h-1zM184 59h1v1h-1zM186 59h1v1h-1zM187 59h1v1h-1zM188 59h1v1h-1zM189 59h1v1h-1zM192 59h1v1h-1zM195 59h1v1h-1zM199 59h1v1h-1zM150 60h1v1h-1zM151 60h1v1h-1zM152 60h1v1h-1zM153 60h1v1h-1zM154 60h1v1h-1zM155 60h1v1h-1zM157 60h1v1h-1zM158 60h1v1h-1zM159 60h1v1h-1zM161 60h1v1h-1zM184 60h1v1h-1zM185 60h1v1h-1zM186 60h1v1h-1zM187 60h1v1h-1zM188 60h1v1h-1zM189 60h1v1h-1zM192 60h1v1h-1zM193 60h1v1h-1zM195 60h1v1h-1zM196 60h1v1h-1zM198 60h1v1h-1zM205 60h1v1h-1zM206 60h1v1h-1zM149 61h1v1h-1zM151 61h1v1h-1zM152 61h1v1h-1zM153 61h1v1h-1zM154 61h1v1h-1zM155 61h1v1h-1zM156 61h1v1h-1zM157 61h1v1h-1zM159 61h1v1h-1zM160 61h1v1h-1zM186 61h1v1h-1zM187 61h1v1h-1zM188 61h1v1h-1zM189 61h1v1h-1zM190 61h1v1h-1zM191 61h1v1h-1zM192 61h1v1h-1zM193 61h1v1h-1zM194 61h1v1h-1zM195 61h1v1h-1zM197 61h1v1h-1zM198 61h1v1h-1zM199 61h1v1h-1zM200 61h1v1h-1zM201 61h1v1h-1zM145 62h1v1h-1zM150 62h1v1h-1zM151 62h1v1h-1zM152 62h1v1h-1zM153 62h1v1h-1zM154 62h1v1h-1zM155 62h1v1h-1zM156 62h1v1h-1zM157 62h1v1h-1zM158 62h1v1h-1zM188 62h1v1h-1zM189 62h1v1h-1zM190 62h1v1h-1zM191 62h1v1h-1zM192 62h1v1h-1zM193 62h1v1h-1zM194 62h1v1h-1zM195 62h1v1h-1zM197 62h1v1h-1zM143 63h1v1h-1zM152 63h1v1h-1zM153 63h1v1h-1zM154 63h1v1h-1zM155 63h1v1h-1zM156 63h1v1h-1zM189 63h1v1h-1zM190 63h1v1h-1zM192 63h1v1h-1zM193 63h1v1h-1zM194 63h1v1h-1zM195 63h1v1h-1zM197 63h1v1h-1zM149 64h1v1h-1zM150 64h1v1h-1zM151 64h1v1h-1zM153 64h1v1h-1zM154 64h1v1h-1zM156 64h1v1h-1zM190 64h1v1h-1zM191 64h1v1h-1zM192 64h1v1h-1zM193 64h1v1h-1zM194 64h1v1h-1zM195 64h1v1h-1zM196 64h1v1h-1zM198 64h1v1h-1zM138 65h1v1h-1zM140 65h1v1h-1zM143 65h1v1h-1zM145 65h1v1h-1zM148 65h1v1h-1zM149 65h1v1h-1zM150 65h1v1h-1zM151 65h1v1h-1zM152 65h1v1h-1zM153 65h1v1h-1zM154 65h1v1h-1zM155 65h1v1h-1zM192 65h1v1h-1zM193 65h1v1h-1zM194 65h1v1h-1zM195 65h1v1h-1zM196 65h1v1h-1zM198 65h1v1h-1zM148 66h1v1h-1zM150 66h1v1h-1zM151 66h1v1h-1zM152 66h1v1h-1zM153 66h1v1h-1zM154 66h1v1h-1zM155 66h1v1h-1zM193 66h1v1h-1zM194 66h1v1h-1zM195 66h1v1h-1zM196 66h1v1h-1zM197 66h1v1h-1zM198 66h1v1h-1zM202 66h1v1h-1zM203 66h1v1h-1zM146 67h1v1h-1zM149 67h1v1h-1zM150 67h1v1h-1zM151 67h1v1h-1zM153 67h1v1h-1zM154 67h1v1h-1zM192 67h1v1h-1zM193 67h1v1h-1zM195 67h1v1h-1zM196 67h1v1h-1zM197 67h1v1h-1zM198 67h1v1h-1zM203 67h1v1h-1zM136 68h1v1h-1zM138 68h1v1h-1zM145 68h1v1h-1zM146 68h1v1h-1zM150 68h1v1h-1zM151 68h1v1h-1zM193 68h1v1h-1zM194 68h1v1h-1zM195 68h1v1h-1zM196 68h1v1h-1zM198 68h1v1h-1zM200 68h1v1h-1zM144 69h1v1h-1zM147 69h1v1h-1zM149 69h1v1h-1zM150 69h1v1h-1zM151 69h1v1h-1zM153 69h1v1h-1zM193 69h1v1h-1zM194 69h1v1h-1zM195 69h1v1h-1zM196 69h1v1h-1zM197 69h1v1h-1zM198 69h1v1h-1zM199 69h1v1h-1zM204 69h1v1h-1zM145 70h1v1h-1zM148 70h1v1h-1zM149 70h1v1h-1zM150 70h1v1h-1zM152 70h1v1h-1zM194 70h1v1h-1zM197 70h1v1h-1zM198 70h1v1h-1zM145 71h1v1h-1zM147 71h1v1h-1zM148 71h1v1h-1zM149 71h1v1h-1zM150 71h1v1h-1zM151 71h1v1h-1zM152 71h1v1h-1zM195 71h1v1h-1zM196 71h1v1h-1zM197 71h1v1h-1zM199 71h1v1h-1zM201 71h1v1h-1zM203 71h1v1h-1zM145 72h1v1h-1zM147 72h1v1h-1zM149 72h1v1h-1zM150 72h1v1h-1zM152 72h1v1h-1zM194 72h1v1h-1zM195 72h1v1h-1zM196 72h1v1h-1zM197 72h1v1h-1zM198 72h1v1h-1zM199 72h1v1h-1zM203 72h1v1h-1zM137 73h1v1h-1zM144 73h1v1h-1zM145 73h1v1h-1zM148 73h1v1h-1zM149 73h1v1h-1zM150 73h1v1h-1zM151 73h1v1h-1zM195 73h1v1h-1zM196 73h1v1h-1zM197 73h1v1h-1zM198 73h1v1h-1zM199 73h1v1h-1zM202 73h1v1h-1zM203 73h1v1h-1zM143 74h1v1h-1zM145 74h1v1h-1zM146 74h1v1h-1zM148 74h1v1h-1zM149 74h1v1h-1zM150 74h1v1h-1zM151 74h1v1h-1zM195 74h1v1h-1zM196 74h1v1h-1zM197 74h1v1h-1zM200 74h1v1h-1zM201 74h1v1h-1zM202 74h1v1h-1zM145 75h1v1h-1zM148 75h1v1h-1zM149 75h1v1h-1zM151 75h1v1h-1zM195 75h1v1h-1zM197 75h1v1h-1zM199 75h1v1h-1zM200 75h1v1h-1zM202 75h1v1h-1zM204 75h1v1h-1zM205 75h1v1h-1zM138 76h1v1h-1zM143 76h1v1h-1zM144 76h1v1h-1zM145 76h1v1h-1zM146 76h1v1h-1zM148 76h1v1h-1zM150 76h1v1h-1zM195 76h1v1h-1zM196 76h1v1h-1zM198 76h1v1h-1zM199 76h1v1h-1zM203 76h1v1h-1zM148 77h1v1h-1zM149 77h1v1h-1zM150 77h1v1h-1zM151 77h1v1h-1zM195 77h1v1h-1zM196 77h1v1h-1zM198 77h1v1h-1zM199 77h1v1h-1zM204 77h1v1h-1zM206 77h1v1h-1zM141 78h1v1h-1zM142 78h1v1h-1zM143 78h1v1h-1zM145 78h1v1h-1zM147 78h1v1h-1zM150 78h1v1h-1zM196 78h1v1h-1zM197 78h1v1h-1zM198 78h1v1h-1zM204 78h1v1h-1zM205 78h1v1h-1zM210 78h1v1h-1zM142 79h1v1h-1zM143 79h1v1h-1zM144 79h1v1h-1zM145 79h1v1h-1zM146 79h1v1h-1zM147 79h1v1h-1zM148 79h1v1h-1zM149 79h1v1h-1zM150 79h1v1h-1zM197 79h1v1h-1zM199 79h1v1h-1zM200 79h1v1h-1zM201 79h1v1h-1zM205 79h1v1h-1zM145 80h1v1h-1zM146 80h1v1h-1zM148 80h1v1h-1zM149 80h1v1h-1zM150 80h1v1h-1zM196 80h1v1h-1zM197 80h1v1h-1zM198 80h1v1h-1zM199 80h1v1h-1zM200 80h1v1h-1zM201 80h1v1h-1zM202 80h1v1h-1zM203 80h1v1h-1zM208 80h1v1h-1zM146 81h1v1h-1zM147 81h1v1h-1zM148 81h1v1h-1zM149 81h1v1h-1zM150 81h1v1h-1zM196 81h1v1h-1zM197 81h1v1h-1zM198 81h1v1h-1zM199 81h1v1h-1zM200 81h1v1h-1zM201 81h1v1h-1zM202 81h1v1h-1zM141 82h1v1h-1zM145 82h1v1h-1zM147 82h1v1h-1zM148 82h1v1h-1zM149 82h1v1h-1zM150 82h1v1h-1zM196 82h1v1h-1zM197 82h1v1h-1zM198 82h1v1h-1zM199 82h1v1h-1zM141 83h1v1h-1zM145 83h1v1h-1zM146 83h1v1h-1zM147 83h1v1h-1zM148 83h1v1h-1zM196 83h1v1h-1zM199 83h1v1h-1zM201 83h1v1h-1zM202 83h1v1h-1zM204 83h1v1h-1zM141 84h1v1h-1zM144 84h1v1h-1zM145 84h1v1h-1zM146 84h1v1h-1zM147 84h1v1h-1zM148 84h1v1h-1zM149 84h1v1h-1zM198 84h1v1h-1zM200 84h1v1h-1zM203 84h1v1h-1zM142 85h1v1h-1zM145 85h1v1h-1zM146 85h1v1h-1zM148 85h1v1h-1zM149 85h1v1h-1zM150 85h1v1h-1zM196 85h1v1h-1zM197 85h1v1h-1zM198 85h1v1h-1zM199 85h1v1h-1zM200 85h1v1h-1zM201 85h1v1h-1zM203 85h1v1h-1zM143 86h1v1h-1zM147 86h1v1h-1zM148 86h1v1h-1zM149 86h1v1h-1zM150 86h1v1h-1zM196 86h1v1h-1zM197 86h1v1h-1zM198 86h1v1h-1zM200 86h1v1h-1zM201 86h1v1h-1zM202 86h1v1h-1zM138 87h1v1h-1zM145 87h1v1h-1zM146 87h1v1h-1zM147 87h1v1h-1zM197 87h1v1h-1zM198 87h1v1h-1zM200 87h1v1h-1zM201 87h1v1h-1zM203 87h1v1h-1zM142 88h1v1h-1zM144 88h1v1h-1zM145 88h1v1h-1zM147 88h1v1h-1zM148 88h1v1h-1zM149 88h1v1h-1zM150 88h1v1h-1zM196 88h1v1h-1zM197 88h1v1h-1zM198 88h1v1h-1zM200 88h1v1h-1zM201 88h1v1h-1zM143 89h1v1h-1zM145 89h1v1h-1zM146 89h1v1h-1zM147 89h1v1h-1zM148 89h1v1h-1zM196 89h1v1h-1zM197 89h1v1h-1zM198 89h1v1h-1zM199 89h1v1h-1zM200 89h1v1h-1zM202 89h1v1h-1zM205 89h1v1h-1zM144 90h1v1h-1zM145 90h1v1h-1zM146 90h1v1h-1zM147 90h1v1h-1zM148 90h1v1h-1zM149 90h1v1h-1zM150 90h1v1h-1zM196 90h1v1h-1zM197 90h1v1h-1zM198 90h1v1h-1zM202 90h1v1h-1zM204 90h1v1h-1zM148 91h1v1h-1zM149 91h1v1h-1zM150 91h1v1h-1zM151 91h1v1h-1zM197 91h1v1h-1zM198 91h1v1h-1zM199 91h1v1h-1zM201 91h1v1h-1zM204 91h1v1h-1zM205 91h1v1h-1zM143 92h1v1h-1zM144 92h1v1h-1zM147 92h1v1h-1zM148 92h1v1h-1zM149 92h1v1h-1zM150 92h1v1h-1zM196 92h1v1h-1zM198 92h1v1h-1zM199 92h1v1h-1zM139 93h1v1h-1zM144 93h1v1h-1zM148 93h1v1h-1zM150 93h1v1h-1zM151 93h1v1h-1zM195 93h1v1h-1zM196 93h1v1h-1zM197 93h1v1h-1zM198 93h1v1h-1zM200 93h1v1h-1zM202 93h1v1h-1zM142 94h1v1h-1zM143 94h1v1h-1zM146 94h1v1h-1zM148 94h1v1h-1zM149 94h1v1h-1zM151 94h1v1h-1zM195 94h1v1h-1zM197 94h1v1h-1zM198 94h1v1h-1zM201 94h1v1h-1zM202 94h1v1h-1zM143 95h1v1h-1zM145 95h1v1h-1zM147 95h1v1h-1zM148 95h1v1h-1zM149 95h1v1h-1zM151 95h1v1h-1zM195 95h1v1h-1zM196 95h1v1h-1zM197 95h1v1h-1zM203 95h1v1h-1zM140 96h1v1h-1zM144 96h1v1h-1zM147 96h1v1h-1zM148 96h1v1h-1zM149 96h1v1h-1zM151 96h1v1h-1zM152 96h1v1h-1zM194 96h1v1h-1zM195 96h1v1h-1zM196 96h1v1h-1zM197 96h1v1h-1zM202 96h1v1h-1zM141 97h1v1h-1zM146 97h1v1h-1zM147 97h1v1h-1zM148 97h1v1h-1zM149 97h1v1h-1zM150 97h1v1h-1zM194 97h1v1h-1zM196 97h1v1h-1zM197 97h1v1h-1zM199 97h1v1h-1zM201 97h1v1h-1zM147 98h1v1h-1zM148 98h1v1h-1zM149 98h1v1h-1zM150 98h1v1h-1zM152 98h1v1h-1zM194 98h1v1h-1zM196 98h1v1h-1zM198 98h1v1h-1zM200 98h1v1h-1zM142 99h1v1h-1zM144 99h1v1h-1zM148 99h1v1h-1zM150 99h1v1h-1zM151 99h1v1h-1zM152 99h1v1h-1zM153 99h1v1h-1zM193 99h1v1h-1zM194 99h1v1h-1zM196 99h1v1h-1zM197 99h1v1h-1zM198 99h1v1h-1zM200 99h1v1h-1zM201 99h1v1h-1zM202 99h1v1h-1zM144 100h1v1h-1zM148 100h1v1h-1zM149 100h1v1h-1zM150 100h1v1h-1zM151 100h1v1h-1zM152 100h1v1h-1zM153 100h1v1h-1zM193 100h1v1h-1zM194 100h1v1h-1zM196 100h1v1h-1zM197 100h1v1h-1zM198 100h1v1h-1zM202 100h1v1h-1zM143 101h1v1h-1zM146 101h1v1h-1zM148 101h1v1h-1zM150 101h1v1h-1zM151 101h1v1h-1zM152 101h1v1h-1zM153 101h1v1h-1zM193 101h1v1h-1zM194 101h1v1h-1zM195 101h1v1h-1zM196 101h1v1h-1zM199 101h1v1h-1zM203 101h1v1h-1zM148 102h1v1h-1zM150 102h1v1h-1zM152 102h1v1h-1zM153 102h1v1h-1zM154 102h1v1h-1zM194 102h1v1h-1zM195 102h1v1h-1zM196 102h1v1h-1zM201 102h1v1h-1zM148 103h1v1h-1zM150 103h1v1h-1zM152 103h1v1h-1zM154 103h1v1h-1zM192 103h1v1h-1zM194 103h1v1h-1zM195 103h1v1h-1zM196 103h1v1h-1zM200 103h1v1h-1zM149 104h1v1h-1zM150 104h1v1h-1zM151 104h1v1h-1zM152 104h1v1h-1zM153 104h1v1h-1zM154 104h1v1h-1zM155 104h1v1h-1zM192 104h1v1h-1zM194 104h1v1h-1zM195 104h1v1h-1zM196 104h1v1h-1zM197 104h1v1h-1zM199 104h1v1h-1zM142 105h1v1h-1zM146 105h1v1h-1zM149 105h1v1h-1zM151 105h1v1h-1zM152 105h1v1h-1zM153 105h1v1h-1zM154 105h1v1h-1zM155 105h1v1h-1zM191 105h1v1h-1zM192 105h1v1h-1zM193 105h1v1h-1zM194 105h1v1h-1zM197 105h1v1h-1zM148 106h1v1h-1zM149 106h1v1h-1zM153 106h1v1h-1zM154 106h1v1h-1zM155 106h1v1h-1zM156 106h1v1h-1zM190 106h1v1h-1zM191 106h1v1h-1zM192 106h1v1h-1zM197 106h1v1h-1zM144 107h1v1h-1zM147 107h1v1h-1zM153 107h1v1h-1zM154 107h1v1h-1zM155 107h1v1h-1zM156 107h1v1h-1zM190 107h1v1h-1zM191 107h1v1h-1zM192 107h1v1h-1zM193 107h1v1h-1zM194 107h1v1h-1zM195 107h1v1h-1zM196 107h1v1h-1zM197 107h1v1h-1zM198 107h1v1h-1zM200 107h1v1h-1zM144 108h1v1h-1zM149 108h1v1h-1zM152 108h1v1h-1zM153 108h1v1h-1zM154 108h1v1h-1zM155 108h1v1h-1zM156 108h1v1h-1zM157 108h1v1h-1zM190 108h1v1h-1zM192 108h1v1h-1zM193 108h1v1h-1zM195 108h1v1h-1zM149 109h1v1h-1zM151 109h1v1h-1zM152 109h1v1h-1zM153 109h1v1h-1zM154 109h1v1h-1zM156 109h1v1h-1zM158 109h1v1h-1zM188 109h1v1h-1zM189 109h1v1h-1zM190 109h1v1h-1zM192 109h1v1h-1zM193 109h1v1h-1zM194 109h1v1h-1zM196 109h1v1h-1zM148 110h1v1h-1zM151 110h1v1h-1zM152 110h1v1h-1zM156 110h1v1h-1zM157 110h1v1h-1zM188 110h1v1h-1zM190 110h1v1h-1zM191 110h1v1h-1zM192 110h1v1h-1zM193 110h1v1h-1zM194 110h1v1h-1zM198 110h1v1h-1zM147 111h1v1h-1zM149 111h1v1h-1zM151 111h1v1h-1zM153 111h1v1h-1zM155 111h1v1h-1zM156 111h1v1h-1zM157 111h1v1h-1zM158 111h1v1h-1zM159 111h1v1h-1zM187 111h1v1h-1zM188 111h1v1h-1zM189 111h1v1h-1zM190 111h1v1h-1zM193 111h1v1h-1zM195 111h1v1h-1zM152 112h1v1h-1zM154 112h1v1h-1zM155 112h1v1h-1zM156 112h1v1h-1zM158 112h1v1h-1zM159 112h1v1h-1zM160 112h1v1h-1zM186 112h1v1h-1zM187 112h1v1h-1zM188 112h1v1h-1zM190 112h1v1h-1zM191 112h1v1h-1zM192 112h1v1h-1zM193 112h1v1h-1zM194 112h1v1h-1zM198 112h1v1h-1zM144 113h1v1h-1zM150 113h1v1h-1zM153 113h1v1h-1zM154 113h1v1h-1zM155 113h1v1h-1zM158 113h1v1h-1zM159 113h1v1h-1zM161 113h1v1h-1zM162 113h1v1h-1zM184 113h1v1h-1zM185 113h1v1h-1zM186 113h1v1h-1zM188 113h1v1h-1zM189 113h1v1h-1zM191 113h1v1h-1zM192 113h1v1h-1zM193 113h1v1h-1zM196 113h1v1h-1zM148 114h1v1h-1zM150 114h1v1h-1zM154 114h1v1h-1zM155 114h1v1h-1zM156 114h1v1h-1zM157 114h1v1h-1zM160 114h1v1h-1zM161 114h1v1h-1zM162 114h1v1h-1zM163 114h1v1h-1zM183 114h1v1h-1zM184 114h1v1h-1zM185 114h1v1h-1zM186 114h1v1h-1zM188 114h1v1h-1zM198 114h1v1h-1zM155 115h1v1h-1zM158 115h1v1h-1zM159 115h1v1h-1zM160 115h1v1h-1zM161 115h1v1h-1zM162 115h1v1h-1zM163 115h1v1h-1zM164 115h1v1h-1zM165 115h1v1h-1zM166 115h1v1h-1zM180 115h1v1h-1zM181 115h1v1h-1zM182 115h1v1h-1zM184 115h1v1h-1zM185 115h1v1h-1zM187 115h1v1h-1zM189 115h1v1h-1zM190 115h1v1h-1zM195 115h1v1h-1zM196 115h1v1h-1zM197 115h1v1h-1zM155 116h1v1h-1zM159 116h1v1h-1zM160 116h1v1h-1zM163 116h1v1h-1zM164 116h1v1h-1zM167 116h1v1h-1zM168 116h1v1h-1zM170 116h1v1h-1zM171 116h1v1h-1zM172 116h1v1h-1zM173 116h1v1h-1zM175 116h1v1h-1zM177 116h1v1h-1zM178 116h1v1h-1zM179 116h1v1h-1zM180 116h1v1h-1zM181 116h1v1h-1zM183 116h1v1h-1zM185 116h1v1h-1zM186 116h1v1h-1zM192 116h1v1h-1zM199 116h1v1h-1zM153 117h1v1h-1zM154 117h1v1h-1zM157 117h1v1h-1zM159 117h1v1h-1zM160 117h1v1h-1zM163 117h1v1h-1zM165 117h1v1h-1zM166 117h1v1h-1zM168 117h1v1h-1zM170 117h1v1h-1zM171 117h1v1h-1zM172 117h1v1h-1zM174 117h1v1h-1zM176 117h1v1h-1zM179 117h1v1h-1zM180 117h1v1h-1zM181 117h1v1h-1zM182 117h1v1h-1zM183 117h1v1h-1zM184 117h1v1h-1zM186 117h1v1h-1zM187 117h1v1h-1zM189 117h1v1h-1zM191 117h1v1h-1zM192 117h1v1h-1zM197 117h1v1h-1zM150 118h1v1h-1zM151 118h1v1h-1zM154 118h1v1h-1zM156 118h1v1h-1zM157 118h1v1h-1zM160 118h1v1h-1zM163 118h1v1h-1zM164 118h1v1h-1zM165 118h1v1h-1zM166 118h1v1h-1zM167 118h1v1h-1zM169 118h1v1h-1zM170 118h1v1h-1zM171 118h1v1h-1zM172 118h1v1h-1zM173 118h1v1h-1zM175 118h1v1h-1zM176 118h1v1h-1zM177 118h1v1h-1zM178 118h1v1h-1zM179 118h1v1h-1zM180 118h1v1h-1zM181 118h1v1h-1zM182 118h1v1h-1zM184 118h1v1h-1zM186 118h1v1h-1zM187 118h1v1h-1zM188 118h1v1h-1zM189 118h1v1h-1zM193 118h1v1h-1zM153 119h1v1h-1zM154 119h1v1h-1zM156 119h1v1h-1zM159 119h1v1h-1zM160 119h1v1h-1zM163 119h1v1h-1zM164 119h1v1h-1zM165 119h1v1h-1zM167 119h1v1h-1zM168 119h1v1h-1zM169 119h1v1h-1zM170 119h1v1h-1zM171 119h1v1h-1zM173 119h1v1h-1zM174 119h1v1h-1zM177 119h1v1h-1zM179 119h1v1h-1zM180 119h1v1h-1zM181 119h1v1h-1zM182 119h1v1h-1zM183 119h1v1h-1zM196 119h1v1h-1zM197 119h1v1h-1zM160 120h1v1h-1zM163 120h1v1h-1zM164 120h1v1h-1zM165 120h1v1h-1zM166 120h1v1h-1zM168 120h1v1h-1zM169 120h1v1h-1zM170 120h1v1h-1zM171 120h1v1h-1zM173 120h1v1h-1zM174 120h1v1h-1zM175 120h1v1h-1zM176 120h1v1h-1zM177 120h1v1h-1zM178 120h1v1h-1zM179 120h1v1h-1zM181 120h1v1h-1zM182 120h1v1h-1zM186 120h1v1h-1zM187 120h1v1h-1zM191 120h1v1h-1zM196 120h1v1h-1zM150 121h1v1h-1zM157 121h1v1h-1zM159 121h1v1h-1zM162 121h1v1h-1zM164 121h1v1h-1zM169 121h1v1h-1zM170 121h1v1h-1zM171 121h1v1h-1zM172 121h1v1h-1zM173 121h1v1h-1zM176 121h1v1h-1zM180 121h1v1h-1zM181 121h1v1h-1zM184 121h1v1h-1zM197 121h1v1h-1zM159 122h1v1h-1zM160 122h1v1h-1zM162 122h1v1h-1zM166 122h1v1h-1zM172 122h1v1h-1zM173 122h1v1h-1zM174 122h1v1h-1zM176 122h1v1h-1zM177 122h1v1h-1zM178 122h1v1h-1zM180 122h1v1h-1zM156 123h1v1h-1zM159 123h1v1h-1zM160 123h1v1h-1zM162 123h1v1h-1zM165 123h1v1h-1zM170 123h1v1h-1zM173 123h1v1h-1zM180 123h1v1h-1zM182 123h1v1h-1zM160 124h1v1h-1zM161 124h1v1h-1zM165 124h1v1h-1zM169 124h1v1h-1zM170 124h1v1h-1zM172 124h1v1h-1zM173 124h1v1h-1zM177 124h1v1h-1zM178 124h1v1h-1zM179 124h1v1h-1zM186 124h1v1h-1zM188 124h1v1h-1zM190 124h1v1h-1zM191 124h1v1h-1zM149 125h1v1h-1zM157 125h1v1h-1zM162 125h1v1h-1zM163 125h1v1h-1zM165 125h1v1h-1zM166 125h1v1h-1zM167 125h1v1h-1zM168 125h1v1h-1zM170 125h1v1h-1zM171 125h1v1h-1zM172 125h1v1h-1zM173 125h1v1h-1zM174 125h1v1h-1zM177 125h1v1h-1zM179 125h1v1h-1zM180 125h1v1h-1zM181 125h1v1h-1zM184 125h1v1h-1zM185 125h1v1h-1zM188 125h1v1h-1zM156 126h1v1h-1zM159 126h1v1h-1zM160 126h1v1h-1zM163 126h1v1h-1zM169 126h1v1h-1zM171 126h1v1h-1zM176 126h1v1h-1zM184 126h1v1h-1zM164 127h1v1h-1zM165 127h1v1h-1zM169 127h1v1h-1zM172 127h1v1h-1zM177 127h1v1h-1zM178 127h1v1h-1zM186 127h1v1h-1zM169 128h1v1h-1zM170 128h1v1h-1zM181 128h1v1h-1zM154 129h1v1h-1zM183 129h1v1h-1zM161 130h1v1h-1zM178 130h1v1h-1zM160 131h1v1h-1zM178 131h1v1h-1zM159 132h1v1h-1zM159 134h1v1h-1z" fill="#1f61aa"/><path d="M165 53h1v1h-1zM173 53h1v1h-1zM181 53h1v1h-1zM173 54h1v1h-1zM182 54h1v1h-1zM158 55h1v1h-1zM187 55h1v1h-1zM160 56h1v1h-1zM162 56h1v1h-1zM163 56h1v1h-1zM175 56h1v1h-1zM185 56h1v1h-1zM169 57h1v1h-1zM174 57h1v1h-1zM178 57h1v1h-1zM186 57h1v1h-1zM160 58h1v1h-1zM170 58h1v1h-1zM190 58h1v1h-1zM155 59h1v1h-1zM162 59h1v1h-1zM172 59h1v1h-1zM175 59h1v1h-1zM159 60h1v1h-1zM160 60h1v1h-1zM173 60h1v1h-1zM183 60h1v1h-1zM185 60h1v1h-1zM188 60h1v1h-1zM193 60h1v1h-1zM164 61h1v1h-1zM177 61h1v1h-1zM189 61h1v1h-1zM194 61h1v1h-1zM156 62h1v1h-1zM167 62h1v1h-1zM170 62h1v1h-1zM174 62h1v1h-1zM178 62h1v1h-1zM182 62h1v1h-1zM188 62h1v1h-1zM191 62h1v1h-1zM192 62h1v1h-1zM152 63h1v1h-1zM155 63h1v1h-1zM160 63h1v1h-1zM161 63h1v1h-1zM168 63h1v1h-1zM171 63h1v1h-1zM172 63h1v1h-1zM178 63h1v1h-1zM161 64h1v1h-1zM164 64h1v1h-1zM168 64h1v1h-1zM170 64h1v1h-1zM172 64h1v1h-1zM177 64h1v1h-1zM178 64h1v1h-1zM179 64h1v1h-1zM151 65h1v1h-1zM152 65h1v1h-1zM168 65h1v1h-1zM175 65h1v1h-1zM184 65h1v1h-1zM155 66h1v1h-1zM169 66h1v1h-1zM196 66h1v1h-1zM155 67h1v1h-1zM160 67h1v1h-1zM164 67h1v1h-1zM173 67h1v1h-1zM174 67h1v1h-1zM180 67h1v1h-1zM192 67h1v1h-1zM193 67h1v1h-1zM150 68h1v1h-1zM155 68h1v1h-1zM169 68h1v1h-1zM170 68h1v1h-1zM197 68h1v1h-1zM198 68h1v1h-1zM165 69h1v1h-1zM167 69h1v1h-1zM173 69h1v1h-1zM179 69h1v1h-1zM180 69h1v1h-1zM192 69h1v1h-1zM196 69h1v1h-1zM154 70h1v1h-1zM158 70h1v1h-1zM168 70h1v1h-1zM171 70h1v1h-1zM173 70h1v1h-1zM185 70h1v1h-1zM192 70h1v1h-1zM147 71h1v1h-1zM154 71h1v1h-1zM168 71h1v1h-1zM185 71h1v1h-1zM190 71h1v1h-1zM155 72h1v1h-1zM163 72h1v1h-1zM168 72h1v1h-1zM177 72h1v1h-1zM180 72h1v1h-1zM190 72h1v1h-1zM194 72h1v1h-1zM198 72h1v1h-1zM157 73h1v1h-1zM158 73h1v1h-1zM163 73h1v1h-1zM174 73h1v1h-1zM184 73h1v1h-1zM185 73h1v1h-1zM187 73h1v1h-1zM191 73h1v1h-1zM194 73h1v1h-1zM151 74h1v1h-1zM157 74h1v1h-1zM158 74h1v1h-1zM167 74h1v1h-1zM181 74h1v1h-1zM186 74h1v1h-1zM187 74h1v1h-1zM195 74h1v1h-1zM196 74h1v1h-1zM160 75h1v1h-1zM162 75h1v1h-1zM174 75h1v1h-1zM179 75h1v1h-1zM185 75h1v1h-1zM192 75h1v1h-1zM197 75h1v1h-1zM148 76h1v1h-1zM154 76h1v1h-1zM159 76h1v1h-1zM165 76h1v1h-1zM166 76h1v1h-1zM174 76h1v1h-1zM184 76h1v1h-1zM190 76h1v1h-1zM193 76h1v1h-1zM195 76h1v1h-1zM199 76h1v1h-1zM182 77h1v1h-1zM186 77h1v1h-1zM188 77h1v1h-1zM192 77h1v1h-1zM153 78h1v1h-1zM155 78h1v1h-1zM164 78h1v1h-1zM184 78h1v1h-1zM190 78h1v1h-1zM159 79h1v1h-1zM166 79h1v1h-1zM168 79h1v1h-1zM181 79h1v1h-1zM182 79h1v1h-1zM186 79h1v1h-1zM188 79h1v1h-1zM154 80h1v1h-1zM155 80h1v1h-1zM160 80h1v1h-1zM164 80h1v1h-1zM168 80h1v1h-1zM178 80h1v1h-1zM194 80h1v1h-1zM198 80h1v1h-1zM153 81h1v1h-1zM165 81h1v1h-1zM171 81h1v1h-1zM193 81h1v1h-1zM195 81h1v1h-1zM198 81h1v1h-1zM200 81h1v1h-1zM158 82h1v1h-1zM165 82h1v1h-1zM174 82h1v1h-1zM175 82h1v1h-1zM198 82h1v1h-1zM199 82h1v1h-1zM154 83h1v1h-1zM157 83h1v1h-1zM160 83h1v1h-1zM162 83h1v1h-1zM166 83h1v1h-1zM174 83h1v1h-1zM183 83h1v1h-1zM184 83h1v1h-1zM152 84h1v1h-1zM159 84h1v1h-1zM161 84h1v1h-1zM176 84h1v1h-1zM187 84h1v1h-1zM196 84h1v1h-1zM157 85h1v1h-1zM158 85h1v1h-1zM159 85h1v1h-1zM160 85h1v1h-1zM162 85h1v1h-1zM169 85h1v1h-1zM174 85h1v1h-1zM178 85h1v1h-1zM192 85h1v1h-1zM193 85h1v1h-1zM198 85h1v1h-1zM148 86h1v1h-1zM153 86h1v1h-1zM175 86h1v1h-1zM188 86h1v1h-1zM192 86h1v1h-1zM200 86h1v1h-1zM147 87h1v1h-1zM150 87h1v1h-1zM155 87h1v1h-1zM175 87h1v1h-1zM178 87h1v1h-1zM181 87h1v1h-1zM192 87h1v1h-1zM159 88h1v1h-1zM164 88h1v1h-1zM185 88h1v1h-1zM190 88h1v1h-1zM148 89h1v1h-1zM151 89h1v1h-1zM173 89h1v1h-1zM174 89h1v1h-1zM179 89h1v1h-1zM194 89h1v1h-1zM195 89h1v1h-1zM198 89h1v1h-1zM149 90h1v1h-1zM151 90h1v1h-1zM152 90h1v1h-1zM162 90h1v1h-1zM165 90h1v1h-1zM173 90h1v1h-1zM174 90h1v1h-1zM176 90h1v1h-1zM150 91h1v1h-1zM160 91h1v1h-1zM162 91h1v1h-1zM173 91h1v1h-1zM187 91h1v1h-1zM194 91h1v1h-1zM151 92h1v1h-1zM164 92h1v1h-1zM166 92h1v1h-1zM170 92h1v1h-1zM187 92h1v1h-1zM190 92h1v1h-1zM194 92h1v1h-1zM147 93h1v1h-1zM150 93h1v1h-1zM154 93h1v1h-1zM158 93h1v1h-1zM165 93h1v1h-1zM168 93h1v1h-1zM169 93h1v1h-1zM170 93h1v1h-1zM185 93h1v1h-1zM188 93h1v1h-1zM192 93h1v1h-1zM194 93h1v1h-1zM195 93h1v1h-1zM148 94h1v1h-1zM168 94h1v1h-1zM175 94h1v1h-1zM182 94h1v1h-1zM185 94h1v1h-1zM163 95h1v1h-1zM169 95h1v1h-1zM178 95h1v1h-1zM179 95h1v1h-1zM180 95h1v1h-1zM189 95h1v1h-1zM193 95h1v1h-1zM155 96h1v1h-1zM185 96h1v1h-1zM186 96h1v1h-1zM188 96h1v1h-1zM192 96h1v1h-1zM148 97h1v1h-1zM165 97h1v1h-1zM168 97h1v1h-1zM171 97h1v1h-1zM176 97h1v1h-1zM186 97h1v1h-1zM188 97h1v1h-1zM192 97h1v1h-1zM195 97h1v1h-1zM156 98h1v1h-1zM163 98h1v1h-1zM165 98h1v1h-1zM166 98h1v1h-1zM175 98h1v1h-1zM183 98h1v1h-1zM186 98h1v1h-1zM192 98h1v1h-1zM197 98h1v1h-1zM151 99h1v1h-1zM152 99h1v1h-1zM153 99h1v1h-1zM156 99h1v1h-1zM181 99h1v1h-1zM187 99h1v1h-1zM188 99h1v1h-1zM195 99h1v1h-1zM152 100h1v1h-1zM159 100h1v1h-1zM173 100h1v1h-1zM192 100h1v1h-1zM149 101h1v1h-1zM155 101h1v1h-1zM158 101h1v1h-1zM161 101h1v1h-1zM173 101h1v1h-1zM177 101h1v1h-1zM178 101h1v1h-1zM184 101h1v1h-1zM192 101h1v1h-1zM195 101h1v1h-1zM176 102h1v1h-1zM178 102h1v1h-1zM151 103h1v1h-1zM154 103h1v1h-1zM159 103h1v1h-1zM160 103h1v1h-1zM161 103h1v1h-1zM191 103h1v1h-1zM155 104h1v1h-1zM166 104h1v1h-1zM176 104h1v1h-1zM186 104h1v1h-1zM188 104h1v1h-1zM191 104h1v1h-1zM153 105h1v1h-1zM154 105h1v1h-1zM169 105h1v1h-1zM174 105h1v1h-1zM179 105h1v1h-1zM185 105h1v1h-1zM187 105h1v1h-1zM188 105h1v1h-1zM151 106h1v1h-1zM163 106h1v1h-1zM164 106h1v1h-1zM170 106h1v1h-1zM174 106h1v1h-1zM189 106h1v1h-1zM175 107h1v1h-1zM178 107h1v1h-1zM179 107h1v1h-1zM186 107h1v1h-1zM187 107h1v1h-1zM154 108h1v1h-1zM159 108h1v1h-1zM170 108h1v1h-1zM175 108h1v1h-1zM176 108h1v1h-1zM178 108h1v1h-1zM186 108h1v1h-1zM188 108h1v1h-1zM192 108h1v1h-1zM194 108h1v1h-1zM153 109h1v1h-1zM155 109h1v1h-1zM158 109h1v1h-1zM161 109h1v1h-1zM164 109h1v1h-1zM180 109h1v1h-1zM186 109h1v1h-1zM193 109h1v1h-1zM154 110h1v1h-1zM155 110h1v1h-1zM157 110h1v1h-1zM165 110h1v1h-1zM171 110h1v1h-1zM180 110h1v1h-1zM185 110h1v1h-1zM187 110h1v1h-1zM191 110h1v1h-1zM157 111h1v1h-1zM168 111h1v1h-1zM181 111h1v1h-1zM170 112h1v1h-1zM173 112h1v1h-1zM184 112h1v1h-1zM155 113h1v1h-1zM187 113h1v1h-1zM165 114h1v1h-1zM169 114h1v1h-1zM171 114h1v1h-1zM183 114h1v1h-1zM190 114h1v1h-1zM157 115h1v1h-1zM163 115h1v1h-1zM164 115h1v1h-1zM171 115h1v1h-1zM173 115h1v1h-1zM182 115h1v1h-1zM187 115h1v1h-1zM177 116h1v1h-1zM168 117h1v1h-1zM170 117h1v1h-1zM176 117h1v1h-1zM177 117h1v1h-1zM183 117h1v1h-1zM164 118h1v1h-1zM178 118h1v1h-1zM174 119h1v1h-1zM177 119h1v1h-1zM178 119h1v1h-1zM183 119h1v1h-1zM168 120h1v1h-1zM172 120h1v1h-1zM179 120h1v1h-1zM166 121h1v1h-1zM169 121h1v1h-1zM180 121h1v1h-1z" fill="#74a6dc" fill-opacity="0.8"/><path d="M177 112h1v1h-1zM182 112h1v1h-1zM186 112h1v1h-1zM174 113h1v1h-1zM182 113h1v1h-1zM191 113h1v1h-1zM197 113h1v1h-1zM170 114h1v1h-1zM178 114h1v1h-1zM182 114h1v1h-1zM193 114h1v1h-1zM198 114h1v1h-1zM202 114h1v1h-1zM204 114h1v1h-1zM161 115h1v1h-1zM168 115h1v1h-1zM182 115h1v1h-1zM189 115h1v1h-1zM201 115h1v1h-1zM202 115h1v1h-1zM204 115h1v1h-1zM173 116h1v1h-1zM176 116h1v1h-1zM181 116h1v1h-1zM182 116h1v1h-1zM185 116h1v1h-1zM187 116h1v1h-1zM189 116h1v1h-1zM192 116h1v1h-1zM194 116h1v1h-1zM199 116h1v1h-1zM203 116h1v1h-1zM207 116h1v1h-1zM208 116h1v1h-1zM211 116h1v1h-1zM156 117h1v1h-1zM172 117h1v1h-1zM174 117h1v1h-1zM177 117h1v1h-1zM179 117h1v1h-1zM189 117h1v1h-1zM191 117h1v1h-1zM196 117h1v1h-1zM200 117h1v1h-1zM160 118h1v1h-1zM162 118h1v1h-1zM185 118h1v1h-1zM189 118h1v1h-1zM191 118h1v1h-1zM192 118h1v1h-1zM194 118h1v1h-1zM199 118h1v1h-1zM201 118h1v1h-1zM202 118h1v1h-1zM206 118h1v1h-1zM207 118h1v1h-1zM211 118h1v1h-1zM174 119h1v1h-1zM177 119h1v1h-1zM181 119h1v1h-1zM184 119h1v1h-1zM190 119h1v1h-1zM193 119h1v1h-1zM197 119h1v1h-1zM198 119h1v1h-1zM203 119h1v1h-1zM204 119h1v1h-1zM210 119h1v1h-1zM150 120h1v1h-1zM162 120h1v1h-1zM178 120h1v1h-1zM184 120h1v1h-1zM186 120h1v1h-1zM194 120h1v1h-1zM196 120h1v1h-1zM199 120h1v1h-1zM202 120h1v1h-1zM204 120h1v1h-1zM206 120h1v1h-1zM208 120h1v1h-1zM154 121h1v1h-1zM159 121h1v1h-1zM169 121h1v1h-1zM171 121h1v1h-1zM174 121h1v1h-1zM176 121h1v1h-1zM177 121h1v1h-1zM178 121h1v1h-1zM179 121h1v1h-1zM180 121h1v1h-1zM181 121h1v1h-1zM182 121h1v1h-1zM183 121h1v1h-1zM185 121h1v1h-1zM186 121h1v1h-1zM188 121h1v1h-1zM191 121h1v1h-1zM195 121h1v1h-1zM197 121h1v1h-1zM198 121h1v1h-1zM201 121h1v1h-1zM208 121h1v1h-1zM209 121h1v1h-1zM155 122h1v1h-1zM159 122h1v1h-1zM162 122h1v1h-1zM165 122h1v1h-1zM166 122h1v1h-1zM170 122h1v1h-1zM171 122h1v1h-1zM172 122h1v1h-1zM173 122h1v1h-1zM175 122h1v1h-1zM179 122h1v1h-1zM185 122h1v1h-1zM188 122h1v1h-1zM192 122h1v1h-1zM193 122h1v1h-1zM194 122h1v1h-1zM195 122h1v1h-1zM196 122h1v1h-1zM204 122h1v1h-1zM205 122h1v1h-1zM209 122h1v1h-1zM127 123h1v1h-1zM164 123h1v1h-1zM167 123h1v1h-1zM171 123h1v1h-1zM172 123h1v1h-1zM174 123h1v1h-1zM175 123h1v1h-1zM178 123h1v1h-1zM183 123h1v1h-1zM184 123h1v1h-1zM185 123h1v1h-1zM186 123h1v1h-1zM189 123h1v1h-1zM192 123h1v1h-1zM194 123h1v1h-1zM196 123h1v1h-1zM197 123h1v1h-1zM198 123h1v1h-1zM200 123h1v1h-1zM201 123h1v1h-1zM205 123h1v1h-1zM207 123h1v1h-1zM157 124h1v1h-1zM162 124h1v1h-1zM169 124h1v1h-1zM170 124h1v1h-1zM176 124h1v1h-1zM177 124h1v1h-1zM178 124h1v1h-1zM179 124h1v1h-1zM182 124h1v1h-1zM184 124h1v1h-1zM185 124h1v1h-1zM186 124h1v1h-1zM188 124h1v1h-1zM202 124h1v1h-1zM203 124h1v1h-1zM204 124h1v1h-1zM205 124h1v1h-1zM207 124h1v1h-1zM208 124h1v1h-1zM209 124h1v1h-1zM161 125h1v1h-1zM162 125h1v1h-1zM166 125h1v1h-1zM167 125h1v1h-1zM171 125h1v1h-1zM172 125h1v1h-1zM173 125h1v1h-1zM174 125h1v1h-1zM175 125h1v1h-1zM176 125h1v1h-1zM177 125h1v1h-1zM178 125h1v1h-1zM179 125h1v1h-1zM181 125h1v1h-1zM182 125h1v1h-1zM183 125h1v1h-1zM185 125h1v1h-1zM187 125h1v1h-1zM188 125h1v1h-1zM190 125h1v1h-1zM192 125h1v1h-1zM194 125h1v1h-1zM198 125h1v1h-1zM200 125h1v1h-1zM152 126h1v1h-1zM159 126h1v1h-1zM167 126h1v1h-1zM168 126h1v1h-1zM169 126h1v1h-1zM170 126h1v1h-1zM172 126h1v1h-1zM174 126h1v1h-1zM176 126h1v1h-1zM180 126h1v1h-1zM181 126h1v1h-1zM183 126h1v1h-1zM184 126h1v1h-1zM185 126h1v1h-1zM187 126h1v1h-1zM188 126h1v1h-1zM189 126h1v1h-1zM190 126h1v1h-1zM191 126h1v1h-1zM192 126h1v1h-1zM194 126h1v1h-1zM196 126h1v1h-1zM197 126h1v1h-1zM198 126h1v1h-1zM199 126h1v1h-1zM200 126h1v1h-1zM201 126h1v1h-1zM205 126h1v1h-1zM208 126h1v1h-1zM151 127h1v1h-1zM159 127h1v1h-1zM163 127h1v1h-1zM164 127h1v1h-1zM165 127h1v1h-1zM167 127h1v1h-1zM168 127h1v1h-1zM171 127h1v1h-1zM173 127h1v1h-1zM175 127h1v1h-1zM178 127h1v1h-1zM179 127h1v1h-1zM180 127h1v1h-1zM181 127h1v1h-1zM182 127h1v1h-1zM183 127h1v1h-1zM184 127h1v1h-1zM185 127h1v1h-1zM186 127h1v1h-1zM187 127h1v1h-1zM191 127h1v1h-1zM194 127h1v1h-1zM196 127h1v1h-1zM197 127h1v1h-1zM198 127h1v1h-1zM201 127h1v1h-1zM202 127h1v1h-1zM203 127h1v1h-1zM206 127h1v1h-1zM210 127h1v1h-1zM211 127h1v1h-1zM132 128h1v1h-1zM150 128h1v1h-1zM155 128h1v1h-1zM158 128h1v1h-1zM163 128h1v1h-1zM165 128h1v1h-1zM168 128h1v1h-1zM169 128h1v1h-1zM170 128h1v1h-1zM172 128h1v1h-1zM173 128h1v1h-1zM177 128h1v1h-1zM178 128h1v1h-1zM180 128h1v1h-1zM181 128h1v1h-1zM182 128h1v1h-1zM183 128h1v1h-1zM184 128h1v1h-1zM187 128h1v1h-1zM188 128h1v1h-1zM189 128h1v1h-1zM190 128h1v1h-1zM192 128h1v1h-1zM193 128h1v1h-1zM195 128h1v1h-1zM196 128h1v1h-1zM197 128h1v1h-1zM212 128h1v1h-1zM147 129h1v1h-1zM148 129h1v1h-1zM149 129h1v1h-1zM151 129h1v1h-1zM152 129h1v1h-1zM153 129h1v1h-1zM154 129h1v1h-1zM161 129h1v1h-1zM164 129h1v1h-1zM165 129h1v1h-1zM166 129h1v1h-1zM168 129h1v1h-1zM169 129h1v1h-1zM170 129h1v1h-1zM171 129h1v1h-1zM172 129h1v1h-1zM173 129h1v1h-1zM174 129h1v1h-1zM175 129h1v1h-1zM176 129h1v1h-1zM177 129h1v1h-1zM178 129h1v1h-1zM179 129h1v1h-1zM180 129h1v1h-1zM181 129h1v1h-1zM183 129h1v1h-1zM184 129h1v1h-1zM185 129h1v1h-1zM187 129h1v1h-1zM191 129h1v1h-1zM197 129h1v1h-1zM198 129h1v1h-1zM201 129h1v1h-1zM202 129h1v1h-1zM204 129h1v1h-1zM205 129h1v1h-1zM144 130h1v1h-1zM150 130h1v1h-1zM156 130h1v1h-1zM157 130h1v1h-1zM158 130h1v1h-1zM162 130h1v1h-1zM163 130h1v1h-1zM164 130h1v1h-1zM165 130h1v1h-1zM166 130h1v1h-1zM173 130h1v1h-1zM175 130h1v1h-1zM176 130h1v1h-1zM177 130h1v1h-1zM178 130h1v1h-1zM179 130h1v1h-1zM180 130h1v1h-1zM181 130h1v1h-1zM182 130h1v1h-1zM183 130h1v1h-1zM184 130h1v1h-1zM186 130h1v1h-1zM187 130h1v1h-1zM188 130h1v1h-1zM190 130h1v1h-1zM191 130h1v1h-1zM192 130h1v1h-1zM193 130h1v1h-1zM194 130h1v1h-1zM195 130h1v1h-1zM197 130h1v1h-1zM199 130h1v1h-1zM200 130h1v1h-1zM201 130h1v1h-1zM205 130h1v1h-1zM210 130h1v1h-1zM120 131h1v1h-1zM127 131h1v1h-1zM130 131h1v1h-1zM147 131h1v1h-1zM151 131h1v1h-1zM152 131h1v1h-1zM155 131h1v1h-1zM156 131h1v1h-1zM157 131h1v1h-1zM160 131h1v1h-1zM161 131h1v1h-1zM162 131h1v1h-1zM163 131h1v1h-1zM164 131h1v1h-1zM165 131h1v1h-1zM166 131h1v1h-1zM170 131h1v1h-1zM171 131h1v1h-1zM172 131h1v1h-1zM173 131h1v1h-1zM174 131h1v1h-1zM175 131h1v1h-1zM176 131h1v1h-1zM177 131h1v1h-1zM178 131h1v1h-1zM180 131h1v1h-1zM181 131h1v1h-1zM182 131h1v1h-1zM183 131h1v1h-1zM184 131h1v1h-1zM185 131h1v1h-1zM186 131h1v1h-1zM188 131h1v1h-1zM189 131h1v1h-1zM191 131h1v1h-1zM192 131h1v1h-1zM193 131h1v1h-1zM195 131h1v1h-1zM196 131h1v1h-1zM198 131h1v1h-1zM201 131h1v1h-1zM206 131h1v1h-1zM207 131h1v1h-1zM210 131h1v1h-1zM134 132h1v1h-1zM136 132h1v1h-1zM138 132h1v1h-1zM141 132h1v1h-1zM144 132h1v1h-1zM146 132h1v1h-1zM147 132h1v1h-1zM148 132h1v1h-1zM150 132h1v1h-1zM154 132h1v1h-1zM155 132h1v1h-1zM156 132h1v1h-1zM163 132h1v1h-1zM164 132h1v1h-1zM165 132h1v1h-1zM166 132h1v1h-1zM169 132h1v1h-1zM170 132h1v1h-1zM171 132h1v1h-1zM172 132h1v1h-1zM173 132h1v1h-1zM174 132h1v1h-1zM175 132h1v1h-1zM176 132h1v1h-1zM177 132h1v1h-1zM178 132h1v1h-1zM179 132h1v1h-1zM180 132h1v1h-1zM181 132h1v1h-1zM182 132h1v1h-1zM183 132h1v1h-1zM184 132h1v1h-1zM185 132h1v1h-1zM186 132h1v1h-1zM187 132h1v1h-1zM188 132h1v1h-1zM189 132h1v1h-1zM191 132h1v1h-1zM194 132h1v1h-1zM197 132h1v1h-1zM199 132h1v1h-1zM201 132h1v1h-1zM205 132h1v1h-1zM206 132h1v1h-1zM209 132h1v1h-1zM212 132h1v1h-1zM142 133h1v1h-1zM147 133h1v1h-1zM148 133h1v1h-1zM149 133h1v1h-1zM155 133h1v1h-1zM158 133h1v1h-1zM159 133h1v1h-1zM161 133h1v1h-1zM164 133h1v1h-1zM166 133h1v1h-1zM167 133h1v1h-1zM168 133h1v1h-1zM169 133h1v1h-1zM170 133h1v1h-1zM171 133h1v1h-1zM172 133h1v1h-1zM173 133h1v1h-1zM174 133h1v1h-1zM175 133h1v1h-1zM176 133h1v1h-1zM177 133h1v1h-1zM178 133h1v1h-1zM179 133h1v1h-1zM180 133h1v1h-1zM181 133h1v1h-1zM182 133h1v1h-1zM183 133h1v1h-1zM185 133h1v1h-1zM187 133h1v1h-1zM188 133h1v1h-1zM189 133h1v1h-1zM192 133h1v1h-1zM194 133h1v1h-1zM195 133h1v1h-1zM198 133h1v1h-1zM199 133h1v1h-1zM200 133h1v1h-1zM201 133h1v1h-1zM202 133h1v1h-1zM203 133h1v1h-1zM204 133h1v1h-1zM205 133h1v1h-1zM206 133h1v1h-1zM208 133h1v1h-1zM137 134h1v1h-1zM151 134h1v1h-1zM152 134h1v1h-1zM154 134h1v1h-1zM155 134h1v1h-1zM156 134h1v1h-1zM158 134h1v1h-1zM159 134h1v1h-1zM160 134h1v1h-1zM162 134h1v1h-1zM163 134h1v1h-1zM165 134h1v1h-1zM166 134h1v1h-1zM167 134h1v1h-1zM168 134h1v1h-1zM169 134h1v1h-1zM170 134h1v1h-1zM171 134h1v1h-1zM172 134h1v1h-1zM173 134h1v1h-1zM174 134h1v1h-1zM176 134h1v1h-1zM177 134h1v1h-1zM178 134h1v1h-1zM179 134h1v1h-1zM181 134h1v1h-1zM182 134h1v1h-1zM183 134h1v1h-1zM184 134h1v1h-1zM185 134h1v1h-1zM186 134h1v1h-1zM187 134h1v1h-1zM189 134h1v1h-1zM190 134h1v1h-1zM191 134h1v1h-1zM192 134h1v1h-1zM193 134h1v1h-1zM195 134h1v1h-1zM197 134h1v1h-1zM200 134h1v1h-1zM203 134h1v1h-1zM206 134h1v1h-1zM208 134h1v1h-1zM209 134h1v1h-1zM140 135h1v1h-1zM141 135h1v1h-1zM144 135h1v1h-1zM150 135h1v1h-1zM155 135h1v1h-1zM157 135h1v1h-1zM159 135h1v1h-1zM160 135h1v1h-1zM161 135h1v1h-1zM162 135h1v1h-1zM163 135h1v1h-1zM164 135h1v1h-1zM165 135h1v1h-1zM166 135h1v1h-1zM167 135h1v1h-1zM168 135h1v1h-1zM169 135h1v1h-1zM170 135h1v1h-1zM171 135h1v1h-1zM172 135h1v1h-1zM173 135h1v1h-1zM174 135h1v1h-1zM175 135h1v1h-1zM176 135h1v1h-1zM177 135h1v1h-1zM178 135h1v1h-1zM179 135h1v1h-1zM180 135h1v1h-1zM181 135h1v1h-1zM183 135h1v1h-1zM184 135h1v1h-1zM185 135h1v1h-1zM186 135h1v1h-1zM187 135h1v1h-1zM189 135h1v1h-1zM190 135h1v1h-1zM191 135h1v1h-1zM192 135h1v1h-1zM193 135h1v1h-1zM194 135h1v1h-1zM135 136h1v1h-1zM141 136h1v1h-1zM146 136h1v1h-1zM148 136h1v1h-1zM149 136h1v1h-1zM150 136h1v1h-1zM153 136h1v1h-1zM154 136h1v1h-1zM157 136h1v1h-1zM158 136h1v1h-1zM159 136h1v1h-1zM160 136h1v1h-1zM161 136h1v1h-1zM162 136h1v1h-1zM163 136h1v1h-1zM164 136h1v1h-1zM166 136h1v1h-1zM167 136h1v1h-1zM168 136h1v1h-1zM169 136h1v1h-1zM171 136h1v1h-1zM172 136h1v1h-1zM173 136h1v1h-1zM174 136h1v1h-1zM177 136h1v1h-1zM178 136h1v1h-1zM179 136h1v1h-1zM180 136h1v1h-1zM181 136h1v1h-1zM183 136h1v1h-1zM184 136h1v1h-1zM185 136h1v1h-1zM186 136h1v1h-1zM187 136h1v1h-1zM188 136h1v1h-1zM189 136h1v1h-1zM190 136h1v1h-1zM191 136h1v1h-1zM192 136h1v1h-1zM194 136h1v1h-1zM195 136h1v1h-1zM197 136h1v1h-1zM198 136h1v1h-1zM201 136h1v1h-1zM120 137h1v1h-1zM145 137h1v1h-1zM148 137h1v1h-1zM150 137h1v1h-1zM153 137h1v1h-1zM155 137h1v1h-1zM157 137h1v1h-1zM158 137h1v1h-1zM161 137h1v1h-1zM162 137h1v1h-1zM163 137h1v1h-1zM164 137h1v1h-1zM165 137h1v1h-1zM166 137h1v1h-1zM167 137h1v1h-1zM168 137h1v1h-1zM169 137h1v1h-1zM170 137h1v1h-1zM171 137h1v1h-1zM172 137h1v1h-1zM174 137h1v1h-1zM175 137h1v1h-1zM176 137h1v1h-1zM177 137h1v1h-1zM178 137h1v1h-1zM180 137h1v1h-1zM181 137h1v1h-1zM182 137h1v1h-1zM183 137h1v1h-1zM184 137h1v1h-1zM185 137h1v1h-1zM187 137h1v1h-1zM188 137h1v1h-1zM190 137h1v1h-1zM192 137h1v1h-1zM194 137h1v1h-1zM195 137h1v1h-1zM197 137h1v1h-1zM200 137h1v1h-1zM202 137h1v1h-1zM137 138h1v1h-1zM143 138h1v1h-1zM145 138h1v1h-1zM149 138h1v1h-1zM153 138h1v1h-1zM154 138h1v1h-1zM157 138h1v1h-1zM158 138h1v1h-1zM160 138h1v1h-1zM161 138h1v1h-1zM162 138h1v1h-1zM163 138h1v1h-1zM164 138h1v1h-1zM165 138h1v1h-1zM166 138h1v1h-1zM168 138h1v1h-1zM169 138h1v1h-1zM171 138h1v1h-1zM173 138h1v1h-1zM175 138h1v1h-1zM176 138h1v1h-1zM177 138h1v1h-1zM180 138h1v1h-1zM181 138h1v1h-1zM182 138h1v1h-1zM183 138h1v1h-1zM184 138h1v1h-1zM185 138h1v1h-1zM186 138h1v1h-1zM187 138h1v1h-1zM189 138h1v1h-1zM190 138h1v1h-1zM191 138h1v1h-1zM194 138h1v1h-1zM196 138h1v1h-1zM202 138h1v1h-1zM205 138h1v1h-1zM207 138h1v1h-1zM124 139h1v1h-1zM134 139h1v1h-1zM141 139h1v1h-1zM143 139h1v1h-1zM147 139h1v1h-1zM148 139h1v1h-1zM151 139h1v1h-1zM152 139h1v1h-1zM154 139h1v1h-1zM156 139h1v1h-1zM157 139h1v1h-1zM158 139h1v1h-1zM159 139h1v1h-1zM160 139h1v1h-1zM161 139h1v1h-1zM162 139h1v1h-1zM163 139h1v1h-1zM164 139h1v1h-1zM165 139h1v1h-1zM166 139h1v1h-1zM167 139h1v1h-1zM170 139h1v1h-1zM171 139h1v1h-1zM172 139h1v1h-1zM173 139h1v1h-1zM174 139h1v1h-1zM175 139h1v1h-1zM176 139h1v1h-1zM177 139h1v1h-1zM178 139h1v1h-1zM179 139h1v1h-1zM180 139h1v1h-1zM181 139h1v1h-1zM182 139h1v1h-1zM183 139h1v1h-1zM185 139h1v1h-1zM186 139h1v1h-1zM188 139h1v1h-1zM189 139h1v1h-1zM193 139h1v1h-1zM199 139h1v1h-1zM206 139h1v1h-1zM209 139h1v1h-1zM140 140h1v1h-1zM143 140h1v1h-1zM144 140h1v1h-1zM145 140h1v1h-1zM153 140h1v1h-1zM155 140h1v1h-1zM157 140h1v1h-1zM158 140h1v1h-1zM159 140h1v1h-1zM160 140h1v1h-1zM161 140h1v1h-1zM162 140h1v1h-1zM163 140h1v1h-1zM164 140h1v1h-1zM165 140h1v1h-1zM167 140h1v1h-1zM169 140h1v1h-1zM170 140h1v1h-1zM171 140h1v1h-1zM172 140h1v1h-1zM173 140h1v1h-1zM175 140h1v1h-1zM176 140h1v1h-1zM178 140h1v1h-1zM179 140h1v1h-1zM180 140h1v1h-1zM182 140h1v1h-1zM183 140h1v1h-1zM184 140h1v1h-1zM185 140h1v1h-1zM186 140h1v1h-1zM187 140h1v1h-1zM188 140h1v1h-1zM189 140h1v1h-1zM190 140h1v1h-1zM192 140h1v1h-1zM195 140h1v1h-1zM196 140h1v1h-1zM201 140h1v1h-1zM205 140h1v1h-1zM212 140h1v1h-1zM128 141h1v1h-1zM136 141h1v1h-1zM140 141h1v1h-1zM141 141h1v1h-1zM145 141h1v1h-1zM151 141h1v1h-1zM153 141h1v1h-1zM155 141h1v1h-1zM156 141h1v1h-1zM157 141h1v1h-1zM158 141h1v1h-1zM159 141h1v1h-1zM161 141h1v1h-1zM162 141h1v1h-1zM163 141h1v1h-1zM166 141h1v1h-1zM167 141h1v1h-1zM168 141h1v1h-1zM170 141h1v1h-1zM171 141h1v1h-1zM172 141h1v1h-1zM173 141h1v1h-1zM174 141h1v1h-1zM175 141h1v1h-1zM176 141h1v1h-1zM177 141h1v1h-1zM178 141h1v1h-1zM179 141h1v1h-1zM180 141h1v1h-1zM181 141h1v1h-1zM184 141h1v1h-1zM186 141h1v1h-1zM188 141h1v1h-1zM192 141h1v1h-1zM195 141h1v1h-1zM197 141h1v1h-1zM200 141h1v1h-1zM202 141h1v1h-1zM204 141h1v1h-1zM129 142h1v1h-1zM137 142h1v1h-1zM141 142h1v1h-1zM143 142h1v1h-1zM144 142h1v1h-1zM150 142h1v1h-1zM151 142h1v1h-1zM152 142h1v1h-1zM154 142h1v1h-1zM156 142h1v1h-1zM157 142h1v1h-1zM158 142h1v1h-1zM159 142h1v1h-1zM160 142h1v1h-1zM161 142h1v1h-1zM162 142h1v1h-1zM164 142h1v1h-1zM165 142h1v1h-1zM166 142h1v1h-1zM167 142h1v1h-1zM168 142h1v1h-1zM169 142h1v1h-1zM170 142h1v1h-1zM171 142h1v1h-1zM172 142h1v1h-1zM173 142h1v1h-1zM174 142h1v1h-1zM175 142h1v1h-1zM176 142h1v1h-1zM177 142h1v1h-1zM178 142h1v1h-1zM179 142h1v1h-1zM180 142h1v1h-1zM181 142h1v1h-1zM184 142h1v1h-1zM186 142h1v1h-1zM191 142h1v1h-1zM192 142h1v1h-1zM194 142h1v1h-1zM196 142h1v1h-1zM128 143h1v1h-1zM132 143h1v1h-1zM136 143h1v1h-1zM141 143h1v1h-1zM144 143h1v1h-1zM146 143h1v1h-1zM148 143h1v1h-1zM149 143h1v1h-1zM151 143h1v1h-1zM152 143h1v1h-1zM153 143h1v1h-1zM154 143h1v1h-1zM155 143h1v1h-1zM156 143h1v1h-1zM157 143h1v1h-1zM158 143h1v1h-1zM160 143h1v1h-1zM161 143h1v1h-1zM162 143h1v1h-1zM163 143h1v1h-1zM164 143h1v1h-1zM165 143h1v1h-1zM166 143h1v1h-1zM167 143h1v1h-1zM168 143h1v1h-1zM169 143h1v1h-1zM171 143h1v1h-1zM172 143h1v1h-1zM173 143h1v1h-1zM174 143h1v1h-1zM175 143h1v1h-1zM176 143h1v1h-1zM177 143h1v1h-1zM178 143h1v1h-1zM180 143h1v1h-1zM181 143h1v1h-1zM182 143h1v1h-1zM184 143h1v1h-1zM186 143h1v1h-1zM187 143h1v1h-1zM188 143h1v1h-1zM189 143h1v1h-1zM195 143h1v1h-1zM199 143h1v1h-1zM204 143h1v1h-1zM205 143h1v1h-1zM209 143h1v1h-1zM128 144h1v1h-1zM141 144h1v1h-1zM143 144h1v1h-1zM144 144h1v1h-1zM146 144h1v1h-1zM147 144h1v1h-1zM148 144h1v1h-1zM151 144h1v1h-1zM152 144h1v1h-1zM153 144h1v1h-1zM154 144h1v1h-1zM156 144h1v1h-1zM157 144h1v1h-1zM158 144h1v1h-1zM159 144h1v1h-1zM160 144h1v1h-1zM161 144h1v1h-1zM162 144h1v1h-1zM163 144h1v1h-1zM164 144h1v1h-1zM165 144h1v1h-1zM166 144h1v1h-1zM167 144h1v1h-1zM168 144h1v1h-1zM169 144h1v1h-1zM170 144h1v1h-1zM171 144h1v1h-1zM172 144h1v1h-1zM173 144h1v1h-1zM174 144h1v1h-1zM179 144h1v1h-1zM180 144h1v1h-1zM181 144h1v1h-1zM182 144h1v1h-1zM183 144h1v1h-1zM184 144h1v1h-1zM185 144h1v1h-1zM186 144h1v1h-1zM187 144h1v1h-1zM193 144h1v1h-1zM204 144h1v1h-1zM134 145h1v1h-1zM135 145h1v1h-1zM137 145h1v1h-1zM144 145h1v1h-1zM148 145h1v1h-1zM149 145h1v1h-1zM150 145h1v1h-1zM151 145h1v1h-1zM152 145h1v1h-1zM153 145h1v1h-1zM154 145h1v1h-1zM155 145h1v1h-1zM156 145h1v1h-1zM157 145h1v1h-1zM158 145h1v1h-1zM159 145h1v1h-1zM161 145h1v1h-1zM162 145h1v1h-1zM163 145h1v1h-1zM164 145h1v1h-1zM165 145h1v1h-1zM168 145h1v1h-1zM169 145h1v1h-1zM170 145h1v1h-1zM171 145h1v1h-1zM172 145h1v1h-1zM173 145h1v1h-1zM175 145h1v1h-1zM176 145h1v1h-1zM177 145h1v1h-1zM179 145h1v1h-1zM181 145h1v1h-1zM182 145h1v1h-1zM183 145h1v1h-1zM184 145h1v1h-1zM185 145h1v1h-1zM191 145h1v1h-1zM194 145h1v1h-1zM195 145h1v1h-1zM198 145h1v1h-1zM129 146h1v1h-1zM143 146h1v1h-1zM144 146h1v1h-1zM146 146h1v1h-1zM147 146h1v1h-1zM149 146h1v1h-1zM151 146h1v1h-1zM152 146h1v1h-1zM153 146h1v1h-1zM155 146h1v1h-1zM156 146h1v1h-1zM158 146h1v1h-1zM159 146h1v1h-1zM161 146h1v1h-1zM163 146h1v1h-1zM165 146h1v1h-1zM166 146h1v1h-1zM169 146h1v1h-1zM170 146h1v1h-1zM171 146h1v1h-1zM174 146h1v1h-1zM175 146h1v1h-1zM177 146h1v1h-1zM178 146h1v1h-1zM180 146h1v1h-1zM181 146h1v1h-1zM182 146h1v1h-1zM185 146h1v1h-1zM189 146h1v1h-1zM190 146h1v1h-1zM191 146h1v1h-1zM193 146h1v1h-1zM202 146h1v1h-1zM127 147h1v1h-1zM133 147h1v1h-1zM141 147h1v1h-1zM142 147h1v1h-1zM146 147h1v1h-1zM148 147h1v1h-1zM150 147h1v1h-1zM153 147h1v1h-1zM154 147h1v1h-1zM158 147h1v1h-1zM160 147h1v1h-1zM161 147h1v1h-1zM162 147h1v1h-1zM163 147h1v1h-1zM165 147h1v1h-1zM166 147h1v1h-1zM167 147h1v1h-1zM168 147h1v1h-1zM169 147h1v1h-1zM170 147h1v1h-1zM173 147h1v1h-1zM174 147h1v1h-1zM176 147h1v1h-1zM177 147h1v1h-1zM179 147h1v1h-1zM180 147h1v1h-1zM183 147h1v1h-1zM184 147h1v1h-1zM187 147h1v1h-1zM188 147h1v1h-1zM193 147h1v1h-1zM132 148h1v1h-1zM134 148h1v1h-1zM140 148h1v1h-1zM143 148h1v1h-1zM145 148h1v1h-1zM150 148h1v1h-1zM154 148h1v1h-1zM155 148h1v1h-1zM156 148h1v1h-1zM158 148h1v1h-1zM159 148h1v1h-1zM160 148h1v1h-1zM161 148h1v1h-1zM162 148h1v1h-1zM163 148h1v1h-1zM164 148h1v1h-1zM167 148h1v1h-1zM170 148h1v1h-1zM172 148h1v1h-1zM173 148h1v1h-1zM176 148h1v1h-1zM178 148h1v1h-1zM179 148h1v1h-1zM182 148h1v1h-1zM185 148h1v1h-1zM186 148h1v1h-1zM190 148h1v1h-1zM193 148h1v1h-1zM194 148h1v1h-1zM199 148h1v1h-1zM203 148h1v1h-1zM134 149h1v1h-1zM140 149h1v1h-1zM141 149h1v1h-1zM144 149h1v1h-1zM145 149h1v1h-1zM151 149h1v1h-1zM152 149h1v1h-1zM153 149h1v1h-1zM154 149h1v1h-1zM157 149h1v1h-1zM158 149h1v1h-1zM159 149h1v1h-1zM162 149h1v1h-1zM163 149h1v1h-1zM167 149h1v1h-1zM168 149h1v1h-1zM169 149h1v1h-1zM170 149h1v1h-1zM172 149h1v1h-1zM173 149h1v1h-1zM176 149h1v1h-1zM181 149h1v1h-1zM183 149h1v1h-1zM184 149h1v1h-1zM207 149h1v1h-1zM136 150h1v1h-1zM137 150h1v1h-1zM145 150h1v1h-1zM147 150h1v1h-1zM149 150h1v1h-1zM150 150h1v1h-1zM151 150h1v1h-1zM152 150h1v1h-1zM153 150h1v1h-1zM154 150h1v1h-1zM157 150h1v1h-1zM160 150h1v1h-1zM162 150h1v1h-1zM164 150h1v1h-1zM167 150h1v1h-1zM168 150h1v1h-1zM170 150h1v1h-1zM174 150h1v1h-1zM183 150h1v1h-1zM186 150h1v1h-1zM187 150h1v1h-1zM189 150h1v1h-1zM194 150h1v1h-1zM211 150h1v1h-1zM133 151h1v1h-1zM141 151h1v1h-1zM142 151h1v1h-1zM149 151h1v1h-1zM150 151h1v1h-1zM151 151h1v1h-1zM152 151h1v1h-1zM153 151h1v1h-1zM154 151h1v1h-1zM156 151h1v1h-1zM159 151h1v1h-1zM160 151h1v1h-1zM162 151h1v1h-1zM165 151h1v1h-1zM166 151h1v1h-1zM167 151h1v1h-1zM168 151h1v1h-1zM170 151h1v1h-1zM175 151h1v1h-1zM182 151h1v1h-1zM185 151h1v1h-1zM186 151h1v1h-1zM192 151h1v1h-1zM193 151h1v1h-1zM125 152h1v1h-1zM132 152h1v1h-1zM140 152h1v1h-1zM142 152h1v1h-1zM146 152h1v1h-1zM147 152h1v1h-1zM149 152h1v1h-1zM151 152h1v1h-1zM152 152h1v1h-1zM154 152h1v1h-1zM155 152h1v1h-1zM156 152h1v1h-1zM158 152h1v1h-1zM159 152h1v1h-1zM164 152h1v1h-1zM166 152h1v1h-1zM169 152h1v1h-1zM171 152h1v1h-1zM173 152h1v1h-1zM178 152h1v1h-1zM182 152h1v1h-1zM183 152h1v1h-1zM185 152h1v1h-1zM186 152h1v1h-1zM190 152h1v1h-1zM133 153h1v1h-1zM134 153h1v1h-1zM135 153h1v1h-1zM136 153h1v1h-1zM140 153h1v1h-1zM142 153h1v1h-1zM145 153h1v1h-1zM147 153h1v1h-1zM156 153h1v1h-1zM157 153h1v1h-1zM160 153h1v1h-1zM161 153h1v1h-1zM162 153h1v1h-1zM164 153h1v1h-1zM174 153h1v1h-1zM183 153h1v1h-1zM185 153h1v1h-1zM128 154h1v1h-1zM142 154h1v1h-1zM148 154h1v1h-1zM150 154h1v1h-1zM151 154h1v1h-1zM154 154h1v1h-1zM157 154h1v1h-1zM159 154h1v1h-1zM161 154h1v1h-1zM162 154h1v1h-1zM164 154h1v1h-1zM165 154h1v1h-1zM166 154h1v1h-1zM174 154h1v1h-1zM175 154h1v1h-1zM184 154h1v1h-1zM127 155h1v1h-1zM132 155h1v1h-1zM133 155h1v1h-1zM134 155h1v1h-1zM141 155h1v1h-1zM146 155h1v1h-1zM147 155h1v1h-1zM150 155h1v1h-1zM165 155h1v1h-1zM167 155h1v1h-1zM177 155h1v1h-1zM126 156h1v1h-1zM134 156h1v1h-1zM136 156h1v1h-1zM139 156h1v1h-1zM142 156h1v1h-1zM147 156h1v1h-1zM156 156h1v1h-1zM157 156h1v1h-1zM159 156h1v1h-1zM160 156h1v1h-1zM168 156h1v1h-1zM172 156h1v1h-1zM178 156h1v1h-1zM180 156h1v1h-1zM182 156h1v1h-1zM127 157h1v1h-1zM129 157h1v1h-1zM133 157h1v1h-1zM136 157h1v1h-1zM141 157h1v1h-1zM144 157h1v1h-1zM150 157h1v1h-1zM151 157h1v1h-1zM156 157h1v1h-1zM158 157h1v1h-1zM163 157h1v1h-1zM174 157h1v1h-1zM175 157h1v1h-1zM176 157h1v1h-1zM188 157h1v1h-1zM123 158h1v1h-1zM129 158h1v1h-1zM131 158h1v1h-1zM133 158h1v1h-1zM144 158h1v1h-1zM146 158h1v1h-1zM158 158h1v1h-1zM161 158h1v1h-1zM162 158h1v1h-1zM126 159h1v1h-1zM127 159h1v1h-1zM130 159h1v1h-1zM133 159h1v1h-1zM134 159h1v1h-1zM137 159h1v1h-1zM138 159h1v1h-1zM147 159h1v1h-1zM150 159h1v1h-1zM153 159h1v1h-1zM155 159h1v1h-1zM161 159h1v1h-1zM167 159h1v1h-1zM182 159h1v1h-1zM199 159h1v1h-1zM135 160h1v1h-1zM137 160h1v1h-1zM168 160h1v1h-1zM128 161h1v1h-1zM130 161h1v1h-1zM132 161h1v1h-1zM135 161h1v1h-1zM136 161h1v1h-1zM138 161h1v1h-1zM142 161h1v1h-1zM151 161h1v1h-1zM152 161h1v1h-1zM158 161h1v1h-1zM162 161h1v1h-1zM164 161h1v1h-1zM175 161h1v1h-1zM131 162h1v1h-1zM134 162h1v1h-1zM137 162h1v1h-1zM143 162h1v1h-1zM151 162h1v1h-1zM155 162h1v1h-1zM204 162h1v1h-1zM123 163h1v1h-1zM129 163h1v1h-1zM133 163h1v1h-1zM134 163h1v1h-1zM135 163h1v1h-1zM140 163h1v1h-1zM146 163h1v1h-1zM148 163h1v1h-1zM162 163h1v1h-1zM168 163h1v1h-1zM129 164h1v1h-1zM136 164h1v1h-1zM142 164h1v1h-1zM160 164h1v1h-1zM169 164h1v1h-1zM175 164h1v1h-1zM191 164h1v1h-1zM130 165h1v1h-1zM136 165h1v1h-1zM145 165h1v1h-1zM164 165h1v1h-1zM121 166h1v1h-1zM141 166h1v1h-1zM149 166h1v1h-1zM154 166h1v1h-1zM158 166h1v1h-1zM165 166h1v1h-1zM120 167h1v1h-1zM146 167h1v1h-1zM151 167h1v1h-1zM139 168h1v1h-1zM147 168h1v1h-1zM154 168h1v1h-1zM156 168h1v1h-1zM158 168h1v1h-1zM184 168h1v1h-1zM171 172h1v1h-1zM174 172h1v1h-1zM153 173h1v1h-1zM175 173h1v1h-1zM123 174h1v1h-1zM140 177h1v1h-1zM153 177h1v1h-1zM187 177h1v1h-1z" fill="#e83e40" fill-opacity="0.85"/><ellipse cx="177" cy="136.5" rx="21" ry="11" fill="#e8363a" fill-opacity="0.85" filter="url(#bl2)" transform="rotate(-24 177 136.5)"/></g><rect x="59.7" y="13.7" width="184.9" height="169.3" fill="none" stroke="#111" stroke-width="2.0"/><line x1="55.5" y1="17.3" x2="59.7" y2="17.3" stroke="#111" stroke-width="1.6"/><line x1="55.5" y1="49" x2="59.7" y2="49" stroke="#111" stroke-width="1.6"/><line x1="55.5" y1="82.7" x2="59.7" y2="82.7" stroke="#111" stroke-width="1.6"/><line x1="55.5" y1="116" x2="59.7" y2="116" stroke="#111" stroke-width="1.6"/><line x1="55.5" y1="149.2" x2="59.7" y2="149.2" stroke="#111" stroke-width="1.6"/><line x1="55.5" y1="181.9" x2="59.7" y2="181.9" stroke="#111" stroke-width="1.6"/><line x1="60.8" y1="183" x2="60.8" y2="188.5" stroke="#111" stroke-width="1.6"/><line x1="68" y1="183" x2="68" y2="186" stroke="#111" stroke-width="1.1"/><line x1="75.1" y1="183" x2="75.1" y2="186" stroke="#111" stroke-width="1.1"/><line x1="82.3" y1="183" x2="82.3" y2="186" stroke="#111" stroke-width="1.1"/><line x1="89.4" y1="183" x2="89.4" y2="186" stroke="#111" stroke-width="1.1"/><line x1="96.6" y1="183" x2="96.6" y2="188.5" stroke="#111" stroke-width="1.6"/><line x1="103.8" y1="183" x2="103.8" y2="186" stroke="#111" stroke-width="1.1"/><line x1="110.9" y1="183" x2="110.9" y2="186" stroke="#111" stroke-width="1.1"/><line x1="118.1" y1="183" x2="118.1" y2="186" stroke="#111" stroke-width="1.1"/><line x1="125.2" y1="183" x2="125.2" y2="186" stroke="#111" stroke-width="1.1"/><line x1="132.4" y1="183" x2="132.4" y2="188.5" stroke="#111" stroke-width="1.6"/><line x1="139.6" y1="183" x2="139.6" y2="186" stroke="#111" stroke-width="1.1"/><line x1="146.7" y1="183" x2="146.7" y2="186" stroke="#111" stroke-width="1.1"/><line x1="153.9" y1="183" x2="153.9" y2="186" stroke="#111" stroke-width="1.1"/><line x1="161" y1="183" x2="161" y2="186" stroke="#111" stroke-width="1.1"/><line x1="168.2" y1="183" x2="168.2" y2="188.5" stroke="#111" stroke-width="1.6"/><line x1="175.4" y1="183" x2="175.4" y2="186" stroke="#111" stroke-width="1.1"/><line x1="182.5" y1="183" x2="182.5" y2="186" stroke="#111" stroke-width="1.1"/><line x1="189.7" y1="183" x2="189.7" y2="186" stroke="#111" stroke-width="1.1"/><line x1="196.8" y1="183" x2="196.8" y2="186" stroke="#111" stroke-width="1.1"/><line x1="204" y1="183" x2="204" y2="188.5" stroke="#111" stroke-width="1.6"/><line x1="211.2" y1="183" x2="211.2" y2="186" stroke="#111" stroke-width="1.1"/><line x1="218.3" y1="183" x2="218.3" y2="186" stroke="#111" stroke-width="1.1"/><line x1="225.5" y1="183" x2="225.5" y2="186" stroke="#111" stroke-width="1.1"/><line x1="232.6" y1="183" x2="232.6" y2="186" stroke="#111" stroke-width="1.1"/><line x1="239.8" y1="183" x2="239.8" y2="188.5" stroke="#111" stroke-width="1.6"/><text x="28.1" y="24.9" font-size="15.3" font-weight="normal" font-family='"Liberation Sans", sans-serif' fill="#111" stroke="#111" stroke-width="0.25" textLength="20" lengthAdjust="spacingAndGlyphs">250</text><text x="27.6" y="55.4" font-size="15.3" font-weight="normal" font-family='"Liberation Sans", sans-serif' fill="#111" stroke="#111" stroke-width="0.25" textLength="20.5" lengthAdjust="spacingAndGlyphs">200</text><text x="28.1" y="94" font-size="15.3" font-weight="normal" font-family='"Liberation Sans", sans-serif' fill="#111" stroke="#111" stroke-width="0.25" textLength="20" lengthAdjust="spacingAndGlyphs">150</text><text x="28.1" y="127.3" font-size="15.3" font-weight="normal" font-family='"Liberation Sans", sans-serif' fill="#111" stroke="#111" stroke-width="0.25" textLength="20" lengthAdjust="spacingAndGlyphs">100</text><text x="34.2" y="159.9" font-size="15.3" font-weight="normal" font-family='"Liberation Sans", sans-serif' fill="#111" stroke="#111" stroke-width="0.25" textLength="13.9" lengthAdjust="spacingAndGlyphs">50</text><text x="36.5" y="191.1" font-size="15.3" font-weight="normal" font-family='"Liberation Sans", sans-serif' fill="#111" stroke="#111" stroke-width="0.25" textLength="7.3" lengthAdjust="spacingAndGlyphs">0</text><text x="59.6" y="205.8" font-size="15.0" font-weight="normal" font-family='"Liberation Sans", sans-serif' fill="#111" stroke="#111" stroke-width="0.25" textLength="6.399999999999999" lengthAdjust="spacingAndGlyphs">0</text><text x="92.5" y="205.8" font-size="15.0" font-weight="normal" font-family='"Liberation Sans", sans-serif' fill="#111" stroke="#111" stroke-width="0.25" textLength="13.299999999999997" lengthAdjust="spacingAndGlyphs">50</text><text x="127" y="205.8" font-size="15.0" font-weight="normal" font-family='"Liberation Sans", sans-serif' fill="#111" stroke="#111" stroke-width="0.25" textLength="19.5" lengthAdjust="spacingAndGlyphs">100</text><text x="162.2" y="205.8" font-size="15.0" font-weight="normal" font-family='"Liberation Sans", sans-serif' fill="#111" stroke="#111" stroke-width="0.25" textLength="18.80000000000001" lengthAdjust="spacingAndGlyphs">150</text><text x="197.8" y="205.8" font-size="15.0" font-weight="normal" font-family='"Liberation Sans", sans-serif' fill="#111" stroke="#111" stroke-width="0.25" textLength="20.19999999999999" lengthAdjust="spacingAndGlyphs">200</text><text x="233.5" y="205.8" font-size="15.0" font-weight="normal" font-family='"Liberation Sans", sans-serif' fill="#111" stroke="#111" stroke-width="0.25" textLength="20.0" lengthAdjust="spacingAndGlyphs">250</text><text x="105.5" y="229.5" font-size="14.5" font-weight="bold" font-family='"Liberation Sans", sans-serif' fill="#111" textLength="112" lengthAdjust="spacingAndGlyphs">FSC-H: FSC-Height</text><text transform="translate(14,172.5) rotate(-90)" font-size="16" font-weight="bold" font-family='"Liberation Sans", sans-serif' fill="#111" textLength="140.5" lengthAdjust="spacingAndGlyphs">SSC-H: SSC-Height</text><path d="M328,187.4C332.1,187.2 352.4,186.2 358.8,185.6C365.2,185 372.8,183.8 376,182.7C379.2,181.6 381.3,179.3 382.9,177C384.5,174.7 386.6,170.5 387.7,165.4C388.8,160.3 390.6,147.2 391.5,138.5C392.4,129.8 393.7,111.7 394.4,100C395.1,88.3 396.5,59.3 397,50.8C397.5,42.3 398.1,38.7 398.5,36C398.9,33.3 399.6,30.8 400,30.8C400.4,30.8 401.1,33.3 401.5,36C401.9,38.7 402.5,42.3 403,50.8C403.5,59.3 404.5,88.3 405,100C405.5,111.7 406.3,129.8 406.9,138.5C407.5,147.2 408.7,160.3 409.2,165.4C409.7,170.5 410.1,174.9 410.8,177C411.5,179.1 413.3,179.9 414.6,180.8C415.9,181.7 417,183 420.4,183.7C423.8,184.4 432.1,185.8 440,186.2C447.9,186.6 470.8,186.9 480,187C489.2,187.1 505.1,187.2 509,187.2" fill="none" stroke="#e3504f" stroke-width="1.6"/><path d="M311.5,184.6C312.9,184.5 319.8,184.3 322,184.2C324.2,184.1 326.2,184.1 328,183.8C329.8,183.5 334.1,182.8 335.8,182.3C337.5,181.8 339.4,180.8 340.4,179.8C341.4,178.8 342.5,176.2 343.2,174.5C343.9,172.8 344.6,172.1 345.4,167.3C346.2,162.5 348,147.5 349.2,138.5C350.4,129.5 353.5,111.7 354.6,100C355.7,88.3 356.8,59.7 357.7,50.8C358.6,41.9 360.2,36.3 361,33C361.8,29.7 363.1,26.2 363.8,26.2C364.5,26.2 365.5,29.7 366,33C366.5,36.3 367.1,41.9 367.7,50.8C368.3,59.7 369.6,88.3 370.4,100C371.2,111.7 373.1,131.6 373.8,138.5C374.5,145.4 375,148.4 376,152C377,155.6 379.4,162.7 381,165.4C382.6,168.1 385.5,170.2 387.7,172C389.9,173.8 394.7,177.5 397.3,178.8C399.9,180.1 402.6,181 407,181.7C411.4,182.4 422.9,183.4 430,183.7C437.1,184 451.7,184.1 460,184.2C468.3,184.3 487.7,184.5 492,184.6" fill="none" stroke="#1d3a75" stroke-width="2.1"/><rect x="319.6" y="18.6" width="183.8" height="170.8" fill="none" stroke="#111" stroke-width="2.0"/><line x1="315.2" y1="189.4" x2="319.6" y2="189.4" stroke="#111" stroke-width="2.0"/><line x1="316.8" y1="189.4" x2="316.8" y2="193.9" stroke="#111" stroke-width="1.4"/><line x1="330.4" y1="189.4" x2="330.4" y2="191.6" stroke="#111" stroke-width="1.26"/><line x1="338.3" y1="189.4" x2="338.3" y2="191.6" stroke="#111" stroke-width="1.26"/><line x1="343.9" y1="189.4" x2="343.9" y2="191.6" stroke="#111" stroke-width="1.26"/><line x1="348.3" y1="189.4" x2="348.3" y2="191.6" stroke="#111" stroke-width="1.26"/><line x1="351.9" y1="189.4" x2="351.9" y2="191.6" stroke="#111" stroke-width="1.26"/><line x1="354.9" y1="189.4" x2="354.9" y2="191.6" stroke="#111" stroke-width="1.26"/><line x1="357.5" y1="189.4" x2="357.5" y2="191.6" stroke="#111" stroke-width="1.26"/><line x1="359.8" y1="189.4" x2="359.8" y2="191.6" stroke="#111" stroke-width="1.26"/><line x1="361.9" y1="189.4" x2="361.9" y2="193.9" stroke="#111" stroke-width="1.4"/><line x1="375.4" y1="189.4" x2="375.4" y2="191.6" stroke="#111" stroke-width="1.26"/><line x1="383.3" y1="189.4" x2="383.3" y2="191.6" stroke="#111" stroke-width="1.26"/><line x1="389" y1="189.4" x2="389" y2="191.6" stroke="#111" stroke-width="1.26"/><line x1="393.3" y1="189.4" x2="393.3" y2="191.6" stroke="#111" stroke-width="1.26"/><line x1="396.9" y1="189.4" x2="396.9" y2="191.6" stroke="#111" stroke-width="1.26"/><line x1="399.9" y1="189.4" x2="399.9" y2="191.6" stroke="#111" stroke-width="1.26"/><line x1="402.5" y1="189.4" x2="402.5" y2="191.6" stroke="#111" stroke-width="1.26"/><line x1="404.8" y1="189.4" x2="404.8" y2="191.6" stroke="#111" stroke-width="1.26"/><line x1="406.9" y1="189.4" x2="406.9" y2="193.9" stroke="#111" stroke-width="1.4"/><line x1="420.5" y1="189.4" x2="420.5" y2="191.6" stroke="#111" stroke-width="1.26"/><line x1="428.4" y1="189.4" x2="428.4" y2="191.6" stroke="#111" stroke-width="1.26"/><line x1="434" y1="189.4" x2="434" y2="191.6" stroke="#111" stroke-width="1.26"/><line x1="438.4" y1="189.4" x2="438.4" y2="191.6" stroke="#111" stroke-width="1.26"/><line x1="442" y1="189.4" x2="442" y2="191.6" stroke="#111" stroke-width="1.26"/><line x1="445" y1="189.4" x2="445" y2="191.6" stroke="#111" stroke-width="1.26"/><line x1="447.6" y1="189.4" x2="447.6" y2="191.6" stroke="#111" stroke-width="1.26"/><line x1="449.9" y1="189.4" x2="449.9" y2="191.6" stroke="#111" stroke-width="1.26"/><line x1="451.9" y1="189.4" x2="451.9" y2="193.9" stroke="#111" stroke-width="1.4"/><line x1="465.5" y1="189.4" x2="465.5" y2="191.6" stroke="#111" stroke-width="1.26"/><line x1="473.4" y1="189.4" x2="473.4" y2="191.6" stroke="#111" stroke-width="1.26"/><line x1="479.1" y1="189.4" x2="479.1" y2="191.6" stroke="#111" stroke-width="1.26"/><line x1="483.4" y1="189.4" x2="483.4" y2="191.6" stroke="#111" stroke-width="1.26"/><line x1="487" y1="189.4" x2="487" y2="191.6" stroke="#111" stroke-width="1.26"/><line x1="490" y1="189.4" x2="490" y2="191.6" stroke="#111" stroke-width="1.26"/><line x1="492.6" y1="189.4" x2="492.6" y2="191.6" stroke="#111" stroke-width="1.26"/><line x1="494.9" y1="189.4" x2="494.9" y2="191.6" stroke="#111" stroke-width="1.26"/><line x1="497" y1="189.4" x2="497" y2="193.9" stroke="#111" stroke-width="1.4"/><text x="313" y="213.1" font-size="15.2" font-weight="normal" font-family='"Liberation Sans", sans-serif' fill="#111" stroke="#111" stroke-width="0.25" textLength="11.5" lengthAdjust="spacingAndGlyphs">10</text><text x="324.5" y="208.8" font-size="15.2" font-weight="normal" font-family='"Liberation Sans", sans-serif' fill="#111" stroke="#111" stroke-width="0.25" textLength="5.8" lengthAdjust="spacingAndGlyphs">0</text><text x="357.8" y="213.1" font-size="15.2" font-weight="normal" font-family='"Liberation Sans", sans-serif' fill="#111" stroke="#111" stroke-width="0.25" textLength="11.5" lengthAdjust="spacingAndGlyphs">10</text><text x="369.3" y="208.8" font-size="15.2" font-weight="normal" font-family='"Liberation Sans", sans-serif' fill="#111" stroke="#111" stroke-width="0.25" textLength="5.8" lengthAdjust="spacingAndGlyphs">1</text><text x="402.7" y="213.1" font-size="15.2" font-weight="normal" font-family='"Liberation Sans", sans-serif' fill="#111" stroke="#111" stroke-width="0.25" textLength="11.5" lengthAdjust="spacingAndGlyphs">10</text><text x="414.2" y="208.8" font-size="15.2" font-weight="normal" font-family='"Liberation Sans", sans-serif' fill="#111" stroke="#111" stroke-width="0.25" textLength="5.8" lengthAdjust="spacingAndGlyphs">2</text><text x="447.7" y="213.1" font-size="15.2" font-weight="normal" font-family='"Liberation Sans", sans-serif' fill="#111" stroke="#111" stroke-width="0.25" textLength="11.5" lengthAdjust="spacingAndGlyphs">10</text><text x="459.2" y="208.8" font-size="15.2" font-weight="normal" font-family='"Liberation Sans", sans-serif' fill="#111" stroke="#111" stroke-width="0.25" textLength="5.8" lengthAdjust="spacingAndGlyphs">3</text><text x="492.5" y="213.1" font-size="15.2" font-weight="normal" font-family='"Liberation Sans", sans-serif' fill="#111" stroke="#111" stroke-width="0.25" textLength="11.5" lengthAdjust="spacingAndGlyphs">10</text><text x="504" y="208.8" font-size="15.2" font-weight="normal" font-family='"Liberation Sans", sans-serif' fill="#111" stroke="#111" stroke-width="0.25" textLength="5.8" lengthAdjust="spacingAndGlyphs">4</text><text x="358.1" y="237" font-size="15" font-weight="bold" font-family='"Liberation Sans", sans-serif' fill="#111" textLength="108" lengthAdjust="spacingAndGlyphs">FL1-H: FL1-Height</text><text transform="translate(293.3,173.5) rotate(-90)" font-size="16.3" font-weight="bold" font-family='"Liberation Sans", sans-serif' fill="#111" textLength="125.3" lengthAdjust="spacingAndGlyphs">Histogram Height</text><path d="M371,64.8 L380,60.55 L380,63.099999999999994 L429.2,63.099999999999994 L429.2,66.5 L380,66.5 L380,69.05 Z" fill="#222"/><path d="M400.5,99.1 L410.5,93.6 L410.5,97.19999999999999 L435,97.19999999999999 L435,101.0 L410.5,101.0 L410.5,104.6 Z" fill="#222"/><text x="439.8" y="73.3" font-size="16" font-weight="bold" font-family='"Liberation Sans", sans-serif' fill="#111" textLength="37" lengthAdjust="spacingAndGlyphs">polys</text><text x="445.4" y="107.1" font-size="16" font-weight="bold" font-family='"Liberation Sans", sans-serif' fill="#111" textLength="48.3" lengthAdjust="spacingAndGlyphs">monos</text><g clip-path="url(#cpBL)"><path d="M92.5,366.1C94,365.6 98.2,364.2 100,364C101.8,363.8 108.2,363.6 110,363.6C111.8,363.7 117.5,363.9 118.5,364.5C119.5,365.1 119.5,367.9 119.6,370C119.7,372.1 119.4,382.2 119.2,385C119,387.8 117.8,395.7 117.5,398C117.2,400.3 116.5,406.2 116.6,408C116.7,409.8 118,414.4 118.2,416C118.4,417.6 124.7,423.2 118.6,424C112.5,424.8 63.6,425.9 57.5,424C51.4,422.1 57.1,406.8 57.3,405C57.5,403.2 59.2,405.5 59.7,405.9C60.2,406.3 62.1,408.1 62.5,408.7C62.9,409.3 62.4,411.8 63.4,412C64.4,412.2 71.4,411.6 72.3,411C73.2,410.4 72.7,406.8 72.3,405.9C71.9,405 68.7,402.9 68.1,402.2C67.5,401.5 66.1,400.4 66.2,399.3C66.3,398.2 68.6,392.4 69,390.9C69.4,389.4 70,385.6 70.5,384.4C71,383.2 72.9,379.7 73.7,378.7C74.5,377.7 77.3,374.9 78.4,374C79.5,373.1 83.6,370.2 85,369.4C86.4,368.6 91,366.6 92.5,366.1Z" fill="#145b9f" filter="url(#bl)"/><ellipse cx="94" cy="395.3" rx="13.3" ry="20.7" fill="#4ea3d8" filter="url(#bl2)"/><ellipse cx="94.8" cy="393.7" rx="9.8" ry="16.3" fill="#78ad4a" filter="url(#bl2)"/><ellipse cx="95.1" cy="392.3" rx="7.8" ry="11.5" fill="#f1e31e" filter="url(#bl)"/><ellipse cx="95" cy="392" rx="3.3" ry="5.6" fill="#e5323c" filter="url(#bl)"/><rect x="59.7" y="415.3" width="16.4" height="7.5" fill="#fff"/></g><line x1="57.6" y1="371.1" x2="238.2" y2="371.1" stroke="#cc5c78" stroke-width="1.2"/><line x1="116.3" y1="260.2" x2="116.3" y2="424.5" stroke="#b46a80" stroke-width="1.0"/><rect x="57.6" y="260.2" width="180.6" height="164.3" fill="none" stroke="#111" stroke-width="2.0"/><line x1="57.6" y1="424.4" x2="53" y2="424.4" stroke="#111" stroke-width="1.3"/><line x1="57.6" y1="412.2" x2="55.2" y2="412.2" stroke="#111" stroke-width="1.1700000000000002"/><line x1="57.6" y1="405" x2="55.2" y2="405" stroke="#111" stroke-width="1.1700000000000002"/><line x1="57.6" y1="400" x2="55.2" y2="400" stroke="#111" stroke-width="1.1700000000000002"/><line x1="57.6" y1="396" x2="55.2" y2="396" stroke="#111" stroke-width="1.1700000000000002"/><line x1="57.6" y1="392.8" x2="55.2" y2="392.8" stroke="#111" stroke-width="1.1700000000000002"/><line x1="57.6" y1="390.1" x2="55.2" y2="390.1" stroke="#111" stroke-width="1.1700000000000002"/><line x1="57.6" y1="387.7" x2="55.2" y2="387.7" stroke="#111" stroke-width="1.1700000000000002"/><line x1="57.6" y1="385.7" x2="55.2" y2="385.7" stroke="#111" stroke-width="1.1700000000000002"/><line x1="57.6" y1="383.8" x2="53" y2="383.8" stroke="#111" stroke-width="1.3"/><line x1="57.6" y1="371.6" x2="55.2" y2="371.6" stroke="#111" stroke-width="1.1700000000000002"/><line x1="57.6" y1="364.4" x2="55.2" y2="364.4" stroke="#111" stroke-width="1.1700000000000002"/><line x1="57.6" y1="359.4" x2="55.2" y2="359.4" stroke="#111" stroke-width="1.1700000000000002"/><line x1="57.6" y1="355.4" x2="55.2" y2="355.4" stroke="#111" stroke-width="1.1700000000000002"/><line x1="57.6" y1="352.2" x2="55.2" y2="352.2" stroke="#111" stroke-width="1.1700000000000002"/><line x1="57.6" y1="349.5" x2="55.2" y2="349.5" stroke="#111" stroke-width="1.1700000000000002"/><line x1="57.6" y1="347.1" x2="55.2" y2="347.1" stroke="#111" stroke-width="1.1700000000000002"/><line x1="57.6" y1="345.1" x2="55.2" y2="345.1" stroke="#111" stroke-width="1.1700000000000002"/><line x1="57.6" y1="343.2" x2="53" y2="343.2" stroke="#111" stroke-width="1.3"/><line x1="57.6" y1="331" x2="55.2" y2="331" stroke="#111" stroke-width="1.1700000000000002"/><line x1="57.6" y1="323.8" x2="55.2" y2="323.8" stroke="#111" stroke-width="1.1700000000000002"/><line x1="57.6" y1="318.8" x2="55.2" y2="318.8" stroke="#111" stroke-width="1.1700000000000002"/><line x1="57.6" y1="314.8" x2="55.2" y2="314.8" stroke="#111" stroke-width="1.1700000000000002"/><line x1="57.6" y1="311.6" x2="55.2" y2="311.6" stroke="#111" stroke-width="1.1700000000000002"/><line x1="57.6" y1="308.9" x2="55.2" y2="308.9" stroke="#111" stroke-width="1.1700000000000002"/><line x1="57.6" y1="306.5" x2="55.2" y2="306.5" stroke="#111" stroke-width="1.1700000000000002"/><line x1="57.6" y1="304.5" x2="55.2" y2="304.5" stroke="#111" stroke-width="1.1700000000000002"/><line x1="57.6" y1="302.6" x2="53" y2="302.6" stroke="#111" stroke-width="1.3"/><line x1="57.6" y1="290.4" x2="55.2" y2="290.4" stroke="#111" stroke-width="1.1700000000000002"/><line x1="57.6" y1="283.2" x2="55.2" y2="283.2" stroke="#111" stroke-width="1.1700000000000002"/><line x1="57.6" y1="278.2" x2="55.2" y2="278.2" stroke="#111" stroke-width="1.1700000000000002"/><line x1="57.6" y1="274.2" x2="55.2" y2="274.2" stroke="#111" stroke-width="1.1700000000000002"/><line x1="57.6" y1="271" x2="55.2" y2="271" stroke="#111" stroke-width="1.1700000000000002"/><line x1="57.6" y1="268.3" x2="55.2" y2="268.3" stroke="#111" stroke-width="1.1700000000000002"/><line x1="57.6" y1="265.9" x2="55.2" y2="265.9" stroke="#111" stroke-width="1.1700000000000002"/><line x1="57.6" y1="263.9" x2="55.2" y2="263.9" stroke="#111" stroke-width="1.1700000000000002"/><line x1="57.6" y1="262" x2="53" y2="262" stroke="#111" stroke-width="1.3"/><line x1="58" y1="424.5" x2="58" y2="428.5" stroke="#111" stroke-width="1.3"/><line x1="71.4" y1="424.5" x2="71.4" y2="426.5" stroke="#111" stroke-width="1.1700000000000002"/><line x1="79.3" y1="424.5" x2="79.3" y2="426.5" stroke="#111" stroke-width="1.1700000000000002"/><line x1="84.9" y1="424.5" x2="84.9" y2="426.5" stroke="#111" stroke-width="1.1700000000000002"/><line x1="89.2" y1="424.5" x2="89.2" y2="426.5" stroke="#111" stroke-width="1.1700000000000002"/><line x1="92.7" y1="424.5" x2="92.7" y2="426.5" stroke="#111" stroke-width="1.1700000000000002"/><line x1="95.7" y1="424.5" x2="95.7" y2="426.5" stroke="#111" stroke-width="1.1700000000000002"/><line x1="98.3" y1="424.5" x2="98.3" y2="426.5" stroke="#111" stroke-width="1.1700000000000002"/><line x1="100.6" y1="424.5" x2="100.6" y2="426.5" stroke="#111" stroke-width="1.1700000000000002"/><line x1="102.6" y1="424.5" x2="102.6" y2="428.5" stroke="#111" stroke-width="1.3"/><line x1="116" y1="424.5" x2="116" y2="426.5" stroke="#111" stroke-width="1.1700000000000002"/><line x1="123.9" y1="424.5" x2="123.9" y2="426.5" stroke="#111" stroke-width="1.1700000000000002"/><line x1="129.5" y1="424.5" x2="129.5" y2="426.5" stroke="#111" stroke-width="1.1700000000000002"/><line x1="133.8" y1="424.5" x2="133.8" y2="426.5" stroke="#111" stroke-width="1.1700000000000002"/><line x1="137.3" y1="424.5" x2="137.3" y2="426.5" stroke="#111" stroke-width="1.1700000000000002"/><line x1="140.3" y1="424.5" x2="140.3" y2="426.5" stroke="#111" stroke-width="1.1700000000000002"/><line x1="142.9" y1="424.5" x2="142.9" y2="426.5" stroke="#111" stroke-width="1.1700000000000002"/><line x1="145.2" y1="424.5" x2="145.2" y2="426.5" stroke="#111" stroke-width="1.1700000000000002"/><line x1="147.2" y1="424.5" x2="147.2" y2="428.5" stroke="#111" stroke-width="1.3"/><line x1="160.6" y1="424.5" x2="160.6" y2="426.5" stroke="#111" stroke-width="1.1700000000000002"/><line x1="168.5" y1="424.5" x2="168.5" y2="426.5" stroke="#111" stroke-width="1.1700000000000002"/><line x1="174.1" y1="424.5" x2="174.1" y2="426.5" stroke="#111" stroke-width="1.1700000000000002"/><line x1="178.4" y1="424.5" x2="178.4" y2="426.5" stroke="#111" stroke-width="1.1700000000000002"/><line x1="181.9" y1="424.5" x2="181.9" y2="426.5" stroke="#111" stroke-width="1.1700000000000002"/><line x1="184.9" y1="424.5" x2="184.9" y2="426.5" stroke="#111" stroke-width="1.1700000000000002"/><line x1="187.5" y1="424.5" x2="187.5" y2="426.5" stroke="#111" stroke-width="1.1700000000000002"/><line x1="189.8" y1="424.5" x2="189.8" y2="426.5" stroke="#111" stroke-width="1.1700000000000002"/><line x1="191.8" y1="424.5" x2="191.8" y2="428.5" stroke="#111" stroke-width="1.3"/><line x1="205.2" y1="424.5" x2="205.2" y2="426.5" stroke="#111" stroke-width="1.1700000000000002"/><line x1="213.1" y1="424.5" x2="213.1" y2="426.5" stroke="#111" stroke-width="1.1700000000000002"/><line x1="218.7" y1="424.5" x2="218.7" y2="426.5" stroke="#111" stroke-width="1.1700000000000002"/><line x1="223" y1="424.5" x2="223" y2="426.5" stroke="#111" stroke-width="1.1700000000000002"/><line x1="226.5" y1="424.5" x2="226.5" y2="426.5" stroke="#111" stroke-width="1.1700000000000002"/><line x1="229.5" y1="424.5" x2="229.5" y2="426.5" stroke="#111" stroke-width="1.1700000000000002"/><line x1="232.1" y1="424.5" x2="232.1" y2="426.5" stroke="#111" stroke-width="1.1700000000000002"/><line x1="234.4" y1="424.5" x2="234.4" y2="426.5" stroke="#111" stroke-width="1.1700000000000002"/><line x1="236.4" y1="424.5" x2="236.4" y2="428.5" stroke="#111" stroke-width="1.3"/><text x="33.7" y="433.4" font-size="13.4" font-weight="normal" font-family='"Liberation Sans", sans-serif' fill="#111" stroke="#111" stroke-width="0.25" textLength="11.8" lengthAdjust="spacingAndGlyphs">10</text><text x="45.5" y="428.4" font-size="12.4" font-weight="normal" font-family='"Liberation Sans", sans-serif' fill="#111" stroke="#111" stroke-width="0.25" textLength="5.0" lengthAdjust="spacingAndGlyphs">0</text><text x="33.7" y="394.3" font-size="13.4" font-weight="normal" font-family='"Liberation Sans", sans-serif' fill="#111" stroke="#111" stroke-width="0.25" textLength="11.8" lengthAdjust="spacingAndGlyphs">10</text><text x="45.5" y="389.3" font-size="12.4" font-weight="normal" font-family='"Liberation Sans", sans-serif' fill="#111" stroke="#111" stroke-width="0.25" textLength="5.0" lengthAdjust="spacingAndGlyphs">1</text><text x="33.7" y="353.1" font-size="13.4" font-weight="normal" font-family='"Liberation Sans", sans-serif' fill="#111" stroke="#111" stroke-width="0.25" textLength="11.8" lengthAdjust="spacingAndGlyphs">10</text><text x="45.5" y="348.1" font-size="12.4" font-weight="normal" font-family='"Liberation Sans", sans-serif' fill="#111" stroke="#111" stroke-width="0.25" textLength="5.0" lengthAdjust="spacingAndGlyphs">2</text><text x="33.7" y="312.4" font-size="13.4" font-weight="normal" font-family='"Liberation Sans", sans-serif' fill="#111" stroke="#111" stroke-width="0.25" textLength="11.8" lengthAdjust="spacingAndGlyphs">10</text><text x="45.5" y="307.4" font-size="12.4" font-weight="normal" font-family='"Liberation Sans", sans-serif' fill="#111" stroke="#111" stroke-width="0.25" textLength="5.0" lengthAdjust="spacingAndGlyphs">3</text><text x="33.7" y="270.6" font-size="13.4" font-weight="normal" font-family='"Liberation Sans", sans-serif' fill="#111" stroke="#111" stroke-width="0.25" textLength="11.8" lengthAdjust="spacingAndGlyphs">10</text><text x="45.5" y="265.6" font-size="12.4" font-weight="normal" font-family='"Liberation Sans", sans-serif' fill="#111" stroke="#111" stroke-width="0.25" textLength="5.0" lengthAdjust="spacingAndGlyphs">4</text><text x="53.1" y="445" font-size="13.2" font-weight="normal" font-family='"Liberation Sans", sans-serif' fill="#111" stroke="#111" stroke-width="0.25" textLength="11.8" lengthAdjust="spacingAndGlyphs">10</text><text x="64.9" y="441.2" font-size="11.2" font-weight="normal" font-family='"Liberation Sans", sans-serif' fill="#111" stroke="#111" stroke-width="0.25" textLength="5.0" lengthAdjust="spacingAndGlyphs">0</text><text x="97.2" y="445" font-size="13.2" font-weight="normal" font-family='"Liberation Sans", sans-serif' fill="#111" stroke="#111" stroke-width="0.25" textLength="11.8" lengthAdjust="spacingAndGlyphs">10</text><text x="109" y="441.2" font-size="11.2" font-weight="normal" font-family='"Liberation Sans", sans-serif' fill="#111" stroke="#111" stroke-width="0.25" textLength="5.0" lengthAdjust="spacingAndGlyphs">1</text><text x="142.7" y="445" font-size="13.2" font-weight="normal" font-family='"Liberation Sans", sans-serif' fill="#111" stroke="#111" stroke-width="0.25" textLength="11.8" lengthAdjust="spacingAndGlyphs">10</text><text x="154.5" y="441.2" font-size="11.2" font-weight="normal" font-family='"Liberation Sans", sans-serif' fill="#111" stroke="#111" stroke-width="0.25" textLength="5.0" lengthAdjust="spacingAndGlyphs">2</text><text x="187.7" y="445" font-size="13.2" font-weight="normal" font-family='"Liberation Sans", sans-serif' fill="#111" stroke="#111" stroke-width="0.25" textLength="11.8" lengthAdjust="spacingAndGlyphs">10</text><text x="199.5" y="441.2" font-size="11.2" font-weight="normal" font-family='"Liberation Sans", sans-serif' fill="#111" stroke="#111" stroke-width="0.25" textLength="5.0" lengthAdjust="spacingAndGlyphs">3</text><text x="232.7" y="445" font-size="13.2" font-weight="normal" font-family='"Liberation Sans", sans-serif' fill="#111" stroke="#111" stroke-width="0.25" textLength="11.8" lengthAdjust="spacingAndGlyphs">10</text><text x="244.5" y="441.2" font-size="11.2" font-weight="normal" font-family='"Liberation Sans", sans-serif' fill="#111" stroke="#111" stroke-width="0.25" textLength="5.0" lengthAdjust="spacingAndGlyphs">4</text><text x="89.3" y="465.1" font-size="14.4" font-weight="bold" font-family='"Liberation Sans", sans-serif' fill="#111" textLength="108.3" lengthAdjust="spacingAndGlyphs">FL1-H: FL1-Height</text><text transform="translate(20.3,398.1) rotate(-90)" font-size="16.0" font-weight="bold" font-family='"Liberation Sans", sans-serif' fill="#111" textLength="107.3" lengthAdjust="spacingAndGlyphs">FL2-H: FL2-Height</text><text x="74.3" y="355" font-size="16.0" font-weight="bold" font-family='"Liberation Sans", sans-serif' fill="#111" textLength="42" lengthAdjust="spacingAndGlyphs">97.4%</text><g clip-path="url(#cpBR)"><path d="M387.7,288C388.6,287.4 389.9,287.3 391,287.2C392.1,287.1 397.5,287.2 399,287.3C400.5,287.4 404.8,288.3 406,288.7C407.2,289.1 410.1,290.9 410.8,291.5C411.5,292.1 412.8,294.1 413,295C413.2,295.9 412.4,299.4 412.5,300.8C412.6,302.2 414.2,307.5 414.2,308.8C414.2,310.1 412.8,312.9 412.5,313.5C412.2,314.1 410.6,314.2 410.8,314.6C411,315.1 414.2,317.3 414.8,318C415.4,318.7 416.6,320.4 416.5,321.5C416.4,322.6 414.9,327.4 414.2,328.5C413.5,329.6 410,331.9 409.2,333C408.4,334.1 406.1,338 406,339.2C405.9,340.4 407.2,343.7 407.7,345.4C408.2,347.1 410.5,353.7 410.8,356C411.1,358.3 411.3,366.5 410.8,368.5C410.3,370.5 406.9,374.6 406,376C405.1,377.4 402.2,380.8 401.5,382.3C400.8,383.9 399.6,390 398.5,391.5C397.4,393 392.7,396.5 390.8,397.7C388.9,398.9 381.4,402.9 380,403.8C378.6,404.7 377.7,406.8 377,407C376.3,407.2 373.6,405.2 373,405.4C372.4,405.5 371.5,407.8 370.8,408.5C370.1,409.2 366.9,412.2 366,412.3C365.1,412.4 361.8,410.7 361.5,410C361.2,409.3 363.3,406.2 363,405.4C362.7,404.6 359.9,403.1 358.5,402.3C357.1,401.5 350.6,398.8 349.2,397.7C347.8,396.6 345.3,392.8 344.6,391.5C343.9,390.2 342.7,386.1 342.5,385C342.3,383.9 342.5,381.7 343,380.8C343.5,379.9 347.3,377.4 347.7,376C348.1,374.6 346.6,368.5 347,367C347.4,365.5 351.1,362.2 351.5,360.8C351.9,359.4 351.1,354.2 351.5,353C351.9,351.8 354.4,349.6 355.4,348.5C356.4,347.4 360.6,343.5 361.5,342.3C362.4,341.1 364.1,337.6 364.6,336.2C365.1,334.8 366.3,330.4 366.9,328.5C367.5,326.6 369.7,319.1 370.4,316.9C371.1,314.7 373,308.5 373.8,306.5C374.6,304.5 377.7,298.7 378.5,297.3C379.3,295.9 381,293.6 381.9,292.7C382.8,291.8 386.8,288.6 387.7,288Z" fill="#145b9f" filter="url(#bl)"/><circle cx="341.5" cy="382" r="2" fill="#145b9f"/><path d="M391,290.5C393.3,290 396.2,290.4 398,292C399.8,293.6 401.1,295.3 401.8,300C402.5,304.7 402.1,312.5 402,320C401.9,327.5 401.1,336.7 401,345C400.9,353.3 401.8,363.2 401.5,370C401.2,376.8 401.4,382.7 399.5,386C397.6,389.3 393,390 390,390C387,390 383.2,391 381.5,386C379.8,381 379.7,369.3 379.5,360C379.3,350.7 380,339.2 380.2,330C380.4,320.8 380.2,310.8 380.8,305C381.4,299.2 382.3,297.4 384,295C385.7,292.6 388.7,291 391,290.5Z" fill="#4ea3d8" filter="url(#bl2)"/><path d="M391,295C393,294.5 395.4,294.5 396.5,299C397.6,303.5 397.5,314.3 397.5,322C397.5,329.7 396.5,336.7 396.5,345C396.5,353.3 397.8,365.7 397.5,372C397.2,378.3 395.9,380.8 394.5,383C393.1,385.2 390.7,385.5 389,385C387.3,384.5 385.5,385.8 384.5,380C383.5,374.2 383.2,359.7 383,350C382.8,340.3 383.2,330 383.5,322C383.8,314 383.2,306.5 384.5,302C385.8,297.5 389,295.5 391,295Z" fill="#6fa64c" filter="url(#bl2)"/><path d="M392,298.5C394.2,297.4 396.6,299.2 398,300.5C399.4,301.8 400.2,303.4 400.4,306C400.6,308.6 400,312.8 399,316C398,319.2 396,322.9 394.5,325C393,327.1 391.6,328.3 390,328.5C388.4,328.7 386.2,327.8 385,326C383.8,324.2 382.5,321.2 382.5,318C382.5,314.8 383.4,310.2 385,307C386.6,303.8 389.8,299.6 392,298.5Z" fill="#f1e31e" filter="url(#bl)"/><path d="M395,303C396,303 396.8,304.5 397,306C397.2,307.5 397.2,310 396.5,312C395.8,314 394.2,316.3 393,318C391.8,319.7 390,321.7 389,322C388,322.3 387.4,321.5 387.2,320C387,318.5 387.4,315.3 388,313C388.6,310.7 389.8,307.7 391,306C392.2,304.3 394,303 395,303Z" fill="#e5323c" filter="url(#bl)"/><path d="M390,351.5C391.2,351 392.5,351.8 393.5,354C394.5,356.2 395.9,361.7 396.2,365C396.5,368.3 396.4,371.9 395.5,374C394.6,376.1 392.6,377.4 391,377.7C389.4,378 387.1,377.6 386,376C384.9,374.4 384.6,371.2 384.6,368C384.6,364.8 385.1,359.8 386,357C386.9,354.2 388.8,352 390,351.5Z" fill="#f1e31e" filter="url(#bl)"/><ellipse cx="394.6" cy="410" rx="2.6" ry="2.2" fill="#145b9f"/><circle cx="409.6" cy="323.8" r="1.7" fill="#fff"/></g><line x1="320" y1="369.3" x2="498.6" y2="369.3" stroke="#cc5c78" stroke-width="1.2"/><line x1="376.8" y1="259" x2="376.8" y2="422.6" stroke="#b46a80" stroke-width="1.0"/><rect x="320" y="259" width="178.6" height="163.6" fill="none" stroke="#111" stroke-width="2.0"/><line x1="320" y1="421.8" x2="315.6" y2="421.8" stroke="#111" stroke-width="1.3"/><line x1="320" y1="409.6" x2="317.6" y2="409.6" stroke="#111" stroke-width="1.1700000000000002"/><line x1="320" y1="402.5" x2="317.6" y2="402.5" stroke="#111" stroke-width="1.1700000000000002"/><line x1="320" y1="397.4" x2="317.6" y2="397.4" stroke="#111" stroke-width="1.1700000000000002"/><line x1="320" y1="393.5" x2="317.6" y2="393.5" stroke="#111" stroke-width="1.1700000000000002"/><line x1="320" y1="390.3" x2="317.6" y2="390.3" stroke="#111" stroke-width="1.1700000000000002"/><line x1="320" y1="387.6" x2="317.6" y2="387.6" stroke="#111" stroke-width="1.1700000000000002"/><line x1="320" y1="385.3" x2="317.6" y2="385.3" stroke="#111" stroke-width="1.1700000000000002"/><line x1="320" y1="383.2" x2="317.6" y2="383.2" stroke="#111" stroke-width="1.1700000000000002"/><line x1="320" y1="381.4" x2="315.6" y2="381.4" stroke="#111" stroke-width="1.3"/><line x1="320" y1="369.2" x2="317.6" y2="369.2" stroke="#111" stroke-width="1.1700000000000002"/><line x1="320" y1="362.1" x2="317.6" y2="362.1" stroke="#111" stroke-width="1.1700000000000002"/><line x1="320" y1="357" x2="317.6" y2="357" stroke="#111" stroke-width="1.1700000000000002"/><line x1="320" y1="353.1" x2="317.6" y2="353.1" stroke="#111" stroke-width="1.1700000000000002"/><line x1="320" y1="349.9" x2="317.6" y2="349.9" stroke="#111" stroke-width="1.1700000000000002"/><line x1="320" y1="347.2" x2="317.6" y2="347.2" stroke="#111" stroke-width="1.1700000000000002"/><line x1="320" y1="344.8" x2="317.6" y2="344.8" stroke="#111" stroke-width="1.1700000000000002"/><line x1="320" y1="342.8" x2="317.6" y2="342.8" stroke="#111" stroke-width="1.1700000000000002"/><line x1="320" y1="340.9" x2="315.6" y2="340.9" stroke="#111" stroke-width="1.3"/><line x1="320" y1="328.7" x2="317.6" y2="328.7" stroke="#111" stroke-width="1.1700000000000002"/><line x1="320" y1="321.6" x2="317.6" y2="321.6" stroke="#111" stroke-width="1.1700000000000002"/><line x1="320" y1="316.5" x2="317.6" y2="316.5" stroke="#111" stroke-width="1.1700000000000002"/><line x1="320" y1="312.6" x2="317.6" y2="312.6" stroke="#111" stroke-width="1.1700000000000002"/><line x1="320" y1="309.4" x2="317.6" y2="309.4" stroke="#111" stroke-width="1.1700000000000002"/><line x1="320" y1="306.7" x2="317.6" y2="306.7" stroke="#111" stroke-width="1.1700000000000002"/><line x1="320" y1="304.4" x2="317.6" y2="304.4" stroke="#111" stroke-width="1.1700000000000002"/><line x1="320" y1="302.3" x2="317.6" y2="302.3" stroke="#111" stroke-width="1.1700000000000002"/><line x1="320" y1="300.4" x2="315.6" y2="300.4" stroke="#111" stroke-width="1.3"/><line x1="320" y1="288.3" x2="317.6" y2="288.3" stroke="#111" stroke-width="1.1700000000000002"/><line x1="320" y1="281.2" x2="317.6" y2="281.2" stroke="#111" stroke-width="1.1700000000000002"/><line x1="320" y1="276.1" x2="317.6" y2="276.1" stroke="#111" stroke-width="1.1700000000000002"/><line x1="320" y1="272.2" x2="317.6" y2="272.2" stroke="#111" stroke-width="1.1700000000000002"/><line x1="320" y1="269" x2="317.6" y2="269" stroke="#111" stroke-width="1.1700000000000002"/><line x1="320" y1="266.3" x2="317.6" y2="266.3" stroke="#111" stroke-width="1.1700000000000002"/><line x1="320" y1="263.9" x2="317.6" y2="263.9" stroke="#111" stroke-width="1.1700000000000002"/><line x1="320" y1="261.9" x2="317.6" y2="261.9" stroke="#111" stroke-width="1.1700000000000002"/><line x1="320" y1="260" x2="315.6" y2="260" stroke="#111" stroke-width="1.3"/><line x1="320.2" y1="422.6" x2="320.2" y2="426.6" stroke="#111" stroke-width="1.3"/><line x1="333.6" y1="422.6" x2="333.6" y2="424.6" stroke="#111" stroke-width="1.1700000000000002"/><line x1="341.5" y1="422.6" x2="341.5" y2="424.6" stroke="#111" stroke-width="1.1700000000000002"/><line x1="347.1" y1="422.6" x2="347.1" y2="424.6" stroke="#111" stroke-width="1.1700000000000002"/><line x1="351.4" y1="422.6" x2="351.4" y2="424.6" stroke="#111" stroke-width="1.1700000000000002"/><line x1="354.9" y1="422.6" x2="354.9" y2="424.6" stroke="#111" stroke-width="1.1700000000000002"/><line x1="357.9" y1="422.6" x2="357.9" y2="424.6" stroke="#111" stroke-width="1.1700000000000002"/><line x1="360.5" y1="422.6" x2="360.5" y2="424.6" stroke="#111" stroke-width="1.1700000000000002"/><line x1="362.8" y1="422.6" x2="362.8" y2="424.6" stroke="#111" stroke-width="1.1700000000000002"/><line x1="364.8" y1="422.6" x2="364.8" y2="426.6" stroke="#111" stroke-width="1.3"/><line x1="378.2" y1="422.6" x2="378.2" y2="424.6" stroke="#111" stroke-width="1.1700000000000002"/><line x1="386.1" y1="422.6" x2="386.1" y2="424.6" stroke="#111" stroke-width="1.1700000000000002"/><line x1="391.7" y1="422.6" x2="391.7" y2="424.6" stroke="#111" stroke-width="1.1700000000000002"/><line x1="396" y1="422.6" x2="396" y2="424.6" stroke="#111" stroke-width="1.1700000000000002"/><line x1="399.5" y1="422.6" x2="399.5" y2="424.6" stroke="#111" stroke-width="1.1700000000000002"/><line x1="402.5" y1="422.6" x2="402.5" y2="424.6" stroke="#111" stroke-width="1.1700000000000002"/><line x1="405.1" y1="422.6" x2="405.1" y2="424.6" stroke="#111" stroke-width="1.1700000000000002"/><line x1="407.4" y1="422.6" x2="407.4" y2="424.6" stroke="#111" stroke-width="1.1700000000000002"/><line x1="409.4" y1="422.6" x2="409.4" y2="426.6" stroke="#111" stroke-width="1.3"/><line x1="422.8" y1="422.6" x2="422.8" y2="424.6" stroke="#111" stroke-width="1.1700000000000002"/><line x1="430.7" y1="422.6" x2="430.7" y2="424.6" stroke="#111" stroke-width="1.1700000000000002"/><line x1="436.3" y1="422.6" x2="436.3" y2="424.6" stroke="#111" stroke-width="1.1700000000000002"/><line x1="440.6" y1="422.6" x2="440.6" y2="424.6" stroke="#111" stroke-width="1.1700000000000002"/><line x1="444.1" y1="422.6" x2="444.1" y2="424.6" stroke="#111" stroke-width="1.1700000000000002"/><line x1="447.1" y1="422.6" x2="447.1" y2="424.6" stroke="#111" stroke-width="1.1700000000000002"/><line x1="449.7" y1="422.6" x2="449.7" y2="424.6" stroke="#111" stroke-width="1.1700000000000002"/><line x1="452" y1="422.6" x2="452" y2="424.6" stroke="#111" stroke-width="1.1700000000000002"/><line x1="454" y1="422.6" x2="454" y2="426.6" stroke="#111" stroke-width="1.3"/><line x1="467.4" y1="422.6" x2="467.4" y2="424.6" stroke="#111" stroke-width="1.1700000000000002"/><line x1="475.3" y1="422.6" x2="475.3" y2="424.6" stroke="#111" stroke-width="1.1700000000000002"/><line x1="480.9" y1="422.6" x2="480.9" y2="424.6" stroke="#111" stroke-width="1.1700000000000002"/><line x1="485.2" y1="422.6" x2="485.2" y2="424.6" stroke="#111" stroke-width="1.1700000000000002"/><line x1="488.7" y1="422.6" x2="488.7" y2="424.6" stroke="#111" stroke-width="1.1700000000000002"/><line x1="491.7" y1="422.6" x2="491.7" y2="424.6" stroke="#111" stroke-width="1.1700000000000002"/><line x1="494.3" y1="422.6" x2="494.3" y2="424.6" stroke="#111" stroke-width="1.1700000000000002"/><line x1="496.6" y1="422.6" x2="496.6" y2="424.6" stroke="#111" stroke-width="1.1700000000000002"/><line x1="498.6" y1="422.6" x2="498.6" y2="426.6" stroke="#111" stroke-width="1.3"/><text x="296.6" y="431.2" font-size="13.4" font-weight="normal" font-family='"Liberation Sans", sans-serif' fill="#111" stroke="#111" stroke-width="0.25" textLength="13.0" lengthAdjust="spacingAndGlyphs">10</text><text x="309.6" y="425.7" font-size="11.0" font-weight="normal" font-family='"Liberation Sans", sans-serif' fill="#111" stroke="#111" stroke-width="0.25" textLength="4.5" lengthAdjust="spacingAndGlyphs">0</text><text x="296.6" y="392.1" font-size="13.4" font-weight="normal" font-family='"Liberation Sans", sans-serif' fill="#111" stroke="#111" stroke-width="0.25" textLength="13.0" lengthAdjust="spacingAndGlyphs">10</text><text x="309.6" y="386.6" font-size="11.0" font-weight="normal" font-family='"Liberation Sans", sans-serif' fill="#111" stroke="#111" stroke-width="0.25" textLength="4.5" lengthAdjust="spacingAndGlyphs">1</text><text x="296.6" y="350.9" font-size="13.4" font-weight="normal" font-family='"Liberation Sans", sans-serif' fill="#111" stroke="#111" stroke-width="0.25" textLength="13.0" lengthAdjust="spacingAndGlyphs">10</text><text x="309.6" y="345.4" font-size="11.0" font-weight="normal" font-family='"Liberation Sans", sans-serif' fill="#111" stroke="#111" stroke-width="0.25" textLength="4.5" lengthAdjust="spacingAndGlyphs">2</text><text x="296.6" y="310.3" font-size="13.4" font-weight="normal" font-family='"Liberation Sans", sans-serif' fill="#111" stroke="#111" stroke-width="0.25" textLength="13.0" lengthAdjust="spacingAndGlyphs">10</text><text x="309.6" y="304.8" font-size="11.0" font-weight="normal" font-family='"Liberation Sans", sans-serif' fill="#111" stroke="#111" stroke-width="0.25" textLength="4.5" lengthAdjust="spacingAndGlyphs">3</text><text x="296.6" y="270.6" font-size="13.4" font-weight="normal" font-family='"Liberation Sans", sans-serif' fill="#111" stroke="#111" stroke-width="0.25" textLength="13.0" lengthAdjust="spacingAndGlyphs">10</text><text x="309.6" y="265.1" font-size="11.0" font-weight="normal" font-family='"Liberation Sans", sans-serif' fill="#111" stroke="#111" stroke-width="0.25" textLength="4.5" lengthAdjust="spacingAndGlyphs">4</text><text x="316.3" y="442" font-size="15.2" font-weight="normal" font-family='"Liberation Sans", sans-serif' fill="#111" stroke="#111" stroke-width="0.25" textLength="12.3" lengthAdjust="spacingAndGlyphs">10</text><text x="328.6" y="438" font-size="12.3" font-weight="normal" font-family='"Liberation Sans", sans-serif' fill="#111" stroke="#111" stroke-width="0.25" textLength="5.6" lengthAdjust="spacingAndGlyphs">0</text><text x="360.6" y="442" font-size="15.2" font-weight="normal" font-family='"Liberation Sans", sans-serif' fill="#111" stroke="#111" stroke-width="0.25" textLength="12.3" lengthAdjust="spacingAndGlyphs">10</text><text x="372.9" y="438" font-size="12.3" font-weight="normal" font-family='"Liberation Sans", sans-serif' fill="#111" stroke="#111" stroke-width="0.25" textLength="5.6" lengthAdjust="spacingAndGlyphs">1</text><text x="404.6" y="442" font-size="15.2" font-weight="normal" font-family='"Liberation Sans", sans-serif' fill="#111" stroke="#111" stroke-width="0.25" textLength="12.3" lengthAdjust="spacingAndGlyphs">10</text><text x="416.9" y="438" font-size="12.3" font-weight="normal" font-family='"Liberation Sans", sans-serif' fill="#111" stroke="#111" stroke-width="0.25" textLength="5.6" lengthAdjust="spacingAndGlyphs">2</text><text x="449.6" y="442" font-size="15.2" font-weight="normal" font-family='"Liberation Sans", sans-serif' fill="#111" stroke="#111" stroke-width="0.25" textLength="12.3" lengthAdjust="spacingAndGlyphs">10</text><text x="461.9" y="438" font-size="12.3" font-weight="normal" font-family='"Liberation Sans", sans-serif' fill="#111" stroke="#111" stroke-width="0.25" textLength="5.6" lengthAdjust="spacingAndGlyphs">3</text><text x="492.3" y="442" font-size="15.2" font-weight="normal" font-family='"Liberation Sans", sans-serif' fill="#111" stroke="#111" stroke-width="0.25" textLength="12.3" lengthAdjust="spacingAndGlyphs">10</text><text x="504.6" y="438" font-size="12.3" font-weight="normal" font-family='"Liberation Sans", sans-serif' fill="#111" stroke="#111" stroke-width="0.25" textLength="5.6" lengthAdjust="spacingAndGlyphs">4</text><text x="356.6" y="471.9" font-size="15.0" font-weight="bold" font-family='"Liberation Sans", sans-serif' fill="#111" textLength="108.1" lengthAdjust="spacingAndGlyphs">FL1-H: FL1-Height</text><text transform="translate(280.1,397.9) rotate(-90)" font-size="16.2" font-weight="bold" font-family='"Liberation Sans", sans-serif' fill="#111" textLength="114.3" lengthAdjust="spacingAndGlyphs">FL2-H: CD14 PE</text><text x="447" y="283.3" font-size="16.2" font-weight="bold" font-family='"Liberation Sans", sans-serif' fill="#111" textLength="43" lengthAdjust="spacingAndGlyphs">93.4%</text><g clip-path="url(#cpCL)"><path d="M57,633.3C57.8,629.9 60.9,639.2 62.7,640C64.5,640.8 68.4,639.8 70.4,639C72.4,638.2 75.7,635.5 78,634.2C80.3,632.9 85.8,630.8 87.7,629.4C89.6,628 91.4,625.1 92.5,623.7C93.6,622.3 95,620 96.3,618.8C97.6,617.6 99.8,615.9 102,615C104.2,614.1 110,612.3 112.7,612C115.4,611.7 119.4,612.7 122,613C124.6,613.3 129.1,614.1 132,614C134.9,613.9 141.4,612.9 143.5,612C145.6,611.1 146.7,608.5 148,607C149.3,605.5 152,602.8 153.5,600.4C155,598 157.8,591.3 159.2,588.8C160.6,586.3 162.7,583.4 164,582C165.3,580.6 166.9,578.9 168.8,578.3C170.7,577.7 176.2,577.8 178.5,577.3C180.8,576.8 184.2,575.3 186,574.4C187.8,573.5 190.4,570.9 192,570.6C193.6,570.3 196.2,571.6 197.7,572.5C199.2,573.4 202.4,575.9 203.5,577.3C204.6,578.7 205.8,580.7 206.3,583C206.8,585.3 206.9,591.3 207.3,594.6C207.7,597.9 209.1,604.1 209.2,608C209.3,611.9 208.8,620.2 208.3,623.5C207.8,626.8 206.8,631 205.4,633C204,635 199.2,637.3 197.7,638.8C196.2,640.3 193.8,642.8 193.8,644.6C193.8,646.4 197.9,650.6 197.7,652.3C197.5,654 194.6,656.1 192,657C189.4,657.9 182.9,658.5 178.5,659C174.1,659.5 163.4,660.1 159.2,660.5C155,660.9 151.2,661.5 147.3,662C143.4,662.5 134.6,663.5 130,664C125.4,664.5 117.6,665.6 112.7,666C107.8,666.4 98.5,667 93.5,667C88.5,667 79.9,666.2 75,666C70.1,665.8 59.4,669.9 57,665.5C54.6,661.1 56.2,636.7 57,633.3Z" fill="#145b9f" filter="url(#bl)"/><path d="M80,656C80,654 85.3,650.7 88,648C90.7,645.3 94.2,642.8 96,640C97.8,637.2 97,633.3 99,631C101,628.7 103.7,627 108,626C112.3,625 119.3,625 125,625C130.7,625 137.7,625 142,626C146.3,627 149.7,627.8 151,631C152.3,634.2 152.2,641.5 150,645C147.8,648.5 143.3,650.3 138,652C132.7,653.7 124,654 118,655C112,656 107,657.2 102,658C97,658.8 91.7,660.3 88,660C84.3,659.7 80,658 80,656Z" fill="#4ea3d8" filter="url(#bl2)"/><path d="M84,655C84,653.5 89.3,650.5 92,648C94.7,645.5 98.2,642.5 100,640C101.8,637.5 101.2,634.8 103,633C104.8,631.2 107.3,629.8 111,629C114.7,628.2 120.2,628 125,628C129.8,628 136.5,628.2 140,629C143.5,629.8 145.2,630.3 146,633C146.8,635.7 146.8,642.2 145,645C143.2,647.8 139.5,648.8 135,650C130.5,651.2 123.3,651.3 118,652C112.7,652.7 107.3,653.2 103,654C98.7,654.8 95.2,656.8 92,657C88.8,657.2 84,656.5 84,655Z" fill="#7fae4c" filter="url(#bl2)"/><ellipse cx="124" cy="640" rx="7" ry="4" fill="#a9c43a" filter="url(#bl2)"/><path d="M182.5,593.6C185.5,593.3 189.3,593.8 192,596C194.7,598.2 197.8,603 198.8,607C199.8,611 199.5,615.8 198,620C196.5,624.2 193.8,628.8 190,632C186.2,635.2 179.2,637.7 175,639C170.8,640.3 167.5,640.8 164.5,640C161.5,639.2 158.1,636.7 157,634C155.9,631.3 156.5,627.8 158,623.8C159.5,619.8 163.3,614.3 166,610C168.7,605.7 171.2,600.7 174,598C176.8,595.3 179.5,593.9 182.5,593.6Z" fill="#4ea3d8" filter="url(#bl2)"/><path d="M184.1,597.7C186.8,597.7 190.8,598.1 193,600C195.2,601.9 196.9,605.5 197.5,609C198.1,612.5 197.9,617.3 196.5,621C195.1,624.7 192.6,628.3 189,631C185.4,633.7 179.3,636 175,637C170.7,638 165.6,638 163,637C160.4,636 159.7,633.7 159.5,631C159.3,628.3 160.4,624.8 162,621C163.6,617.2 166.5,611.5 169,608C171.5,604.5 174.5,601.7 177,600C179.5,598.3 181.4,597.7 184.1,597.7Z" fill="#78ad4a" filter="url(#bl2)"/><path d="M187.4,601.8C190.7,601.6 193.2,602.7 195,605C196.8,607.3 198,612.4 198,615.7C198,619 197,622.5 195,625C193,627.5 189.2,629.5 186,631C182.8,632.5 178.8,633.6 176,634C173.2,634.4 171.3,634.8 169.4,633.6C167.5,632.4 164.9,629.9 164.5,627C164.1,624.1 165.2,619.5 167,616C168.8,612.5 171.6,608.4 175,606C178.4,603.6 184.1,602 187.4,601.8Z" fill="#f1e31e" filter="url(#bl)"/><path d="M184,611.6C185.6,611.5 188.6,611.4 190,612.5C191.4,613.6 192.3,615.9 192.3,618C192.3,620.1 191.4,623.4 190,625C188.6,626.6 186,627 184,627.5C182,628 179.6,628.1 178,628C176.4,627.9 174.6,627.8 174.3,627C174,626.2 175.2,624.5 176,623C176.8,621.5 178.2,619.7 179,618C179.8,616.3 179.7,614.1 180.5,613C181.3,611.9 182.4,611.7 184,611.6Z" fill="#e5323c" filter="url(#bl)"/><ellipse cx="77.8" cy="505.5" rx="1.9" ry="2.3" fill="#1f4680"/><ellipse cx="111.6" cy="505.5" rx="4.6" ry="2.3" fill="#1f4680"/><ellipse cx="130.8" cy="505.5" rx="8.2" ry="2.3" fill="#1f4680"/><ellipse cx="149.3" cy="505.5" rx="6.7" ry="2.3" fill="#1f4680"/><ellipse cx="170.6" cy="505.5" rx="3.6" ry="2.3" fill="#1f4680"/><ellipse cx="202.1" cy="505.5" rx="4.1" ry="2.3" fill="#1f4680"/><ellipse cx="213.6" cy="505.5" rx="1.9" ry="2.3" fill="#1f4680"/><circle cx="70.4" cy="635.2" r="1.2" fill="#1a3f78"/></g><polygon points="152.3,605 175.1,581.3 211.1,574.8 216,604.2 213.6,635.3 159.6,648.4 149.8,628.7" fill="none" stroke="#c67ec6" stroke-width="1.1"/><rect x="55.6" y="503.9" width="183.9" height="170.4" fill="none" stroke="#111" stroke-width="2.0"/><line x1="51" y1="673.4" x2="55.6" y2="673.4" stroke="#111" stroke-width="1.4"/><line x1="53.3" y1="665.2" x2="55.6" y2="665.2" stroke="#111" stroke-width="1.0"/><line x1="53.3" y1="657" x2="55.6" y2="657" stroke="#111" stroke-width="1.0"/><line x1="53.3" y1="648.8" x2="55.6" y2="648.8" stroke="#111" stroke-width="1.0"/><line x1="51" y1="640.6" x2="55.6" y2="640.6" stroke="#111" stroke-width="1.4"/><line x1="53.3" y1="632.4" x2="55.6" y2="632.4" stroke="#111" stroke-width="1.0"/><line x1="53.3" y1="624.3" x2="55.6" y2="624.3" stroke="#111" stroke-width="1.0"/><line x1="53.3" y1="616.1" x2="55.6" y2="616.1" stroke="#111" stroke-width="1.0"/><line x1="51" y1="607.9" x2="55.6" y2="607.9" stroke="#111" stroke-width="1.4"/><line x1="53.3" y1="599.7" x2="55.6" y2="599.7" stroke="#111" stroke-width="1.0"/><line x1="53.3" y1="591.5" x2="55.6" y2="591.5" stroke="#111" stroke-width="1.0"/><line x1="53.3" y1="583.3" x2="55.6" y2="583.3" stroke="#111" stroke-width="1.0"/><line x1="51" y1="575.1" x2="55.6" y2="575.1" stroke="#111" stroke-width="1.4"/><line x1="53.3" y1="566.9" x2="55.6" y2="566.9" stroke="#111" stroke-width="1.0"/><line x1="53.3" y1="558.7" x2="55.6" y2="558.7" stroke="#111" stroke-width="1.0"/><line x1="53.3" y1="550.5" x2="55.6" y2="550.5" stroke="#111" stroke-width="1.0"/><line x1="51" y1="542.4" x2="55.6" y2="542.4" stroke="#111" stroke-width="1.4"/><line x1="53.3" y1="534.2" x2="55.6" y2="534.2" stroke="#111" stroke-width="1.0"/><line x1="53.3" y1="526" x2="55.6" y2="526" stroke="#111" stroke-width="1.0"/><line x1="53.3" y1="517.8" x2="55.6" y2="517.8" stroke="#111" stroke-width="1.0"/><line x1="51" y1="509.6" x2="55.6" y2="509.6" stroke="#111" stroke-width="1.4"/><line x1="56" y1="674.3" x2="56" y2="678.3" stroke="#111" stroke-width="1.3"/><line x1="69.6" y1="674.3" x2="69.6" y2="676.3" stroke="#111" stroke-width="1.1700000000000002"/><line x1="77.6" y1="674.3" x2="77.6" y2="676.3" stroke="#111" stroke-width="1.1700000000000002"/><line x1="83.3" y1="674.3" x2="83.3" y2="676.3" stroke="#111" stroke-width="1.1700000000000002"/><line x1="87.7" y1="674.3" x2="87.7" y2="676.3" stroke="#111" stroke-width="1.1700000000000002"/><line x1="91.3" y1="674.3" x2="91.3" y2="676.3" stroke="#111" stroke-width="1.1700000000000002"/><line x1="94.3" y1="674.3" x2="94.3" y2="676.3" stroke="#111" stroke-width="1.1700000000000002"/><line x1="96.9" y1="674.3" x2="96.9" y2="676.3" stroke="#111" stroke-width="1.1700000000000002"/><line x1="99.2" y1="674.3" x2="99.2" y2="676.3" stroke="#111" stroke-width="1.1700000000000002"/><line x1="101.3" y1="674.3" x2="101.3" y2="678.3" stroke="#111" stroke-width="1.3"/><line x1="114.9" y1="674.3" x2="114.9" y2="676.3" stroke="#111" stroke-width="1.1700000000000002"/><line x1="122.9" y1="674.3" x2="122.9" y2="676.3" stroke="#111" stroke-width="1.1700000000000002"/><line x1="128.6" y1="674.3" x2="128.6" y2="676.3" stroke="#111" stroke-width="1.1700000000000002"/><line x1="133" y1="674.3" x2="133" y2="676.3" stroke="#111" stroke-width="1.1700000000000002"/><line x1="136.6" y1="674.3" x2="136.6" y2="676.3" stroke="#111" stroke-width="1.1700000000000002"/><line x1="139.6" y1="674.3" x2="139.6" y2="676.3" stroke="#111" stroke-width="1.1700000000000002"/><line x1="142.2" y1="674.3" x2="142.2" y2="676.3" stroke="#111" stroke-width="1.1700000000000002"/><line x1="144.5" y1="674.3" x2="144.5" y2="676.3" stroke="#111" stroke-width="1.1700000000000002"/><line x1="146.6" y1="674.3" x2="146.6" y2="678.3" stroke="#111" stroke-width="1.3"/><line x1="160.2" y1="674.3" x2="160.2" y2="676.3" stroke="#111" stroke-width="1.1700000000000002"/><line x1="168.2" y1="674.3" x2="168.2" y2="676.3" stroke="#111" stroke-width="1.1700000000000002"/><line x1="173.9" y1="674.3" x2="173.9" y2="676.3" stroke="#111" stroke-width="1.1700000000000002"/><line x1="178.3" y1="674.3" x2="178.3" y2="676.3" stroke="#111" stroke-width="1.1700000000000002"/><line x1="181.9" y1="674.3" x2="181.9" y2="676.3" stroke="#111" stroke-width="1.1700000000000002"/><line x1="184.9" y1="674.3" x2="184.9" y2="676.3" stroke="#111" stroke-width="1.1700000000000002"/><line x1="187.5" y1="674.3" x2="187.5" y2="676.3" stroke="#111" stroke-width="1.1700000000000002"/><line x1="189.8" y1="674.3" x2="189.8" y2="676.3" stroke="#111" stroke-width="1.1700000000000002"/><line x1="191.9" y1="674.3" x2="191.9" y2="678.3" stroke="#111" stroke-width="1.3"/><line x1="205.5" y1="674.3" x2="205.5" y2="676.3" stroke="#111" stroke-width="1.1700000000000002"/><line x1="213.5" y1="674.3" x2="213.5" y2="676.3" stroke="#111" stroke-width="1.1700000000000002"/><line x1="219.2" y1="674.3" x2="219.2" y2="676.3" stroke="#111" stroke-width="1.1700000000000002"/><line x1="223.6" y1="674.3" x2="223.6" y2="676.3" stroke="#111" stroke-width="1.1700000000000002"/><line x1="227.2" y1="674.3" x2="227.2" y2="676.3" stroke="#111" stroke-width="1.1700000000000002"/><line x1="230.2" y1="674.3" x2="230.2" y2="676.3" stroke="#111" stroke-width="1.1700000000000002"/><line x1="232.8" y1="674.3" x2="232.8" y2="676.3" stroke="#111" stroke-width="1.1700000000000002"/><line x1="235.1" y1="674.3" x2="235.1" y2="676.3" stroke="#111" stroke-width="1.1700000000000002"/><line x1="237.2" y1="674.3" x2="237.2" y2="678.3" stroke="#111" stroke-width="1.3"/><text x="26.5" y="517" font-size="13.0" font-weight="normal" font-family='"Liberation Serif", serif' fill="#1a1a1a" stroke="#1a1a1a" stroke-width="0.25" textLength="24.1" lengthAdjust="spacingAndGlyphs">1000</text><text x="31.3" y="550" font-size="13.0" font-weight="normal" font-family='"Liberation Serif", serif' fill="#1a1a1a" stroke="#1a1a1a" stroke-width="0.25" textLength="19.3" lengthAdjust="spacingAndGlyphs">800</text><text x="31.3" y="582.4" font-size="13.0" font-weight="normal" font-family='"Liberation Serif", serif' fill="#1a1a1a" stroke="#1a1a1a" stroke-width="0.25" textLength="19.3" lengthAdjust="spacingAndGlyphs">600</text><text x="31.3" y="615" font-size="13.0" font-weight="normal" font-family='"Liberation Serif", serif' fill="#1a1a1a" stroke="#1a1a1a" stroke-width="0.25" textLength="19.3" lengthAdjust="spacingAndGlyphs">400</text><text x="31.3" y="647.9" font-size="13.0" font-weight="normal" font-family='"Liberation Serif", serif' fill="#1a1a1a" stroke="#1a1a1a" stroke-width="0.25" textLength="19.3" lengthAdjust="spacingAndGlyphs">200</text><text x="38.5" y="682.3" font-size="13.0" font-weight="normal" font-family='"Liberation Serif", serif' fill="#1a1a1a" stroke="#1a1a1a" stroke-width="0.25" textLength="6.4" lengthAdjust="spacingAndGlyphs">0</text><text x="52" y="692.2" font-size="13.0" font-weight="normal" font-family='"Liberation Serif", serif' fill="#111" stroke="#111" stroke-width="0.25" textLength="10.7" lengthAdjust="spacingAndGlyphs">10</text><text x="62.7" y="689.2" font-size="11.6" font-weight="normal" font-family='"Liberation Serif", serif' fill="#111" stroke="#111" stroke-width="0.25" textLength="5.8" lengthAdjust="spacingAndGlyphs">0</text><text x="97.7" y="692.2" font-size="13.0" font-weight="normal" font-family='"Liberation Serif", serif' fill="#111" stroke="#111" stroke-width="0.25" textLength="10.7" lengthAdjust="spacingAndGlyphs">10</text><text x="108.4" y="689.2" font-size="11.6" font-weight="normal" font-family='"Liberation Serif", serif' fill="#111" stroke="#111" stroke-width="0.25" textLength="5.8" lengthAdjust="spacingAndGlyphs">1</text><text x="142.3" y="692.2" font-size="13.0" font-weight="normal" font-family='"Liberation Serif", serif' fill="#111" stroke="#111" stroke-width="0.25" textLength="10.7" lengthAdjust="spacingAndGlyphs">10</text><text x="153" y="689.2" font-size="11.6" font-weight="normal" font-family='"Liberation Serif", serif' fill="#111" stroke="#111" stroke-width="0.25" textLength="5.8" lengthAdjust="spacingAndGlyphs">2</text><text x="187.8" y="692.2" font-size="13.0" font-weight="normal" font-family='"Liberation Serif", serif' fill="#111" stroke="#111" stroke-width="0.25" textLength="10.7" lengthAdjust="spacingAndGlyphs">10</text><text x="198.5" y="689.2" font-size="11.6" font-weight="normal" font-family='"Liberation Serif", serif' fill="#111" stroke="#111" stroke-width="0.25" textLength="5.8" lengthAdjust="spacingAndGlyphs">3</text><text x="232" y="692.2" font-size="13.0" font-weight="normal" font-family='"Liberation Serif", serif' fill="#111" stroke="#111" stroke-width="0.25" textLength="10.7" lengthAdjust="spacingAndGlyphs">10</text><text x="242.7" y="689.2" font-size="11.6" font-weight="normal" font-family='"Liberation Serif", serif' fill="#111" stroke="#111" stroke-width="0.25" textLength="5.8" lengthAdjust="spacingAndGlyphs">4</text><text x="95.9" y="722.5" font-size="14.2" font-weight="bold" font-family='"Liberation Sans", sans-serif' fill="#111" textLength="95.5" lengthAdjust="spacingAndGlyphs">FL2-H: CD14 PE</text><text transform="translate(20.2,663.3) rotate(-90)" font-size="16.5" font-weight="bold" font-family='"Liberation Sans", sans-serif' fill="#111" textLength="139.9" lengthAdjust="spacingAndGlyphs">SSC-H: SSC-Height</text><path d="M356,678.8C356.7,678.7 361.1,678.6 362.3,678.2C363.5,677.9 365.2,676.6 366,675.8C366.8,675 368.5,672.4 369.2,671.1C369.9,669.8 371.3,666.6 371.8,665C372.3,663.4 373,660.2 373.5,657.3C374,654.4 375.6,643.6 376.1,640C376.6,636.4 377,633 377.5,626.5C378,620 379.7,592.2 380.2,584.4C380.7,576.6 381.3,565.2 381.7,559.6C382.1,554 383,540.3 383.3,536C383.6,531.7 384.2,524.9 384.5,523C384.8,521.1 385.4,520.2 385.8,519.9C386.2,519.6 387.3,519.9 387.6,520.5C387.9,521.1 388.3,523.8 388.6,525C388.9,526.2 390,529.6 390.4,531C390.8,532.4 391.2,533.7 391.6,537C392,540.3 393,554.1 393.4,559.6C393.8,565.1 394.2,577.4 394.6,584.4C395,591.4 396.1,613.5 396.5,620C396.9,626.5 397.5,636.3 397.8,640C398.1,643.7 398.9,649.8 399.2,652C399.5,654.2 400.2,656.9 400.6,658.5C401,660.1 402.2,664 402.8,665.5C403.4,667 404.7,669.9 405.6,671.1C406.5,672.3 409.1,675 410.5,675.8C411.9,676.6 416.1,677.9 417.7,678.2C419.3,678.6 423.3,678.7 424,678.8Z" fill="#dfe3ea" stroke="none"/><path d="M356,678.8C356.7,678.7 361.1,678.6 362.3,678.2C363.5,677.9 365.2,676.6 366,675.8C366.8,675 368.5,672.4 369.2,671.1C369.9,669.8 371.3,666.6 371.8,665C372.3,663.4 373,660.2 373.5,657.3C374,654.4 375.6,643.6 376.1,640C376.6,636.4 377,633 377.5,626.5C378,620 379.7,592.2 380.2,584.4C380.7,576.6 381.3,565.2 381.7,559.6C382.1,554 383,540.3 383.3,536C383.6,531.7 384.2,524.9 384.5,523C384.8,521.1 385.4,520.2 385.8,519.9C386.2,519.6 387.3,519.9 387.6,520.5C387.9,521.1 388.3,523.8 388.6,525C388.9,526.2 390,529.6 390.4,531C390.8,532.4 391.2,533.7 391.6,537C392,540.3 393,554.1 393.4,559.6C393.8,565.1 394.2,577.4 394.6,584.4C395,591.4 396.1,613.5 396.5,620C396.9,626.5 397.5,636.3 397.8,640C398.1,643.7 398.9,649.8 399.2,652C399.5,654.2 400.2,656.9 400.6,658.5C401,660.1 402.2,664 402.8,665.5C403.4,667 404.7,669.9 405.6,671.1C406.5,672.3 409.1,675 410.5,675.8C411.9,676.6 416.1,677.9 417.7,678.2C419.3,678.6 423.3,678.7 424,678.8" fill="none" stroke="#111" stroke-width="1.9"/><rect x="315.5" y="505.5" width="188.3" height="174" fill="none" stroke="#111" stroke-width="1.8"/><line x1="375" y1="628.2" x2="502.5" y2="628.2" stroke="#222" stroke-width="2.8"/><line x1="375" y1="624" x2="375" y2="632.5" stroke="#222" stroke-width="1.4"/><line x1="502.2" y1="623.7" x2="502.2" y2="632.3" stroke="#444" stroke-width="1.4"/><line x1="311.6" y1="678.7" x2="315.5" y2="678.7" stroke="#111" stroke-width="1.3"/><line x1="313.6" y1="666.1" x2="315.5" y2="666.1" stroke="#111" stroke-width="1.0"/><line x1="313.6" y1="653.5" x2="315.5" y2="653.5" stroke="#111" stroke-width="1.0"/><line x1="313.6" y1="640.9" x2="315.5" y2="640.9" stroke="#111" stroke-width="1.0"/><line x1="311.6" y1="628.3" x2="315.5" y2="628.3" stroke="#111" stroke-width="1.3"/><line x1="313.6" y1="615.7" x2="315.5" y2="615.7" stroke="#111" stroke-width="1.0"/><line x1="313.6" y1="603.1" x2="315.5" y2="603.1" stroke="#111" stroke-width="1.0"/><line x1="313.6" y1="590.5" x2="315.5" y2="590.5" stroke="#111" stroke-width="1.0"/><line x1="311.6" y1="577.9" x2="315.5" y2="577.9" stroke="#111" stroke-width="1.3"/><line x1="313.6" y1="565.3" x2="315.5" y2="565.3" stroke="#111" stroke-width="1.0"/><line x1="313.6" y1="552.7" x2="315.5" y2="552.7" stroke="#111" stroke-width="1.0"/><line x1="313.6" y1="540.1" x2="315.5" y2="540.1" stroke="#111" stroke-width="1.0"/><line x1="311.6" y1="527.5" x2="315.5" y2="527.5" stroke="#111" stroke-width="1.3"/><line x1="313.6" y1="514.9" x2="315.5" y2="514.9" stroke="#111" stroke-width="1.0"/><line x1="316.2" y1="679.5" x2="316.2" y2="683" stroke="#111" stroke-width="1.2"/><line x1="330.3" y1="679.5" x2="330.3" y2="681.5" stroke="#111" stroke-width="1.08"/><line x1="338.5" y1="679.5" x2="338.5" y2="681.5" stroke="#111" stroke-width="1.08"/><line x1="344.4" y1="679.5" x2="344.4" y2="681.5" stroke="#111" stroke-width="1.08"/><line x1="348.9" y1="679.5" x2="348.9" y2="681.5" stroke="#111" stroke-width="1.08"/><line x1="352.6" y1="679.5" x2="352.6" y2="681.5" stroke="#111" stroke-width="1.08"/><line x1="355.8" y1="679.5" x2="355.8" y2="681.5" stroke="#111" stroke-width="1.08"/><line x1="358.5" y1="679.5" x2="358.5" y2="681.5" stroke="#111" stroke-width="1.08"/><line x1="360.9" y1="679.5" x2="360.9" y2="681.5" stroke="#111" stroke-width="1.08"/><line x1="363" y1="679.5" x2="363" y2="683" stroke="#111" stroke-width="1.2"/><line x1="377.1" y1="679.5" x2="377.1" y2="681.5" stroke="#111" stroke-width="1.08"/><line x1="385.3" y1="679.5" x2="385.3" y2="681.5" stroke="#111" stroke-width="1.08"/><line x1="391.2" y1="679.5" x2="391.2" y2="681.5" stroke="#111" stroke-width="1.08"/><line x1="395.7" y1="679.5" x2="395.7" y2="681.5" stroke="#111" stroke-width="1.08"/><line x1="399.4" y1="679.5" x2="399.4" y2="681.5" stroke="#111" stroke-width="1.08"/><line x1="402.6" y1="679.5" x2="402.6" y2="681.5" stroke="#111" stroke-width="1.08"/><line x1="405.3" y1="679.5" x2="405.3" y2="681.5" stroke="#111" stroke-width="1.08"/><line x1="407.7" y1="679.5" x2="407.7" y2="681.5" stroke="#111" stroke-width="1.08"/><line x1="409.8" y1="679.5" x2="409.8" y2="683" stroke="#111" stroke-width="1.2"/><line x1="423.9" y1="679.5" x2="423.9" y2="681.5" stroke="#111" stroke-width="1.08"/><line x1="432.1" y1="679.5" x2="432.1" y2="681.5" stroke="#111" stroke-width="1.08"/><line x1="438" y1="679.5" x2="438" y2="681.5" stroke="#111" stroke-width="1.08"/><line x1="442.5" y1="679.5" x2="442.5" y2="681.5" stroke="#111" stroke-width="1.08"/><line x1="446.2" y1="679.5" x2="446.2" y2="681.5" stroke="#111" stroke-width="1.08"/><line x1="449.4" y1="679.5" x2="449.4" y2="681.5" stroke="#111" stroke-width="1.08"/><line x1="452.1" y1="679.5" x2="452.1" y2="681.5" stroke="#111" stroke-width="1.08"/><line x1="454.5" y1="679.5" x2="454.5" y2="681.5" stroke="#111" stroke-width="1.08"/><line x1="456.6" y1="679.5" x2="456.6" y2="683" stroke="#111" stroke-width="1.2"/><line x1="470.7" y1="679.5" x2="470.7" y2="681.5" stroke="#111" stroke-width="1.08"/><line x1="478.9" y1="679.5" x2="478.9" y2="681.5" stroke="#111" stroke-width="1.08"/><line x1="484.8" y1="679.5" x2="484.8" y2="681.5" stroke="#111" stroke-width="1.08"/><line x1="489.3" y1="679.5" x2="489.3" y2="681.5" stroke="#111" stroke-width="1.08"/><line x1="493" y1="679.5" x2="493" y2="681.5" stroke="#111" stroke-width="1.08"/><line x1="496.2" y1="679.5" x2="496.2" y2="681.5" stroke="#111" stroke-width="1.08"/><line x1="498.9" y1="679.5" x2="498.9" y2="681.5" stroke="#111" stroke-width="1.08"/><line x1="501.3" y1="679.5" x2="501.3" y2="681.5" stroke="#111" stroke-width="1.08"/><line x1="503.4" y1="679.5" x2="503.4" y2="683" stroke="#111" stroke-width="1.2"/><text x="292" y="534.6" font-size="13.2" font-weight="normal" font-family='"Liberation Serif", serif' fill="#1a1a1a" stroke="#1a1a1a" stroke-width="0.25" textLength="19.0" lengthAdjust="spacingAndGlyphs">300</text><text x="292" y="585.2" font-size="13.2" font-weight="normal" font-family='"Liberation Serif", serif' fill="#1a1a1a" stroke="#1a1a1a" stroke-width="0.25" textLength="19.0" lengthAdjust="spacingAndGlyphs">200</text><text x="292" y="635.2" font-size="13.2" font-weight="normal" font-family='"Liberation Serif", serif' fill="#1a1a1a" stroke="#1a1a1a" stroke-width="0.25" textLength="19.0" lengthAdjust="spacingAndGlyphs">100</text><text x="304.4" y="686.6" font-size="13.2" font-weight="normal" font-family='"Liberation Serif", serif' fill="#1a1a1a" stroke="#1a1a1a" stroke-width="0.25" textLength="6.6" lengthAdjust="spacingAndGlyphs">0</text><text x="312.7" y="697" font-size="14.0" font-weight="normal" font-family='"Liberation Serif", serif' fill="#111" stroke="#111" stroke-width="0.25" textLength="10.3" lengthAdjust="spacingAndGlyphs">10</text><text x="323" y="692.3" font-size="12.2" font-weight="normal" font-family='"Liberation Serif", serif' fill="#111" stroke="#111" stroke-width="0.25" textLength="5.2" lengthAdjust="spacingAndGlyphs">0</text><text x="358.8" y="697" font-size="14.0" font-weight="normal" font-family='"Liberation Serif", serif' fill="#111" stroke="#111" stroke-width="0.25" textLength="10.3" lengthAdjust="spacingAndGlyphs">10</text><text x="369.1" y="692.3" font-size="12.2" font-weight="normal" font-family='"Liberation Serif", serif' fill="#111" stroke="#111" stroke-width="0.25" textLength="5.2" lengthAdjust="spacingAndGlyphs">1</text><text x="403.6" y="697" font-size="14.0" font-weight="normal" font-family='"Liberation Serif", serif' fill="#111" stroke="#111" stroke-width="0.25" textLength="10.3" lengthAdjust="spacingAndGlyphs">10</text><text x="413.9" y="692.3" font-size="12.2" font-weight="normal" font-family='"Liberation Serif", serif' fill="#111" stroke="#111" stroke-width="0.25" textLength="5.2" lengthAdjust="spacingAndGlyphs">2</text><text x="450" y="697" font-size="14.0" font-weight="normal" font-family='"Liberation Serif", serif' fill="#111" stroke="#111" stroke-width="0.25" textLength="10.3" lengthAdjust="spacingAndGlyphs">10</text><text x="460.3" y="692.3" font-size="12.2" font-weight="normal" font-family='"Liberation Serif", serif' fill="#111" stroke="#111" stroke-width="0.25" textLength="5.2" lengthAdjust="spacingAndGlyphs">3</text><text x="490" y="697" font-size="14.0" font-weight="normal" font-family='"Liberation Serif", serif' fill="#111" stroke="#111" stroke-width="0.25" textLength="10.3" lengthAdjust="spacingAndGlyphs">10</text><text x="500.3" y="692.3" font-size="12.2" font-weight="normal" font-family='"Liberation Serif", serif' fill="#111" stroke="#111" stroke-width="0.25" textLength="5.2" lengthAdjust="spacingAndGlyphs">4</text><text x="349.8" y="718.7" font-size="15.0" font-weight="bold" font-family='"Liberation Sans", sans-serif' fill="#111" textLength="134.6" lengthAdjust="spacingAndGlyphs">Annexin II-FITC Height</text><text transform="translate(284.5,653.1) rotate(-90)" font-size="16.5" font-weight="bold" font-family='"Liberation Sans", sans-serif' fill="#111" textLength="125.6" lengthAdjust="spacingAndGlyphs">Histogram Height</text><text x="459.5" y="592.3" font-size="14.5" font-weight="bold" font-family='"Liberation Sans", sans-serif' fill="#111" textLength="42.5" lengthAdjust="spacingAndGlyphs">96.8%</text></svg></body></html>
